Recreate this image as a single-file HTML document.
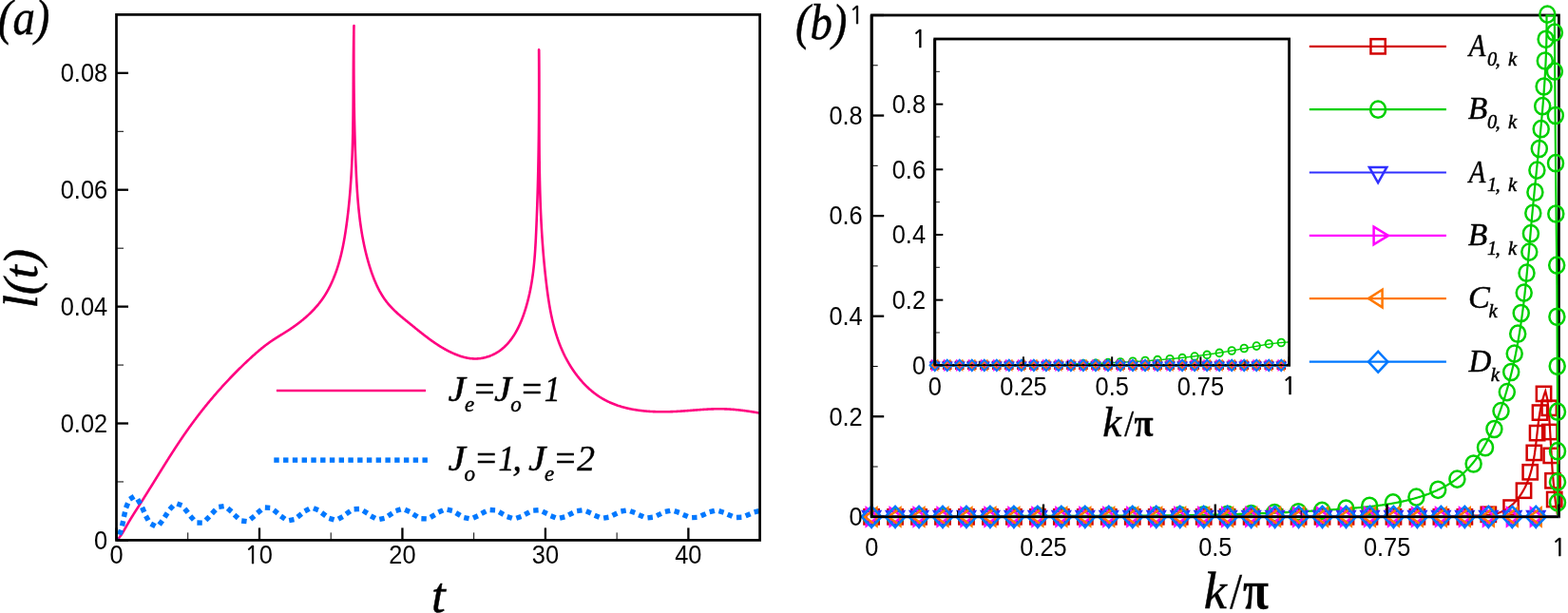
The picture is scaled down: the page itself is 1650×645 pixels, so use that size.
<!DOCTYPE html>
<html><head><meta charset="utf-8"><title>Figure</title>
<style>html,body{margin:0;padding:0;background:#fff;overflow:hidden;} svg{display:block;}</style></head>
<body>
<svg width="1650" height="645" viewBox="0 0 1650 645">
<rect x="0" y="0" width="1650" height="645" fill="#fff"/>
<path d="M122.75,568.62 L123.24,568.13 L123.73,567.63 L124.2,567.12 L124.66,566.6 L125.11,566.07 L125.55,565.53 L125.97,564.99 L126.39,564.44 L126.8,563.88 L127.21,563.32 L127.6,562.75 L127.99,562.17 L128.37,561.59 L128.74,561.01 L129.11,560.42 L129.47,559.83 L129.83,559.23 L130.19,558.63 L130.54,558.03 L130.89,557.43 L131.24,556.82 L131.58,556.21 L131.92,555.6 L132.27,554.99 L132.61,554.38 L132.95,553.77 L133.29,553.16 L133.64,552.55 L133.98,551.95 L134.33,551.34 L134.68,550.73 L135.03,550.13 L135.39,549.53 L135.74,548.92 L136.1,548.32 L136.46,547.72 L136.82,547.12 L137.18,546.52 L137.54,545.93 L137.9,545.33 L138.27,544.74 L138.63,544.14 L139,543.55 L139.37,542.95 L139.74,542.36 L140.11,541.77 L140.48,541.18 L140.85,540.59 L141.23,539.99 L141.6,539.4 L141.97,538.81 L142.35,538.22 L142.72,537.64 L143.1,537.05 L143.48,536.46 L143.85,535.87 L144.23,535.28 L144.61,534.69 L144.99,534.11 L145.36,533.52 L145.74,532.93 L146.12,532.34 L146.5,531.75 L146.87,531.17 L147.25,530.58 L147.63,529.99 L148,529.4 L148.38,528.81 L148.76,528.22 L149.13,527.63 L149.51,527.04 L149.88,526.45 L150.26,525.86 L150.63,525.27 L151.01,524.68 L151.38,524.09 L151.75,523.5 L152.13,522.9 L152.5,522.31 L152.87,521.72 L153.24,521.13 L153.62,520.54 L153.99,519.94 L154.36,519.35 L154.73,518.76 L155.1,518.16 L155.47,517.57 L155.84,516.98 L156.21,516.38 L156.58,515.79 L156.95,515.19 L157.32,514.6 L157.69,514.01 L158.06,513.41 L158.43,512.82 L158.8,512.22 L159.17,511.63 L159.54,511.03 L159.91,510.44 L160.28,509.84 L160.65,509.25 L161.02,508.65 L161.38,508.06 L161.75,507.46 L162.12,506.86 L162.49,506.27 L162.86,505.67 L163.23,505.08 L163.6,504.48 L163.96,503.89 L164.33,503.29 L164.7,502.7 L165.07,502.1 L165.44,501.5 L165.81,500.91 L166.18,500.31 L166.54,499.72 L166.91,499.12 L167.28,498.53 L167.65,497.93 L168.02,497.34 L168.39,496.74 L168.76,496.15 L169.13,495.55 L169.5,494.95 L169.87,494.36 L170.24,493.77 L170.61,493.17 L170.98,492.58 L171.35,491.98 L171.72,491.39 L172.09,490.79 L172.46,490.2 L172.83,489.6 L173.2,489.01 L173.57,488.42 L173.94,487.82 L174.32,487.23 L174.69,486.64 L175.06,486.04 L175.43,485.45 L175.81,484.86 L176.18,484.27 L176.56,483.67 L176.93,483.08 L177.3,482.49 L177.68,481.9 L178.05,481.31 L178.43,480.72 L178.8,480.13 L179.18,479.54 L179.56,478.95 L179.93,478.36 L180.31,477.77 L180.69,477.18 L181.07,476.59 L181.45,476 L181.83,475.41 L182.2,474.82 L182.58,474.23 L182.97,473.65 L183.35,473.06 L183.73,472.47 L184.11,471.89 L184.49,471.3 L184.87,470.71 L185.26,470.13 L185.64,469.54 L186.03,468.96 L186.41,468.38 L186.8,467.79 L187.18,467.21 L187.57,466.63 L187.96,466.04 L188.34,465.46 L188.73,464.88 L189.12,464.3 L189.51,463.72 L189.9,463.14 L190.29,462.56 L190.68,461.98 L191.08,461.4 L191.47,460.82 L191.86,460.24 L192.26,459.66 L192.65,459.09 L193.05,458.51 L193.44,457.94 L193.84,457.36 L194.24,456.79 L194.64,456.21 L195.04,455.64 L195.44,455.06 L195.84,454.49 L196.24,453.92 L196.64,453.35 L197.04,452.78 L197.45,452.21 L197.85,451.64 L198.26,451.07 L198.66,450.5 L199.07,449.93 L199.48,449.36 L199.89,448.8 L200.3,448.23 L200.71,447.66 L201.12,447.1 L201.53,446.53 L201.94,445.97 L202.36,445.41 L202.77,444.84 L203.18,444.28 L203.6,443.72 L204.02,443.16 L204.43,442.6 L204.85,442.04 L205.27,441.48 L205.69,440.92 L206.11,440.36 L206.53,439.8 L206.95,439.25 L207.38,438.69 L207.8,438.13 L208.22,437.58 L208.65,437.02 L209.07,436.47 L209.5,435.92 L209.93,435.36 L210.35,434.81 L210.78,434.26 L211.21,433.71 L211.64,433.16 L212.07,432.61 L212.51,432.06 L212.94,431.51 L213.37,430.96 L213.81,430.42 L214.24,429.87 L214.68,429.32 L215.11,428.78 L215.55,428.23 L215.99,427.69 L216.43,427.15 L216.87,426.6 L217.31,426.06 L217.75,425.52 L218.19,424.98 L218.64,424.44 L219.08,423.9 L219.52,423.36 L219.97,422.82 L220.41,422.29 L220.86,421.75 L221.31,421.21 L221.76,420.68 L222.21,420.14 L222.66,419.61 L223.11,419.07 L223.56,418.54 L224.01,418.01 L224.46,417.47 L224.92,416.94 L225.37,416.41 L225.83,415.88 L226.28,415.35 L226.74,414.83 L227.2,414.3 L227.65,413.77 L228.11,413.24 L228.57,412.72 L229.03,412.19 L229.5,411.67 L229.96,411.14 L230.42,410.62 L230.88,410.1 L231.35,409.58 L231.81,409.06 L232.28,408.53 L232.75,408.02 L233.22,407.5 L233.68,406.98 L234.15,406.46 L234.62,405.94 L235.09,405.43 L235.57,404.91 L236.04,404.4 L236.51,403.88 L236.99,403.37 L237.46,402.85 L237.94,402.34 L238.41,401.83 L238.89,401.32 L239.37,400.81 L239.84,400.3 L240.32,399.79 L240.8,399.28 L241.29,398.78 L241.77,398.27 L242.25,397.76 L242.73,397.26 L243.22,396.75 L243.7,396.25 L244.19,395.75 L244.67,395.24 L245.16,394.74 L245.65,394.24 L246.14,393.74 L246.63,393.24 L247.12,392.74 L247.61,392.24 L248.1,391.75 L248.59,391.25 L249.09,390.75 L249.58,390.26 L250.07,389.76 L250.57,389.27 L251.07,388.78 L251.56,388.28 L252.06,387.79 L252.56,387.3 L253.06,386.81 L253.56,386.32 L254.06,385.83 L254.56,385.35 L255.07,384.86 L255.57,384.37 L256.07,383.89 L256.58,383.4 L257.08,382.92 L257.59,382.43 L258.1,381.95 L258.61,381.47 L259.12,380.99 L259.62,380.51 L260.14,380.03 L260.65,379.55 L261.16,379.07 L261.67,378.59 L262.18,378.12 L262.7,377.64 L263.21,377.16 L263.73,376.69 L264.25,376.22 L264.76,375.74 L265.28,375.27 L265.8,374.8 L266.32,374.33 L266.84,373.86 L267.37,373.4 L267.89,372.93 L268.41,372.47 L268.94,372 L269.47,371.54 L269.99,371.08 L270.52,370.62 L271.05,370.16 L271.59,369.71 L272.12,369.25 L272.65,368.8 L273.19,368.35 L273.73,367.9 L274.27,367.46 L274.81,367.01 L275.35,366.57 L275.89,366.13 L276.44,365.69 L276.98,365.25 L277.53,364.82 L278.08,364.38 L278.63,363.96 L279.19,363.53 L279.74,363.1 L280.3,362.68 L280.86,362.26 L281.42,361.84 L281.98,361.43 L282.55,361.02 L283.11,360.61 L283.68,360.2 L284.25,359.8 L284.83,359.4 L285.4,359 L285.98,358.61 L286.56,358.22 L287.14,357.83 L287.72,357.44 L288.31,357.06 L288.89,356.68 L289.48,356.3 L290.07,355.92 L290.66,355.55 L291.25,355.18 L291.85,354.8 L292.44,354.43 L293.04,354.06 L293.63,353.69 L294.23,353.33 L294.83,352.96 L295.42,352.59 L296.02,352.22 L296.62,351.86 L297.21,351.49 L297.81,351.12 L298.41,350.75 L299,350.38 L299.6,350.01 L300.19,349.64 L300.78,349.26 L301.38,348.89 L301.97,348.51 L302.56,348.13 L303.15,347.75 L303.74,347.37 L304.32,346.98 L304.91,346.6 L305.49,346.21 L306.07,345.82 L306.65,345.42 L307.23,345.03 L307.81,344.63 L308.38,344.23 L308.96,343.83 L309.53,343.42 L310.1,343.02 L310.67,342.61 L311.24,342.2 L311.8,341.79 L312.37,341.37 L312.93,340.95 L313.49,340.53 L314.05,340.11 L314.6,339.69 L315.16,339.26 L315.71,338.83 L316.26,338.4 L316.8,337.96 L317.35,337.53 L317.89,337.09 L318.43,336.65 L318.97,336.2 L319.51,335.76 L320.04,335.31 L320.57,334.86 L321.1,334.4 L321.62,333.95 L322.15,333.49 L322.67,333.02 L323.19,332.56 L323.7,332.09 L324.21,331.62 L324.72,331.15 L325.23,330.67 L325.74,330.2 L326.24,329.72 L326.74,329.23 L327.23,328.75 L327.72,328.26 L328.21,327.76 L328.7,327.27 L329.18,326.77 L329.67,326.27 L330.14,325.77 L330.62,325.26 L331.09,324.75 L331.56,324.24 L332.02,323.72 L332.48,323.21 L332.94,322.69 L333.39,322.16 L333.84,321.63 L334.29,321.1 L334.73,320.57 L335.17,320.03 L335.61,319.49 L336.04,318.95 L336.47,318.4 L336.9,317.85 L337.32,317.3 L337.74,316.75 L338.15,316.19 L338.56,315.62 L338.97,315.06 L339.37,314.49 L339.77,313.92 L340.16,313.34 L340.55,312.76 L340.94,312.18 L341.32,311.6 L341.7,311.01 L342.07,310.42 L342.44,309.82 L342.81,309.22 L343.17,308.62 L343.53,308.02 L343.88,307.41 L344.23,306.8 L344.58,306.19 L344.92,305.58 L345.26,304.96 L345.59,304.34 L345.93,303.72 L346.25,303.1 L346.58,302.47 L346.9,301.84 L347.21,301.21 L347.53,300.57 L347.84,299.94 L348.14,299.3 L348.45,298.66 L348.74,298.02 L349.04,297.38 L349.33,296.73 L349.62,296.08 L349.91,295.44 L350.19,294.79 L350.46,294.13 L350.74,293.48 L351.01,292.83 L351.28,292.17 L351.54,291.51 L351.81,290.85 L352.06,290.19 L352.32,289.53 L352.57,288.87 L352.82,288.21 L353.06,287.54 L353.31,286.88 L353.55,286.21 L353.78,285.54 L354.02,284.88 L354.25,284.21 L354.47,283.54 L354.7,282.87 L354.92,282.2 L355.14,281.53 L355.35,280.86 L355.56,280.19 L355.77,279.51 L355.98,278.84 L356.18,278.17 L356.38,277.5 L356.58,276.82 L356.78,276.15 L356.97,275.47 L357.16,274.8 L357.35,274.12 L357.53,273.45 L357.72,272.77 L357.9,272.09 L358.07,271.42 L358.25,270.74 L358.42,270.06 L358.59,269.38 L358.76,268.71 L358.93,268.03 L359.09,267.35 L359.25,266.67 L359.41,265.99 L359.57,265.31 L359.72,264.63 L359.87,263.95 L360.02,263.27 L360.17,262.58 L360.32,261.9 L360.46,261.22 L360.61,260.54 L360.75,259.86 L360.89,259.17 L361.02,258.49 L361.16,257.81 L361.29,257.12 L361.42,256.44 L361.55,255.75 L361.68,255.07 L361.81,254.38 L361.93,253.7 L362.06,253.01 L362.18,252.33 L362.3,251.64 L362.42,250.95 L362.54,250.27 L362.65,249.58 L362.77,248.89 L362.88,248.21 L362.99,247.52 L363.1,246.83 L363.21,246.14 L363.32,245.46 L363.43,244.77 L363.54,244.08 L363.64,243.39 L363.74,242.7 L363.85,242.01 L363.95,241.33 L364.05,240.64 L364.15,239.95 L364.25,239.26 L364.35,238.57 L364.44,237.88 L364.54,237.19 L364.64,236.5 L364.73,235.81 L364.82,235.12 L364.92,234.43 L365.01,233.74 L365.1,233.05 L365.19,232.36 L365.28,231.67 L365.37,230.98 L365.46,230.28 L365.54,229.59 L365.63,228.9 L365.71,228.21 L365.8,227.52 L365.88,226.83 L365.96,226.13 L366.05,225.44 L366.13,224.75 L366.21,224.06 L366.29,223.37 L366.37,222.67 L366.45,221.98 L366.52,221.29 L366.6,220.6 L366.67,219.9 L366.75,219.21 L366.82,218.52 L366.9,217.82 L366.97,217.13 L367.04,216.44 L367.11,215.74 L367.18,215.05 L367.25,214.36 L367.32,213.66 L367.39,212.97 L367.46,212.27 L367.52,211.58 L367.59,210.89 L367.66,210.19 L367.72,209.5 L367.78,208.8 L367.85,208.11 L367.91,207.41 L367.97,206.72 L368.03,206.02 L368.09,205.33 L368.15,204.63 L368.21,203.94 L368.27,203.24 L368.33,202.55 L368.39,201.85 L368.44,201.15 L368.5,200.46 L368.55,199.76 L368.61,199.07 L368.66,198.37 L368.72,197.67 L368.77,196.98 L368.82,196.28 L368.87,195.59 L368.92,194.89 L368.97,194.19 L369.02,193.5 L369.07,192.8 L369.12,192.1 L369.17,191.41 L369.21,190.71 L369.26,190.01 L369.3,189.31 L369.35,188.62 L369.39,187.92 L369.44,187.22 L369.48,186.52 L369.52,185.83 L369.57,185.13 L369.61,184.43 L369.65,183.73 L369.69,183.04 L369.73,182.34 L369.77,181.64 L369.81,180.94 L369.85,180.24 L369.89,179.55 L369.92,178.85 L369.96,178.15 L370,177.45 L370.03,176.75 L370.07,176.05 L370.1,175.36 L370.14,174.66 L370.17,173.96 L370.2,173.26 L370.24,172.56 L370.27,171.86 L370.3,171.16 L370.33,170.46 L370.36,169.76 L370.39,169.07 L370.42,168.37 L370.45,167.67 L370.48,166.97 L370.51,166.27 L370.54,165.57 L370.57,164.87 L370.59,164.17 L370.62,163.47 L370.65,162.77 L370.67,162.07 L370.7,161.37 L370.72,160.67 L370.75,159.97 L370.77,159.27 L370.79,158.57 L370.82,157.87 L370.84,157.17 L370.86,156.47 L370.88,155.77 L370.91,155.07 L370.93,154.37 L370.95,153.67 L370.97,152.97 L370.99,152.27 L371.01,151.57 L371.03,150.87 L371.05,150.17 L371.07,149.47 L371.08,148.77 L371.1,148.07 L371.12,147.37 L371.14,146.67 L371.15,145.97 L371.17,145.27 L371.19,144.56 L371.2,143.86 L371.22,143.16 L371.23,142.46 L371.25,141.76 L371.26,141.06 L371.28,140.36 L371.29,139.66 L371.31,138.96 L371.32,138.26 L371.33,137.56 L371.35,136.86 L371.36,136.15 L371.37,135.45 L371.38,134.75 L371.4,134.05 L371.41,133.35 L371.42,132.65 L371.43,131.95 L371.44,131.25 L371.45,130.55 L371.46,129.85 L371.47,129.14 L371.48,128.44 L371.49,127.74 L371.5,127.04 L371.51,126.34 L371.52,125.64 L371.53,124.94 L371.53,124.24 L371.54,123.53 L371.55,122.83 L371.56,122.13 L371.57,121.43 L371.57,120.73 L371.58,120.03 L371.59,119.33 L371.6,118.63 L371.6,117.93 L371.61,117.22 L371.61,116.52 L371.62,115.82 L371.63,115.12 L371.63,114.42 L371.64,113.72 L371.64,113.02 L371.65,112.32 L371.65,111.61 L371.66,110.91 L371.67,110.21 L371.67,109.51 L371.67,108.81 L371.68,108.11 L371.68,107.41 L371.69,106.71 L371.69,106.01 L371.7,105.3 L371.7,104.6 L371.71,103.9 L371.71,103.2 L371.71,102.5 L371.72,101.8 L371.72,101.1 L371.72,100.4 L371.73,99.7 L371.73,99 L371.73,98.29 L371.74,97.59 L371.74,96.89 L371.74,96.19 L371.75,95.49 L371.75,94.79 L371.75,94.09 L371.76,93.39 L371.76,92.69 L371.76,91.99 L371.77,91.29 L371.77,90.59 L371.77,89.89 L371.78,89.19 L371.78,88.49 L371.78,87.78 L371.78,87.08 L371.79,86.38 L371.79,85.68 L371.79,84.98 L371.8,84.28 L371.8,83.58 L371.8,82.88 L371.81,82.18 L371.81,81.48 L371.81,80.78 L371.81,80.08 L371.82,79.38 L371.82,78.68 L371.82,77.98 L371.83,77.28 L371.83,76.58 L371.84,75.88 L371.84,75.18 L371.84,74.48 L371.85,73.78 L371.85,73.08 L371.85,72.39 L371.86,71.69 L371.86,70.99 L371.87,70.29 L371.87,69.59 L371.88,68.89 L371.88,68.19 L371.88,67.49 L371.89,66.79 L371.89,66.09 L371.9,65.39 L371.9,64.69 L371.91,64 L371.92,63.3 L371.92,62.6 L371.93,61.9 L371.93,61.2 L371.94,60.5 L371.94,59.8 L371.95,59.11 L371.96,58.41 L371.96,57.71 L371.97,57.01 L371.98,56.31 L371.99,55.61 L371.99,54.92 L372,54.22 L372.01,53.52 L372.02,52.82 L372.03,52.13 L372.03,51.43 L372.04,50.73 L372.05,50.03 L372.06,49.34 L372.07,48.64 L372.08,47.94 L372.09,47.24 L372.1,46.55 L372.11,45.85 L372.12,45.15 L372.13,44.46 L372.14,43.76 L372.15,43.06 L372.17,42.37 L372.18,41.67 L372.19,40.97 L372.2,40.28 L372.21,39.58 L372.23,38.89 L372.24,38.19 L372.25,37.49 L372.27,36.8 L372.28,36.1 L372.3,35.41 L372.31,34.71 L372.33,34.02 L372.34,33.32 L372.36,32.62 L372.37,31.93 L372.39,31.23 L372.41,30.54 L372.42,29.84 L372.44,29.15 L372.46,28.46 L372.48,27.76 L372.5,27.07 L372.39,27.69 L372.38,28.39 L372.38,29.09 L372.38,29.79 L372.37,30.49 L372.37,31.19 L372.37,31.89 L372.37,32.6 L372.36,33.3 L372.36,34 L372.36,34.7 L372.36,35.4 L372.35,36.1 L372.35,36.8 L372.35,37.5 L372.35,38.2 L372.34,38.9 L372.34,39.61 L372.34,40.31 L372.34,41.01 L372.34,41.71 L372.33,42.41 L372.33,43.11 L372.33,43.81 L372.33,44.51 L372.33,45.21 L372.33,45.91 L372.33,46.61 L372.32,47.31 L372.32,48.01 L372.32,48.71 L372.32,49.41 L372.32,50.11 L372.32,50.81 L372.32,51.52 L372.32,52.22 L372.32,52.92 L372.32,53.62 L372.32,54.32 L372.32,55.02 L372.32,55.72 L372.32,56.42 L372.32,57.12 L372.32,57.82 L372.32,58.52 L372.32,59.22 L372.32,59.92 L372.32,60.62 L372.32,61.32 L372.32,62.02 L372.32,62.72 L372.32,63.42 L372.33,64.12 L372.33,64.82 L372.33,65.52 L372.33,66.22 L372.33,66.92 L372.33,67.62 L372.33,68.32 L372.34,69.02 L372.34,69.72 L372.34,70.42 L372.34,71.12 L372.35,71.82 L372.35,72.52 L372.35,73.22 L372.35,73.92 L372.36,74.62 L372.36,75.32 L372.36,76.02 L372.37,76.72 L372.37,77.42 L372.37,78.12 L372.38,78.82 L372.38,79.51 L372.39,80.21 L372.39,80.91 L372.39,81.61 L372.4,82.31 L372.4,83.01 L372.41,83.71 L372.41,84.41 L372.42,85.11 L372.42,85.81 L372.43,86.51 L372.43,87.21 L372.44,87.91 L372.44,88.61 L372.45,89.31 L372.46,90.01 L372.46,90.71 L372.47,91.41 L372.47,92.11 L372.48,92.81 L372.49,93.51 L372.49,94.2 L372.5,94.9 L372.51,95.6 L372.52,96.3 L372.52,97 L372.53,97.7 L372.54,98.4 L372.55,99.1 L372.55,99.8 L372.56,100.5 L372.57,101.2 L372.58,101.9 L372.59,102.6 L372.6,103.3 L372.61,104 L372.61,104.69 L372.62,105.39 L372.63,106.09 L372.64,106.79 L372.65,107.49 L372.66,108.19 L372.67,108.89 L372.68,109.59 L372.69,110.29 L372.7,110.99 L372.71,111.69 L372.73,112.39 L372.74,113.09 L372.75,113.78 L372.76,114.48 L372.77,115.18 L372.78,115.88 L372.79,116.58 L372.81,117.28 L372.82,117.98 L372.83,118.68 L372.84,119.38 L372.86,120.08 L372.87,120.78 L372.88,121.48 L372.9,122.17 L372.91,122.87 L372.93,123.57 L372.94,124.27 L372.95,124.97 L372.97,125.67 L372.98,126.37 L373,127.07 L373.01,127.77 L373.03,128.47 L373.04,129.17 L373.06,129.87 L373.07,130.56 L373.09,131.26 L373.11,131.96 L373.12,132.66 L373.14,133.36 L373.16,134.06 L373.17,134.76 L373.19,135.46 L373.21,136.16 L373.22,136.86 L373.24,137.56 L373.26,138.26 L373.28,138.96 L373.3,139.65 L373.32,140.35 L373.33,141.05 L373.35,141.75 L373.37,142.45 L373.39,143.15 L373.41,143.85 L373.43,144.55 L373.45,145.25 L373.47,145.95 L373.49,146.65 L373.51,147.35 L373.53,148.05 L373.56,148.74 L373.58,149.44 L373.6,150.14 L373.62,150.84 L373.64,151.54 L373.66,152.24 L373.69,152.94 L373.71,153.64 L373.73,154.34 L373.76,155.04 L373.78,155.74 L373.8,156.44 L373.83,157.14 L373.85,157.84 L373.87,158.54 L373.9,159.23 L373.92,159.93 L373.95,160.63 L373.97,161.33 L374,162.03 L374.03,162.73 L374.05,163.43 L374.08,164.13 L374.1,164.83 L374.13,165.53 L374.16,166.23 L374.18,166.93 L374.21,167.63 L374.24,168.33 L374.27,169.03 L374.3,169.73 L374.32,170.43 L374.35,171.13 L374.38,171.83 L374.41,172.53 L374.44,173.23 L374.47,173.93 L374.5,174.63 L374.53,175.32 L374.56,176.02 L374.59,176.72 L374.62,177.42 L374.65,178.12 L374.68,178.82 L374.72,179.52 L374.75,180.22 L374.78,180.92 L374.81,181.62 L374.85,182.32 L374.88,183.02 L374.91,183.72 L374.95,184.42 L374.98,185.12 L375.02,185.82 L375.05,186.52 L375.09,187.22 L375.12,187.92 L375.16,188.62 L375.2,189.32 L375.23,190.02 L375.27,190.72 L375.31,191.42 L375.35,192.12 L375.39,192.82 L375.43,193.52 L375.47,194.22 L375.51,194.92 L375.55,195.62 L375.59,196.32 L375.64,197.02 L375.68,197.71 L375.72,198.41 L375.77,199.11 L375.81,199.81 L375.86,200.51 L375.9,201.21 L375.95,201.91 L376,202.61 L376.05,203.31 L376.1,204 L376.15,204.7 L376.2,205.4 L376.25,206.1 L376.3,206.8 L376.35,207.5 L376.41,208.19 L376.46,208.89 L376.52,209.59 L376.57,210.29 L376.63,210.99 L376.69,211.68 L376.75,212.38 L376.81,213.08 L376.87,213.78 L376.93,214.47 L376.99,215.17 L377.06,215.87 L377.12,216.56 L377.19,217.26 L377.25,217.96 L377.32,218.65 L377.39,219.35 L377.46,220.04 L377.53,220.74 L377.6,221.44 L377.67,222.13 L377.74,222.83 L377.82,223.52 L377.89,224.22 L377.97,224.91 L378.05,225.61 L378.13,226.3 L378.21,227 L378.29,227.69 L378.37,228.39 L378.46,229.08 L378.54,229.77 L378.63,230.47 L378.71,231.16 L378.8,231.85 L378.89,232.55 L378.98,233.24 L379.07,233.93 L379.17,234.63 L379.26,235.32 L379.36,236.01 L379.46,236.7 L379.55,237.39 L379.65,238.08 L379.76,238.78 L379.86,239.47 L379.96,240.16 L380.07,240.85 L380.17,241.54 L380.28,242.23 L380.39,242.92 L380.5,243.61 L380.62,244.3 L380.73,244.99 L380.85,245.68 L380.96,246.37 L381.08,247.05 L381.2,247.74 L381.32,248.43 L381.45,249.12 L381.57,249.81 L381.7,250.49 L381.83,251.18 L381.95,251.87 L382.09,252.55 L382.22,253.24 L382.35,253.93 L382.49,254.61 L382.63,255.3 L382.77,255.98 L382.91,256.67 L383.05,257.35 L383.19,258.04 L383.34,258.72 L383.49,259.41 L383.64,260.09 L383.79,260.77 L383.94,261.46 L384.1,262.14 L384.25,262.82 L384.41,263.5 L384.57,264.18 L384.73,264.87 L384.9,265.55 L385.06,266.23 L385.23,266.91 L385.4,267.59 L385.57,268.27 L385.75,268.95 L385.92,269.63 L386.1,270.31 L386.28,270.98 L386.46,271.66 L386.64,272.34 L386.83,273.02 L387.01,273.69 L387.2,274.37 L387.39,275.05 L387.59,275.72 L387.78,276.4 L387.98,277.08 L388.18,277.75 L388.38,278.43 L388.58,279.1 L388.79,279.77 L389,280.45 L389.21,281.12 L389.42,281.79 L389.63,282.47 L389.85,283.14 L390.07,283.81 L390.29,284.48 L390.52,285.15 L390.74,285.82 L390.97,286.48 L391.2,287.15 L391.44,287.82 L391.67,288.48 L391.91,289.14 L392.16,289.81 L392.4,290.47 L392.65,291.13 L392.9,291.79 L393.15,292.44 L393.41,293.1 L393.67,293.75 L393.93,294.41 L394.2,295.06 L394.47,295.71 L394.74,296.35 L395.02,297 L395.3,297.64 L395.58,298.28 L395.87,298.92 L396.16,299.56 L396.45,300.2 L396.75,300.83 L397.05,301.46 L397.35,302.09 L397.66,302.72 L397.97,303.34 L398.28,303.96 L398.6,304.58 L398.93,305.2 L399.25,305.81 L399.59,306.42 L399.92,307.03 L400.26,307.63 L400.6,308.24 L400.95,308.84 L401.3,309.43 L401.66,310.03 L402.02,310.62 L402.38,311.2 L402.75,311.79 L403.13,312.37 L403.5,312.94 L403.89,313.52 L404.27,314.09 L404.67,314.65 L405.06,315.22 L405.46,315.78 L405.87,316.33 L406.28,316.88 L406.7,317.43 L407.12,317.97 L407.54,318.51 L407.97,319.05 L408.41,319.58 L408.85,320.11 L409.3,320.63 L409.75,321.15 L410.2,321.67 L410.66,322.18 L411.13,322.69 L411.6,323.19 L412.07,323.69 L412.55,324.19 L413.03,324.69 L413.52,325.18 L414.01,325.67 L414.5,326.15 L415,326.64 L415.5,327.12 L416,327.59 L416.51,328.07 L417.02,328.54 L417.53,329.01 L418.05,329.48 L418.56,329.94 L419.09,330.41 L419.61,330.87 L420.14,331.33 L420.66,331.79 L421.19,332.25 L421.73,332.7 L422.26,333.15 L422.8,333.61 L423.34,334.06 L423.88,334.51 L424.42,334.96 L424.96,335.4 L425.51,335.85 L426.05,336.3 L426.6,336.74 L427.14,337.19 L427.69,337.63 L428.24,338.08 L428.79,338.52 L429.34,338.97 L429.89,339.41 L430.44,339.85 L430.99,340.3 L431.54,340.74 L432.09,341.19 L432.64,341.63 L433.19,342.08 L433.74,342.52 L434.29,342.97 L434.84,343.41 L435.39,343.86 L435.94,344.3 L436.49,344.75 L437.04,345.19 L437.59,345.64 L438.14,346.08 L438.7,346.53 L439.25,346.97 L439.8,347.42 L440.35,347.86 L440.9,348.3 L441.46,348.74 L442.01,349.18 L442.56,349.62 L443.12,350.06 L443.67,350.5 L444.23,350.94 L444.78,351.37 L445.34,351.81 L445.9,352.24 L446.46,352.67 L447.01,353.11 L447.57,353.54 L448.13,353.96 L448.7,354.39 L449.26,354.82 L449.82,355.24 L450.38,355.66 L450.95,356.08 L451.52,356.5 L452.08,356.92 L452.65,357.33 L453.22,357.75 L453.79,358.16 L454.36,358.57 L454.93,358.97 L455.51,359.38 L456.08,359.78 L456.66,360.18 L457.24,360.58 L457.82,360.97 L458.4,361.36 L458.98,361.75 L459.56,362.14 L460.15,362.53 L460.73,362.91 L461.32,363.29 L461.91,363.66 L462.5,364.03 L463.09,364.4 L463.69,364.77 L464.29,365.14 L464.88,365.5 L465.48,365.85 L466.08,366.21 L466.69,366.56 L467.29,366.9 L467.9,367.25 L468.51,367.59 L469.12,367.92 L469.73,368.26 L470.35,368.59 L470.97,368.91 L471.59,369.23 L472.21,369.55 L472.83,369.86 L473.46,370.17 L474.09,370.48 L474.72,370.78 L475.35,371.07 L475.99,371.37 L476.62,371.65 L477.26,371.94 L477.91,372.22 L478.55,372.49 L479.2,372.76 L479.85,373.02 L480.5,373.28 L481.16,373.54 L481.81,373.78 L482.47,374.03 L483.13,374.26 L483.79,374.49 L484.46,374.71 L485.13,374.93 L485.79,375.14 L486.46,375.34 L487.14,375.53 L487.81,375.72 L488.48,375.9 L489.16,376.07 L489.84,376.23 L490.52,376.38 L491.2,376.52 L491.88,376.66 L492.57,376.78 L493.25,376.9 L493.94,377 L494.62,377.1 L495.31,377.19 L496,377.26 L496.69,377.32 L497.38,377.38 L498.07,377.42 L498.76,377.45 L499.46,377.47 L500.15,377.47 L500.84,377.47 L501.54,377.45 L502.23,377.42 L502.93,377.38 L503.62,377.32 L504.32,377.25 L505.01,377.18 L505.7,377.09 L506.4,376.98 L507.09,376.87 L507.78,376.75 L508.46,376.61 L509.15,376.47 L509.83,376.31 L510.51,376.14 L511.19,375.96 L511.87,375.77 L512.54,375.57 L513.21,375.36 L513.88,375.14 L514.54,374.91 L515.2,374.67 L515.85,374.42 L516.5,374.16 L517.14,373.9 L517.78,373.62 L518.42,373.33 L519.05,373.04 L519.67,372.73 L520.29,372.42 L520.91,372.1 L521.51,371.77 L522.11,371.43 L522.7,371.08 L523.29,370.73 L523.87,370.36 L524.45,369.99 L525.01,369.61 L525.57,369.23 L526.13,368.83 L526.68,368.43 L527.22,368.02 L527.76,367.61 L528.29,367.18 L528.81,366.75 L529.33,366.31 L529.84,365.87 L530.35,365.42 L530.85,364.96 L531.34,364.49 L531.83,364.02 L532.31,363.54 L532.79,363.06 L533.26,362.57 L533.73,362.07 L534.19,361.57 L534.64,361.06 L535.09,360.55 L535.53,360.03 L535.97,359.5 L536.4,358.97 L536.83,358.43 L537.25,357.89 L537.67,357.34 L538.08,356.79 L538.49,356.23 L538.89,355.67 L539.29,355.1 L539.68,354.53 L540.07,353.95 L540.45,353.37 L540.82,352.79 L541.2,352.2 L541.56,351.6 L541.93,351 L542.28,350.4 L542.64,349.79 L542.99,349.18 L543.33,348.57 L543.67,347.95 L544.01,347.33 L544.34,346.71 L544.66,346.08 L544.99,345.45 L545.3,344.81 L545.62,344.17 L545.93,343.53 L546.23,342.89 L546.53,342.24 L546.83,341.59 L547.12,340.94 L547.41,340.29 L547.7,339.63 L547.98,338.97 L548.26,338.31 L548.53,337.65 L548.8,336.98 L549.07,336.31 L549.33,335.64 L549.59,334.97 L549.85,334.3 L550.1,333.63 L550.35,332.95 L550.6,332.28 L550.84,331.6 L551.08,330.92 L551.31,330.24 L551.54,329.56 L551.77,328.88 L552,328.2 L552.22,327.51 L552.44,326.83 L552.66,326.15 L552.88,325.46 L553.09,324.78 L553.29,324.09 L553.5,323.41 L553.7,322.72 L553.9,322.04 L554.1,321.35 L554.29,320.67 L554.49,319.98 L554.68,319.3 L554.86,318.61 L555.05,317.93 L555.23,317.24 L555.41,316.56 L555.58,315.87 L555.76,315.19 L555.93,314.5 L556.09,313.81 L556.26,313.13 L556.42,312.44 L556.58,311.76 L556.74,311.07 L556.9,310.38 L557.05,309.7 L557.21,309.01 L557.35,308.32 L557.5,307.63 L557.65,306.95 L557.79,306.26 L557.93,305.57 L558.07,304.89 L558.2,304.2 L558.33,303.51 L558.47,302.82 L558.6,302.13 L558.72,301.45 L558.85,300.76 L558.97,300.07 L559.09,299.38 L559.21,298.69 L559.33,298 L559.44,297.32 L559.56,296.63 L559.67,295.94 L559.78,295.25 L559.88,294.56 L559.99,293.87 L560.09,293.18 L560.19,292.49 L560.29,291.8 L560.39,291.11 L560.49,290.42 L560.58,289.73 L560.68,289.04 L560.77,288.35 L560.86,287.66 L560.95,286.97 L561.03,286.28 L561.12,285.59 L561.2,284.9 L561.28,284.21 L561.36,283.52 L561.44,282.83 L561.52,282.14 L561.6,281.45 L561.67,280.76 L561.74,280.07 L561.82,279.37 L561.89,278.68 L561.95,277.99 L562.02,277.3 L562.09,276.61 L562.15,275.92 L562.22,275.22 L562.28,274.53 L562.34,273.84 L562.4,273.15 L562.46,272.46 L562.52,271.76 L562.58,271.07 L562.63,270.38 L562.69,269.69 L562.74,268.99 L562.8,268.3 L562.85,267.61 L562.9,266.91 L562.95,266.22 L563,265.53 L563.05,264.83 L563.09,264.14 L563.14,263.45 L563.18,262.75 L563.23,262.06 L563.27,261.37 L563.32,260.67 L563.36,259.98 L563.4,259.28 L563.44,258.59 L563.48,257.89 L563.52,257.2 L563.56,256.51 L563.6,255.81 L563.64,255.12 L563.67,254.42 L563.71,253.73 L563.75,253.03 L563.78,252.34 L563.82,251.64 L563.85,250.95 L563.89,250.25 L563.92,249.56 L563.96,248.86 L563.99,248.16 L564.02,247.47 L564.05,246.77 L564.09,246.08 L564.12,245.38 L564.15,244.69 L564.18,243.99 L564.21,243.29 L564.24,242.6 L564.28,241.9 L564.31,241.2 L564.34,240.51 L564.37,239.81 L564.4,239.11 L564.43,238.42 L564.46,237.72 L564.49,237.02 L564.52,236.33 L564.55,235.63 L564.57,234.93 L564.6,234.23 L564.63,233.54 L564.66,232.84 L564.69,232.14 L564.72,231.44 L564.74,230.75 L564.77,230.05 L564.8,229.35 L564.83,228.65 L564.85,227.96 L564.88,227.26 L564.91,226.56 L564.93,225.86 L564.96,225.16 L564.99,224.46 L565.01,223.77 L565.04,223.07 L565.06,222.37 L565.09,221.67 L565.12,220.97 L565.14,220.27 L565.17,219.57 L565.19,218.87 L565.21,218.18 L565.24,217.48 L565.26,216.78 L565.29,216.08 L565.31,215.38 L565.33,214.68 L565.36,213.98 L565.38,213.28 L565.4,212.58 L565.43,211.88 L565.45,211.18 L565.47,210.48 L565.49,209.78 L565.52,209.08 L565.54,208.38 L565.56,207.68 L565.58,206.98 L565.6,206.28 L565.63,205.58 L565.65,204.88 L565.67,204.18 L565.69,203.48 L565.71,202.78 L565.73,202.08 L565.75,201.38 L565.77,200.68 L565.79,199.98 L565.81,199.28 L565.83,198.58 L565.85,197.88 L565.87,197.18 L565.89,196.48 L565.91,195.78 L565.93,195.08 L565.94,194.38 L565.96,193.68 L565.98,192.98 L566,192.28 L566.02,191.58 L566.03,190.87 L566.05,190.17 L566.07,189.47 L566.09,188.77 L566.1,188.07 L566.12,187.37 L566.14,186.67 L566.16,185.97 L566.17,185.27 L566.19,184.57 L566.2,183.86 L566.22,183.16 L566.24,182.46 L566.25,181.76 L566.27,181.06 L566.28,180.36 L566.3,179.66 L566.31,178.95 L566.33,178.25 L566.34,177.55 L566.36,176.85 L566.37,176.15 L566.39,175.45 L566.4,174.75 L566.42,174.04 L566.43,173.34 L566.44,172.64 L566.46,171.94 L566.47,171.24 L566.48,170.54 L566.5,169.83 L566.51,169.13 L566.52,168.43 L566.54,167.73 L566.55,167.03 L566.56,166.33 L566.57,165.62 L566.59,164.92 L566.6,164.22 L566.61,163.52 L566.62,162.82 L566.63,162.11 L566.65,161.41 L566.66,160.71 L566.67,160.01 L566.68,159.31 L566.69,158.61 L566.7,157.9 L566.71,157.2 L566.72,156.5 L566.73,155.8 L566.74,155.1 L566.75,154.39 L566.76,153.69 L566.77,152.99 L566.78,152.29 L566.79,151.59 L566.8,150.88 L566.81,150.18 L566.82,149.48 L566.83,148.78 L566.84,148.08 L566.85,147.37 L566.86,146.67 L566.87,145.97 L566.87,145.27 L566.88,144.57 L566.89,143.87 L566.9,143.16 L566.91,142.46 L566.92,141.76 L566.92,141.06 L566.93,140.36 L566.94,139.65 L566.95,138.95 L566.95,138.25 L566.96,137.55 L566.97,136.85 L566.97,136.15 L566.98,135.44 L566.99,134.74 L566.99,134.04 L567,133.34 L567.01,132.64 L567.01,131.94 L567.02,131.23 L567.03,130.53 L567.03,129.83 L567.04,129.13 L567.04,128.43 L567.05,127.73 L567.05,127.03 L567.06,126.32 L567.06,125.62 L567.07,124.92 L567.07,124.22 L567.08,123.52 L567.08,122.82 L567.09,122.12 L567.09,121.42 L567.1,120.71 L567.1,120.01 L567.11,119.31 L567.11,118.61 L567.11,117.91 L567.12,117.21 L567.12,116.51 L567.13,115.81 L567.13,115.11 L567.13,114.4 L567.14,113.7 L567.14,113 L567.14,112.3 L567.14,111.6 L567.15,110.9 L567.15,110.2 L567.15,109.5 L567.16,108.8 L567.16,108.1 L567.16,107.4 L567.16,106.7 L567.17,106 L567.17,105.3 L567.17,104.6 L567.17,103.9 L567.17,103.2 L567.18,102.5 L567.18,101.8 L567.18,101.1 L567.18,100.4 L567.18,99.7 L567.18,99 L567.18,98.3 L567.19,97.6 L567.19,96.9 L567.19,96.2 L567.19,95.5 L567.19,94.8 L567.19,94.1 L567.19,93.4 L567.19,92.7 L567.19,92 L567.19,91.3 L567.19,90.6 L567.19,89.9 L567.19,89.2 L567.19,88.5 L567.19,87.8 L567.19,87.11 L567.19,86.41 L567.19,85.71 L567.19,85.01 L567.19,84.31 L567.19,83.61 L567.19,82.91 L567.19,82.22 L567.19,81.52 L567.19,80.82 L567.19,80.12 L567.19,79.42 L567.19,78.72 L567.18,78.03 L567.18,77.33 L567.18,76.63 L567.18,75.93 L567.18,75.23 L567.18,74.54 L567.18,73.84 L567.17,73.14 L567.17,72.44 L567.17,71.75 L567.17,71.05 L567.17,70.35 L567.17,69.66 L567.16,68.96 L567.16,68.26 L567.16,67.56 L567.16,66.87 L567.15,66.17 L567.15,65.47 L567.15,64.78 L567.15,64.08 L567.14,63.39 L567.14,62.69 L567.14,61.99 L567.14,61.3 L567.13,60.6 L567.13,59.9 L567.13,59.21 L567.12,58.51 L567.12,57.82 L567.12,57.12 L567.12,56.43 L567.11,55.73 L567.11,55.04 L567.11,54.34 L567.1,53.65 L567.1,52.95 L567.09,52.26 L567.22,52.9 L567.22,53.6 L567.23,54.3 L567.24,55 L567.25,55.69 L567.25,56.39 L567.26,57.09 L567.27,57.79 L567.27,58.49 L567.28,59.19 L567.29,59.89 L567.29,60.58 L567.3,61.28 L567.3,61.98 L567.31,62.68 L567.31,63.38 L567.32,64.08 L567.32,64.78 L567.33,65.48 L567.33,66.18 L567.34,66.87 L567.34,67.57 L567.35,68.27 L567.35,68.97 L567.36,69.67 L567.36,70.37 L567.36,71.07 L567.37,71.77 L567.37,72.47 L567.37,73.16 L567.38,73.86 L567.38,74.56 L567.38,75.26 L567.39,75.96 L567.39,76.66 L567.39,77.36 L567.39,78.06 L567.4,78.76 L567.4,79.46 L567.4,80.16 L567.4,80.85 L567.4,81.55 L567.41,82.25 L567.41,82.95 L567.41,83.65 L567.41,84.35 L567.41,85.05 L567.41,85.75 L567.42,86.45 L567.42,87.15 L567.42,87.85 L567.42,88.55 L567.42,89.24 L567.42,89.94 L567.42,90.64 L567.42,91.34 L567.42,92.04 L567.43,92.74 L567.43,93.44 L567.43,94.14 L567.43,94.84 L567.43,95.54 L567.43,96.24 L567.43,96.94 L567.43,97.64 L567.43,98.33 L567.43,99.03 L567.43,99.73 L567.43,100.43 L567.43,101.13 L567.43,101.83 L567.43,102.53 L567.43,103.23 L567.43,103.93 L567.43,104.63 L567.43,105.33 L567.43,106.03 L567.43,106.73 L567.43,107.43 L567.43,108.13 L567.43,108.82 L567.43,109.52 L567.43,110.22 L567.43,110.92 L567.43,111.62 L567.43,112.32 L567.43,113.02 L567.43,113.72 L567.43,114.42 L567.43,115.12 L567.43,115.82 L567.43,116.52 L567.43,117.22 L567.43,117.92 L567.43,118.62 L567.43,119.32 L567.43,120.01 L567.43,120.71 L567.43,121.41 L567.43,122.11 L567.43,122.81 L567.43,123.51 L567.44,124.21 L567.44,124.91 L567.44,125.61 L567.44,126.31 L567.44,127.01 L567.44,127.71 L567.44,128.41 L567.44,129.11 L567.44,129.81 L567.44,130.51 L567.44,131.21 L567.44,131.91 L567.44,132.6 L567.45,133.3 L567.45,134 L567.45,134.7 L567.45,135.4 L567.45,136.1 L567.45,136.8 L567.45,137.5 L567.46,138.2 L567.46,138.9 L567.46,139.6 L567.46,140.3 L567.46,141 L567.47,141.7 L567.47,142.4 L567.47,143.1 L567.47,143.79 L567.48,144.49 L567.48,145.19 L567.48,145.89 L567.49,146.59 L567.49,147.29 L567.49,147.99 L567.5,148.69 L567.5,149.39 L567.5,150.09 L567.51,150.79 L567.51,151.49 L567.51,152.19 L567.52,152.89 L567.52,153.59 L567.53,154.28 L567.53,154.98 L567.54,155.68 L567.54,156.38 L567.55,157.08 L567.55,157.78 L567.56,158.48 L567.56,159.18 L567.57,159.88 L567.57,160.58 L567.58,161.28 L567.59,161.98 L567.59,162.68 L567.6,163.38 L567.61,164.07 L567.61,164.77 L567.62,165.47 L567.63,166.17 L567.64,166.87 L567.64,167.57 L567.65,168.27 L567.66,168.97 L567.67,169.67 L567.68,170.37 L567.68,171.07 L567.69,171.77 L567.7,172.46 L567.71,173.16 L567.72,173.86 L567.73,174.56 L567.74,175.26 L567.75,175.96 L567.76,176.66 L567.77,177.36 L567.78,178.06 L567.79,178.76 L567.8,179.46 L567.81,180.15 L567.83,180.85 L567.84,181.55 L567.85,182.25 L567.86,182.95 L567.88,183.65 L567.89,184.35 L567.9,185.05 L567.91,185.75 L567.93,186.44 L567.94,187.14 L567.96,187.84 L567.97,188.54 L567.98,189.24 L568,189.94 L568.01,190.64 L568.03,191.34 L568.05,192.04 L568.06,192.73 L568.08,193.43 L568.09,194.13 L568.11,194.83 L568.13,195.53 L568.14,196.23 L568.16,196.93 L568.18,197.62 L568.2,198.32 L568.22,199.02 L568.23,199.72 L568.25,200.42 L568.27,201.12 L568.29,201.82 L568.31,202.52 L568.33,203.21 L568.35,203.91 L568.37,204.61 L568.4,205.31 L568.42,206.01 L568.44,206.71 L568.46,207.4 L568.48,208.1 L568.51,208.8 L568.53,209.5 L568.55,210.2 L568.58,210.9 L568.6,211.59 L568.62,212.29 L568.65,212.99 L568.67,213.69 L568.7,214.39 L568.72,215.09 L568.75,215.78 L568.78,216.48 L568.8,217.18 L568.83,217.88 L568.86,218.58 L568.89,219.28 L568.91,219.97 L568.94,220.67 L568.97,221.37 L569,222.07 L569.03,222.77 L569.06,223.46 L569.09,224.16 L569.12,224.86 L569.15,225.56 L569.18,226.26 L569.22,226.95 L569.25,227.65 L569.28,228.35 L569.31,229.05 L569.35,229.75 L569.38,230.44 L569.42,231.14 L569.45,231.84 L569.48,232.54 L569.52,233.23 L569.56,233.93 L569.59,234.63 L569.63,235.33 L569.67,236.02 L569.7,236.72 L569.74,237.42 L569.78,238.12 L569.82,238.82 L569.86,239.51 L569.9,240.21 L569.94,240.91 L569.98,241.6 L570.02,242.3 L570.06,243 L570.1,243.7 L570.14,244.39 L570.19,245.09 L570.23,245.79 L570.27,246.49 L570.32,247.18 L570.36,247.88 L570.41,248.58 L570.45,249.28 L570.5,249.97 L570.54,250.67 L570.59,251.37 L570.64,252.06 L570.68,252.76 L570.73,253.46 L570.78,254.15 L570.83,254.85 L570.88,255.55 L570.93,256.25 L570.98,256.94 L571.03,257.64 L571.08,258.34 L571.13,259.03 L571.19,259.73 L571.24,260.43 L571.29,261.12 L571.35,261.82 L571.4,262.52 L571.46,263.21 L571.51,263.91 L571.57,264.61 L571.62,265.3 L571.68,266 L571.74,266.7 L571.8,267.39 L571.86,268.09 L571.91,268.78 L571.97,269.48 L572.03,270.18 L572.09,270.87 L572.16,271.57 L572.22,272.27 L572.28,272.96 L572.34,273.66 L572.41,274.36 L572.47,275.05 L572.53,275.75 L572.6,276.44 L572.66,277.14 L572.73,277.84 L572.8,278.53 L572.86,279.23 L572.93,279.92 L573,280.62 L573.07,281.31 L573.14,282.01 L573.21,282.71 L573.28,283.4 L573.35,284.1 L573.42,284.79 L573.49,285.49 L573.57,286.18 L573.64,286.88 L573.71,287.58 L573.79,288.27 L573.86,288.97 L573.94,289.66 L574.01,290.36 L574.09,291.05 L574.17,291.75 L574.25,292.44 L574.33,293.14 L574.41,293.83 L574.49,294.53 L574.57,295.22 L574.65,295.92 L574.73,296.61 L574.81,297.31 L574.89,298 L574.98,298.7 L575.06,299.39 L575.15,300.09 L575.23,300.78 L575.32,301.48 L575.4,302.17 L575.49,302.87 L575.58,303.56 L575.67,304.26 L575.76,304.95 L575.85,305.65 L575.94,306.34 L576.03,307.03 L576.13,307.73 L576.22,308.42 L576.32,309.12 L576.41,309.81 L576.51,310.5 L576.61,311.2 L576.71,311.89 L576.81,312.58 L576.91,313.27 L577.01,313.97 L577.11,314.66 L577.22,315.35 L577.32,316.04 L577.43,316.73 L577.54,317.42 L577.65,318.11 L577.76,318.8 L577.87,319.49 L577.99,320.18 L578.1,320.87 L578.22,321.56 L578.34,322.25 L578.46,322.94 L578.58,323.63 L578.7,324.32 L578.82,325 L578.95,325.69 L579.08,326.38 L579.21,327.06 L579.34,327.75 L579.47,328.43 L579.6,329.12 L579.74,329.8 L579.87,330.49 L580.01,331.17 L580.15,331.85 L580.3,332.54 L580.44,333.22 L580.59,333.9 L580.74,334.58 L580.89,335.26 L581.04,335.94 L581.19,336.62 L581.35,337.3 L581.51,337.98 L581.67,338.65 L581.83,339.33 L582,340.01 L582.16,340.68 L582.33,341.36 L582.5,342.03 L582.68,342.71 L582.85,343.38 L583.03,344.05 L583.21,344.72 L583.39,345.39 L583.58,346.07 L583.77,346.73 L583.96,347.4 L584.15,348.07 L584.34,348.74 L584.54,349.41 L584.74,350.07 L584.94,350.74 L585.15,351.4 L585.35,352.07 L585.56,352.73 L585.78,353.39 L585.99,354.05 L586.21,354.71 L586.43,355.37 L586.65,356.03 L586.88,356.69 L587.11,357.35 L587.34,358 L587.58,358.66 L587.81,359.31 L588.05,359.97 L588.3,360.62 L588.54,361.27 L588.79,361.92 L589.04,362.57 L589.3,363.22 L589.56,363.87 L589.82,364.52 L590.08,365.16 L590.35,365.81 L590.62,366.45 L590.9,367.1 L591.18,367.74 L591.46,368.38 L591.74,369.02 L592.03,369.66 L592.32,370.3 L592.61,370.93 L592.91,371.57 L593.21,372.21 L593.51,372.84 L593.82,373.47 L594.13,374.1 L594.45,374.73 L594.76,375.36 L595.09,375.99 L595.41,376.62 L595.74,377.24 L596.07,377.87 L596.41,378.49 L596.75,379.11 L597.09,379.73 L597.44,380.35 L597.79,380.97 L598.14,381.59 L598.5,382.2 L598.86,382.81 L599.22,383.42 L599.59,384.03 L599.96,384.64 L600.34,385.25 L600.72,385.85 L601.1,386.45 L601.48,387.05 L601.87,387.65 L602.26,388.24 L602.66,388.84 L603.06,389.43 L603.46,390.02 L603.86,390.6 L604.27,391.19 L604.68,391.77 L605.1,392.35 L605.52,392.92 L605.94,393.49 L606.37,394.07 L606.79,394.63 L607.23,395.2 L607.66,395.76 L608.1,396.32 L608.54,396.88 L608.99,397.43 L609.44,397.98 L609.89,398.53 L610.34,399.07 L610.8,399.61 L611.26,400.15 L611.73,400.69 L612.19,401.22 L612.66,401.75 L613.14,402.27 L613.61,402.79 L614.09,403.31 L614.58,403.82 L615.06,404.33 L615.55,404.84 L616.05,405.34 L616.54,405.84 L617.04,406.33 L617.54,406.82 L618.05,407.31 L618.55,407.79 L619.07,408.27 L619.58,408.74 L620.1,409.21 L620.62,409.67 L621.14,410.14 L621.66,410.59 L622.19,411.04 L622.73,411.49 L623.26,411.93 L623.8,412.37 L624.34,412.81 L624.88,413.24 L625.43,413.66 L625.98,414.08 L626.53,414.49 L627.09,414.9 L627.64,415.31 L628.2,415.71 L628.77,416.1 L629.33,416.49 L629.9,416.87 L630.48,417.25 L631.05,417.63 L631.63,417.99 L632.21,418.36 L632.79,418.71 L633.38,419.07 L633.97,419.41 L634.56,419.75 L635.15,420.09 L635.75,420.42 L636.35,420.75 L636.95,421.07 L637.55,421.39 L638.16,421.7 L638.77,422 L639.38,422.3 L640,422.6 L640.61,422.89 L641.23,423.18 L641.85,423.46 L642.47,423.74 L643.1,424.01 L643.73,424.27 L644.36,424.54 L644.99,424.8 L645.62,425.05 L646.26,425.3 L646.9,425.54 L647.54,425.78 L648.18,426.02 L648.83,426.25 L649.47,426.47 L650.12,426.7 L650.77,426.91 L651.42,427.13 L652.08,427.34 L652.73,427.54 L653.39,427.74 L654.05,427.94 L654.71,428.13 L655.37,428.32 L656.04,428.5 L656.71,428.68 L657.37,428.86 L658.04,429.03 L658.71,429.2 L659.39,429.36 L660.06,429.52 L660.74,429.68 L661.41,429.83 L662.09,429.98 L662.77,430.12 L663.45,430.26 L664.13,430.4 L664.82,430.53 L665.5,430.67 L666.19,430.79 L666.88,430.91 L667.57,431.03 L668.26,431.15 L668.95,431.26 L669.64,431.37 L670.33,431.48 L671.03,431.58 L671.72,431.68 L672.42,431.77 L673.11,431.87 L673.81,431.96 L674.51,432.04 L675.21,432.12 L675.91,432.2 L676.61,432.28 L677.32,432.35 L678.02,432.42 L678.72,432.49 L679.43,432.56 L680.13,432.62 L680.84,432.68 L681.54,432.73 L682.25,432.79 L682.96,432.84 L683.67,432.88 L684.37,432.93 L685.08,432.97 L685.79,433.01 L686.5,433.05 L687.21,433.08 L687.92,433.11 L688.64,433.14 L689.35,433.17 L690.06,433.19 L690.77,433.21 L691.48,433.23 L692.19,433.25 L692.91,433.26 L693.62,433.28 L694.33,433.29 L695.04,433.29 L695.76,433.3 L696.47,433.3 L697.18,433.3 L697.89,433.3 L698.61,433.3 L699.32,433.29 L700.03,433.29 L700.74,433.28 L701.46,433.27 L702.17,433.25 L702.88,433.24 L703.59,433.22 L704.3,433.2 L705.01,433.18 L705.72,433.16 L706.43,433.14 L707.14,433.11 L707.85,433.09 L708.56,433.06 L709.27,433.03 L709.97,433 L710.68,432.96 L711.39,432.93 L712.09,432.89 L712.8,432.85 L713.5,432.81 L714.2,432.77 L714.91,432.73 L715.61,432.69 L716.31,432.65 L717.01,432.6 L717.71,432.55 L718.41,432.51 L719.11,432.46 L719.81,432.41 L720.5,432.36 L721.2,432.31 L721.9,432.26 L722.59,432.21 L723.29,432.15 L723.98,432.1 L724.68,432.05 L725.37,431.99 L726.06,431.94 L726.75,431.88 L727.45,431.83 L728.14,431.78 L728.83,431.72 L729.52,431.67 L730.21,431.61 L730.9,431.56 L731.59,431.5 L732.28,431.45 L732.97,431.39 L733.66,431.34 L734.34,431.29 L735.03,431.24 L735.72,431.18 L736.41,431.13 L737.1,431.08 L737.78,431.03 L738.47,430.99 L739.16,430.94 L739.85,430.89 L740.53,430.85 L741.22,430.8 L741.91,430.76 L742.59,430.72 L743.28,430.68 L743.97,430.64 L744.65,430.6 L745.34,430.56 L746.03,430.53 L746.71,430.49 L747.4,430.46 L748.09,430.43 L748.77,430.4 L749.46,430.38 L750.15,430.35 L750.84,430.33 L751.52,430.31 L752.21,430.29 L752.9,430.28 L753.59,430.27 L754.28,430.25 L754.97,430.25 L755.66,430.24 L756.35,430.24 L757.04,430.23 L757.73,430.24 L758.42,430.24 L759.11,430.25 L759.8,430.26 L760.49,430.27 L761.18,430.29 L761.88,430.31 L762.57,430.33 L763.26,430.35 L763.96,430.38 L764.65,430.41 L765.35,430.44 L766.04,430.48 L766.74,430.52 L767.43,430.56 L768.13,430.6 L768.82,430.64 L769.52,430.69 L770.22,430.74 L770.92,430.8 L771.61,430.85 L772.31,430.91 L773.01,430.97 L773.71,431.03 L774.41,431.1 L775.11,431.17 L775.81,431.24 L776.51,431.31 L777.21,431.38 L777.91,431.46 L778.61,431.53 L779.31,431.61 L780.01,431.7 L780.71,431.78 L781.41,431.87 L782.12,431.96 L782.82,432.05 L783.52,432.14 L784.22,432.23 L784.92,432.33 L785.63,432.42 L786.33,432.52 L787.03,432.62 L787.74,432.73 L788.44,432.83 L789.14,432.94 L789.85,433.04 L790.55,433.15 L791.26,433.26 L791.96,433.38 L792.66,433.49 L793.37,433.6 L794.07,433.72 L794.78,433.84 L795.48,433.96 L796.19,434.08 L796.89,434.2 L797.6,434.32 L798.3,434.45 L799.01,434.57 L799.71,434.7" fill="none" stroke="#ff0080" stroke-width="2.6" stroke-linejoin="round"/>
<clipPath id="ca"><rect x="122.5" y="15.4" width="677.1" height="553"/></clipPath><g fill="#0078ff" clip-path="url(#ca)"><rect x="-2.7" y="-2.7" width="5.4" height="5.4" transform="translate(122.64,568.49) rotate(-60)"/><rect x="-2.7" y="-2.7" width="5.4" height="5.4" transform="translate(126.56,560.16) rotate(-71)"/><rect x="-2.7" y="-2.7" width="5.4" height="5.4" transform="translate(129.08,550.77) rotate(-78)"/><rect x="-2.7" y="-2.7" width="5.4" height="5.4" transform="translate(130.99,541.24) rotate(-78)"/><rect x="-2.7" y="-2.7" width="5.4" height="5.4" transform="translate(133.57,531.87) rotate(-68)"/><rect x="-2.7" y="-2.7" width="5.4" height="5.4" transform="translate(138.81,523.79) rotate(-32)"/><rect x="-2.7" y="-2.7" width="5.4" height="5.4" transform="translate(146.21,527.72) rotate(59)"/><rect x="-2.7" y="-2.7" width="5.4" height="5.4" transform="translate(150.69,536.35) rotate(66)"/><rect x="-2.7" y="-2.7" width="5.4" height="5.4" transform="translate(154.77,545.18) rotate(61)"/><rect x="-2.7" y="-2.7" width="5.4" height="5.4" transform="translate(161.12,552.41) rotate(29)"/><rect x="-2.7" y="-2.7" width="5.4" height="5.4" transform="translate(169.2,549.99) rotate(-53)"/><rect x="-2.7" y="-2.7" width="5.4" height="5.4" transform="translate(174.69,541.95) rotate(-57)"/><rect x="-2.7" y="-2.7" width="5.4" height="5.4" transform="translate(180.36,534.04) rotate(-47)"/><rect x="-2.7" y="-2.7" width="5.4" height="5.4" transform="translate(188.86,530.86) rotate(20)"/><rect x="-2.7" y="-2.7" width="5.4" height="5.4" transform="translate(196.03,537.31) rotate(51)"/><rect x="-2.7" y="-2.7" width="5.4" height="5.4" transform="translate(202.09,544.94) rotate(48)"/><rect x="-2.7" y="-2.7" width="5.4" height="5.4" transform="translate(210.08,550.07) rotate(1)"/><rect x="-2.7" y="-2.7" width="5.4" height="5.4" transform="translate(218.38,545.54) rotate(-45)"/><rect x="-2.7" y="-2.7" width="5.4" height="5.4" transform="translate(224.94,538.31) rotate(-46)"/><rect x="-2.7" y="-2.7" width="5.4" height="5.4" transform="translate(232.92,533.01) rotate(-8)"/><rect x="-2.7" y="-2.7" width="5.4" height="5.4" transform="translate(241.63,536.61) rotate(41)"/><rect x="-2.7" y="-2.7" width="5.4" height="5.4" transform="translate(248.57,543.46) rotate(43)"/><rect x="-2.7" y="-2.7" width="5.4" height="5.4" transform="translate(256.85,548.31) rotate(7)"/><rect x="-2.7" y="-2.7" width="5.4" height="5.4" transform="translate(265.62,544.7) rotate(-39)"/><rect x="-2.7" y="-2.7" width="5.4" height="5.4" transform="translate(272.86,538.15) rotate(-40)"/><rect x="-2.7" y="-2.7" width="5.4" height="5.4" transform="translate(281.55,534.2) rotate(3)"/><rect x="-2.7" y="-2.7" width="5.4" height="5.4" transform="translate(290.19,538.34) rotate(39)"/><rect x="-2.7" y="-2.7" width="5.4" height="5.4" transform="translate(297.7,544.58) rotate(35)"/><rect x="-2.7" y="-2.7" width="5.4" height="5.4" transform="translate(306.82,547.16) rotate(-11)"/><rect x="-2.7" y="-2.7" width="5.4" height="5.4" transform="translate(315.23,542.37) rotate(-38)"/><rect x="-2.7" y="-2.7" width="5.4" height="5.4" transform="translate(323.07,536.56) rotate(-28)"/><rect x="-2.7" y="-2.7" width="5.4" height="5.4" transform="translate(332.46,535.8) rotate(21)"/><rect x="-2.7" y="-2.7" width="5.4" height="5.4" transform="translate(340.63,541.1) rotate(37)"/><rect x="-2.7" y="-2.7" width="5.4" height="5.4" transform="translate(348.94,546.16) rotate(17)"/><rect x="-2.7" y="-2.7" width="5.4" height="5.4" transform="translate(358.34,544.88) rotate(-28)"/><rect x="-2.7" y="-2.7" width="5.4" height="5.4" transform="translate(366.39,539.34) rotate(-35)"/><rect x="-2.7" y="-2.7" width="5.4" height="5.4" transform="translate(375.29,535.6) rotate(-3)"/><rect x="-2.7" y="-2.7" width="5.4" height="5.4" transform="translate(384.39,538.73) rotate(32)"/><rect x="-2.7" y="-2.7" width="5.4" height="5.4" transform="translate(392.53,544.15) rotate(29)"/><rect x="-2.7" y="-2.7" width="5.4" height="5.4" transform="translate(401.92,545.89) rotate(-12)"/><rect x="-2.7" y="-2.7" width="5.4" height="5.4" transform="translate(410.6,541.48) rotate(-34)"/><rect x="-2.7" y="-2.7" width="5.4" height="5.4" transform="translate(419.1,536.69) rotate(-17)"/><rect x="-2.7" y="-2.7" width="5.4" height="5.4" transform="translate(428.62,537.34) rotate(23)"/><rect x="-2.7" y="-2.7" width="5.4" height="5.4" transform="translate(437.02,542.36) rotate(31)"/><rect x="-2.7" y="-2.7" width="5.4" height="5.4" transform="translate(446.08,545.78) rotate(2)"/><rect x="-2.7" y="-2.7" width="5.4" height="5.4" transform="translate(455.31,542.95) rotate(-30)"/><rect x="-2.7" y="-2.7" width="5.4" height="5.4" transform="translate(463.76,537.99) rotate(-24)"/><rect x="-2.7" y="-2.7" width="5.4" height="5.4" transform="translate(473.27,536.75) rotate(13)"/><rect x="-2.7" y="-2.7" width="5.4" height="5.4" transform="translate(482.07,540.98) rotate(31)"/><rect x="-2.7" y="-2.7" width="5.4" height="5.4" transform="translate(490.9,545.15) rotate(12)"/><rect x="-2.7" y="-2.7" width="5.4" height="5.4" transform="translate(500.43,543.87) rotate(-24)"/><rect x="-2.7" y="-2.7" width="5.4" height="5.4" transform="translate(509.01,539.13) rotate(-27)"/><rect x="-2.7" y="-2.7" width="5.4" height="5.4" transform="translate(518.37,536.68) rotate(4)"/><rect x="-2.7" y="-2.7" width="5.4" height="5.4" transform="translate(527.52,539.99) rotate(29)"/><rect x="-2.7" y="-2.7" width="5.4" height="5.4" transform="translate(536.26,544.4) rotate(18)"/><rect x="-2.7" y="-2.7" width="5.4" height="5.4" transform="translate(545.89,544.38) rotate(-18)"/><rect x="-2.7" y="-2.7" width="5.4" height="5.4" transform="translate(554.67,540.03) rotate(-28)"/><rect x="-2.7" y="-2.7" width="5.4" height="5.4" transform="translate(563.89,536.9) rotate(-4)"/><rect x="-2.7" y="-2.7" width="5.4" height="5.4" transform="translate(573.29,539.31) rotate(26)"/><rect x="-2.7" y="-2.7" width="5.4" height="5.4" transform="translate(582.06,543.73) rotate(21)"/><rect x="-2.7" y="-2.7" width="5.4" height="5.4" transform="translate(591.68,544.6) rotate(-13)"/><rect x="-2.7" y="-2.7" width="5.4" height="5.4" transform="translate(600.67,540.7) rotate(-27)"/><rect x="-2.7" y="-2.7" width="5.4" height="5.4" transform="translate(609.8,537.23) rotate(-8)"/><rect x="-2.7" y="-2.7" width="5.4" height="5.4" transform="translate(619.36,538.88) rotate(23)"/><rect x="-2.7" y="-2.7" width="5.4" height="5.4" transform="translate(628.2,543.17) rotate(22)"/><rect x="-2.7" y="-2.7" width="5.4" height="5.4" transform="translate(637.78,544.64) rotate(-9)"/><rect x="-2.7" y="-2.7" width="5.4" height="5.4" transform="translate(646.94,541.18) rotate(-26)"/><rect x="-2.7" y="-2.7" width="5.4" height="5.4" transform="translate(656.04,537.55) rotate(-10)"/><rect x="-2.7" y="-2.7" width="5.4" height="5.4" transform="translate(665.68,538.62) rotate(20)"/><rect x="-2.7" y="-2.7" width="5.4" height="5.4" transform="translate(674.61,542.75) rotate(23)"/><rect x="-2.7" y="-2.7" width="5.4" height="5.4" transform="translate(684.16,544.59) rotate(-6)"/><rect x="-2.7" y="-2.7" width="5.4" height="5.4" transform="translate(693.45,541.51) rotate(-25)"/><rect x="-2.7" y="-2.7" width="5.4" height="5.4" transform="translate(702.56,537.83) rotate(-12)"/><rect x="-2.7" y="-2.7" width="5.4" height="5.4" transform="translate(712.24,538.49) rotate(18)"/><rect x="-2.7" y="-2.7" width="5.4" height="5.4" transform="translate(721.26,542.45) rotate(23)"/><rect x="-2.7" y="-2.7" width="5.4" height="5.4" transform="translate(730.79,544.5) rotate(-3)"/><rect x="-2.7" y="-2.7" width="5.4" height="5.4" transform="translate(740.18,541.7) rotate(-24)"/><rect x="-2.7" y="-2.7" width="5.4" height="5.4" transform="translate(749.31,538.06) rotate(-14)"/><rect x="-2.7" y="-2.7" width="5.4" height="5.4" transform="translate(759.03,538.45) rotate(17)"/><rect x="-2.7" y="-2.7" width="5.4" height="5.4" transform="translate(768.11,542.25) rotate(23)"/><rect x="-2.7" y="-2.7" width="5.4" height="5.4" transform="translate(777.65,544.39) rotate(-2)"/><rect x="-2.7" y="-2.7" width="5.4" height="5.4" transform="translate(787.1,541.8) rotate(-23)"/><rect x="-2.7" y="-2.7" width="5.4" height="5.4" transform="translate(796.27,538.22) rotate(-14)"/></g>
<rect x="122.5" y="15.4" width="677.1" height="553" fill="none" stroke="#000" stroke-width="2.7"/>
<line x1="122.5" y1="568.4" x2="122.5" y2="555.4" stroke="#000" stroke-width="2.3"/>
<line x1="197.73" y1="568.4" x2="197.73" y2="560.4" stroke="#000" stroke-width="1"/>
<line x1="272.97" y1="568.4" x2="272.97" y2="555.4" stroke="#000" stroke-width="2.3"/>
<line x1="348.2" y1="568.4" x2="348.2" y2="560.4" stroke="#000" stroke-width="1"/>
<line x1="423.43" y1="568.4" x2="423.43" y2="555.4" stroke="#000" stroke-width="2.3"/>
<line x1="498.67" y1="568.4" x2="498.67" y2="560.4" stroke="#000" stroke-width="1"/>
<line x1="573.9" y1="568.4" x2="573.9" y2="555.4" stroke="#000" stroke-width="2.3"/>
<line x1="649.13" y1="568.4" x2="649.13" y2="560.4" stroke="#000" stroke-width="1"/>
<line x1="724.37" y1="568.4" x2="724.37" y2="555.4" stroke="#000" stroke-width="2.3"/>
<line x1="122.5" y1="568.4" x2="135" y2="568.4" stroke="#000" stroke-width="2.3"/>
<line x1="122.5" y1="506.96" x2="130" y2="506.96" stroke="#000" stroke-width="1"/>
<line x1="122.5" y1="445.51" x2="135" y2="445.51" stroke="#000" stroke-width="2.3"/>
<line x1="122.5" y1="384.07" x2="130" y2="384.07" stroke="#000" stroke-width="1"/>
<line x1="122.5" y1="322.62" x2="135" y2="322.62" stroke="#000" stroke-width="2.3"/>
<line x1="122.5" y1="261.18" x2="130" y2="261.18" stroke="#000" stroke-width="1"/>
<line x1="122.5" y1="199.73" x2="135" y2="199.73" stroke="#000" stroke-width="2.3"/>
<line x1="122.5" y1="138.29" x2="130" y2="138.29" stroke="#000" stroke-width="1"/>
<line x1="122.5" y1="76.84" x2="135" y2="76.84" stroke="#000" stroke-width="2.3"/>
<text transform="translate(113.1,577.72) scale(0.94,1)" font-family="'Liberation Sans', Arial, Helvetica, sans-serif" font-size="27.0" text-anchor="end">0</text>
<text transform="translate(113.1,454.83) scale(0.94,1)" font-family="'Liberation Sans', Arial, Helvetica, sans-serif" font-size="27.0" text-anchor="end">0.02</text>
<text transform="translate(113.1,331.94) scale(0.94,1)" font-family="'Liberation Sans', Arial, Helvetica, sans-serif" font-size="27.0" text-anchor="end">0.04</text>
<text transform="translate(113.1,209.05) scale(0.94,1)" font-family="'Liberation Sans', Arial, Helvetica, sans-serif" font-size="27.0" text-anchor="end">0.06</text>
<text transform="translate(113.1,86.16) scale(0.94,1)" font-family="'Liberation Sans', Arial, Helvetica, sans-serif" font-size="27.0" text-anchor="end">0.08</text>
<text transform="translate(122.5,592.9) scale(0.94,1)" font-family="'Liberation Sans', Arial, Helvetica, sans-serif" font-size="27.0" text-anchor="middle">0</text>
<text x="257.6" y="592.7" font-family="NanumGothic, 'Liberation Sans', sans-serif" font-size="25.5" stroke="#000" stroke-width="0.55">1</text>
<text transform="translate(272.67,592.9) scale(0.94,1)" font-family="'Liberation Sans', Arial, Helvetica, sans-serif" font-size="27.0" text-anchor="start">0</text>
<text transform="translate(423.43,592.9) scale(0.94,1)" font-family="'Liberation Sans', Arial, Helvetica, sans-serif" font-size="27.0" text-anchor="middle">20</text>
<text transform="translate(573.9,592.9) scale(0.94,1)" font-family="'Liberation Sans', Arial, Helvetica, sans-serif" font-size="27.0" text-anchor="middle">30</text>
<text transform="translate(724.37,592.9) scale(0.94,1)" font-family="'Liberation Sans', Arial, Helvetica, sans-serif" font-size="27.0" text-anchor="middle">40</text>
<line x1="290.9" y1="411" x2="448" y2="411" stroke="#ff0080" stroke-width="2.6"/>
<g fill="#0078ff"><rect x="288.3" y="481.4" width="5.4" height="5.4"/><rect x="298.06" y="481.4" width="5.4" height="5.4"/><rect x="307.82" y="481.4" width="5.4" height="5.4"/><rect x="317.58" y="481.4" width="5.4" height="5.4"/><rect x="327.34" y="481.4" width="5.4" height="5.4"/><rect x="337.1" y="481.4" width="5.4" height="5.4"/><rect x="346.86" y="481.4" width="5.4" height="5.4"/><rect x="356.62" y="481.4" width="5.4" height="5.4"/><rect x="366.38" y="481.4" width="5.4" height="5.4"/><rect x="376.14" y="481.4" width="5.4" height="5.4"/><rect x="385.9" y="481.4" width="5.4" height="5.4"/><rect x="395.66" y="481.4" width="5.4" height="5.4"/><rect x="405.42" y="481.4" width="5.4" height="5.4"/><rect x="415.18" y="481.4" width="5.4" height="5.4"/><rect x="424.94" y="481.4" width="5.4" height="5.4"/><rect x="434.7" y="481.4" width="5.4" height="5.4"/><rect x="444.46" y="481.4" width="5.4" height="5.4"/></g>
<rect x="917.2" y="16.0" width="723.2" height="527.8" fill="none" stroke="#000" stroke-width="2.8"/>
<path d="M917.2,543.8 L1520.08,543.89 L1520.74,543.8 L1521.4,543.72 L1522.06,543.64 L1522.72,543.56 L1523.38,543.49 L1524.05,543.42 L1524.72,543.36 L1525.39,543.3 L1526.06,543.25 L1526.73,543.2 L1527.41,543.15 L1528.09,543.11 L1528.77,543.07 L1529.45,543.03 L1530.14,542.99 L1530.82,542.96 L1531.51,542.93 L1532.2,542.91 L1532.89,542.88 L1533.58,542.86 L1534.28,542.84 L1534.97,542.82 L1535.67,542.81 L1536.37,542.8 L1537.07,542.78 L1537.77,542.77 L1538.47,542.76 L1539.18,542.76 L1539.89,542.75 L1540.59,542.74 L1541.3,542.74 L1542.01,542.74 L1542.73,542.73 L1543.44,542.73 L1544.15,542.73 L1544.87,542.72 L1545.58,542.72 L1546.3,542.72 L1547.02,542.72 L1547.74,542.71 L1548.46,542.71 L1549.18,542.7 L1549.91,542.7 L1550.63,542.69 L1551.35,542.69 L1552.08,542.68 L1552.81,542.67 L1553.53,542.66 L1554.26,542.64 L1554.99,542.63 L1555.72,542.61 L1556.45,542.59 L1557.18,542.57 L1557.9,542.54 L1558.63,542.51 L1559.36,542.48 L1560.09,542.45 L1560.81,542.41 L1561.54,542.36 L1562.26,542.31 L1562.98,542.26 L1563.7,542.2 L1564.42,542.13 L1565.14,542.06 L1565.85,541.99 L1566.56,541.9 L1567.27,541.81 L1567.98,541.72 L1568.68,541.61 L1569.38,541.5 L1570.08,541.38 L1570.77,541.26 L1571.46,541.12 L1572.15,540.98 L1572.83,540.83 L1573.5,540.67 L1574.18,540.5 L1574.85,540.32 L1575.51,540.13 L1576.17,539.93 L1576.82,539.72 L1577.47,539.5 L1578.11,539.27 L1578.75,539.03 L1579.38,538.78 L1580.01,538.51 L1580.63,538.24 L1581.24,537.95 L1581.85,537.65 L1582.45,537.34 L1583.05,537.03 L1583.64,536.7 L1584.22,536.36 L1584.8,536.01 L1585.37,535.65 L1585.94,535.28 L1586.5,534.9 L1587.06,534.52 L1587.61,534.12 L1588.15,533.72 L1588.69,533.3 L1589.22,532.88 L1589.74,532.45 L1590.26,532.01 L1590.78,531.57 L1591.28,531.11 L1591.79,530.65 L1592.28,530.18 L1592.77,529.71 L1593.25,529.22 L1593.73,528.73 L1594.21,528.23 L1594.67,527.73 L1595.13,527.22 L1595.59,526.7 L1596.03,526.18 L1596.48,525.65 L1596.91,525.12 L1597.34,524.58 L1597.77,524.03 L1598.19,523.48 L1598.6,522.93 L1599.01,522.37 L1599.41,521.8 L1599.8,521.23 L1600.19,520.66 L1600.57,520.08 L1600.95,519.5 L1601.32,518.91 L1601.69,518.32 L1602.05,517.73 L1602.4,517.14 L1602.75,516.54 L1603.09,515.93 L1603.42,515.33 L1603.75,514.72 L1604.08,514.11 L1604.39,513.5 L1604.71,512.89 L1605.01,512.27 L1605.31,511.65 L1605.61,511.03 L1605.9,510.4 L1606.18,509.77 L1606.46,509.15 L1606.74,508.51 L1607,507.88 L1607.27,507.24 L1607.53,506.61 L1607.78,505.97 L1608.03,505.32 L1608.27,504.68 L1608.51,504.03 L1608.75,503.38 L1608.98,502.73 L1609.2,502.08 L1609.42,501.43 L1609.64,500.77 L1609.85,500.11 L1610.06,499.45 L1610.26,498.79 L1610.46,498.13 L1610.66,497.46 L1610.85,496.8 L1611.03,496.13 L1611.22,495.46 L1611.4,494.79 L1611.57,494.11 L1611.75,493.44 L1611.91,492.76 L1612.08,492.08 L1612.24,491.4 L1612.4,490.72 L1612.55,490.04 L1612.71,489.36 L1612.86,488.67 L1613,487.99 L1613.14,487.3 L1613.28,486.61 L1613.42,485.92 L1613.55,485.23 L1613.69,484.54 L1613.81,483.85 L1613.94,483.15 L1614.06,482.46 L1614.18,481.76 L1614.3,481.06 L1614.42,480.37 L1614.53,479.67 L1614.65,478.97 L1614.75,478.27 L1614.86,477.57 L1614.97,476.86 L1615.07,476.16 L1615.17,475.46 L1615.27,474.75 L1615.37,474.05 L1615.47,473.34 L1615.56,472.64 L1615.66,471.93 L1615.75,471.22 L1615.84,470.52 L1615.93,469.81 L1616.02,469.1 L1616.11,468.39 L1616.19,467.68 L1616.28,466.97 L1616.36,466.26 L1616.45,465.56 L1616.53,464.85 L1616.61,464.13 L1616.69,463.42 L1616.77,462.71 L1616.86,462 L1616.94,461.29 L1617.01,460.58 L1617.09,459.87 L1617.17,459.16 L1617.25,458.45 L1617.33,457.74 L1617.41,457.03 L1617.49,456.32 L1617.57,455.61 L1617.65,454.9 L1617.72,454.19 L1617.8,453.48 L1617.88,452.77 L1617.96,452.07 L1618.05,451.36 L1618.13,450.65 L1618.21,449.94 L1618.29,449.24 L1618.38,448.53 L1618.46,447.83 L1618.55,447.12 L1618.63,446.42 L1618.72,445.71 L1618.81,445.01 L1618.9,444.31 L1618.99,443.61 L1619.08,442.91 L1619.18,442.21 L1619.27,441.51 L1619.37,440.81 L1619.47,440.11 L1619.57,439.42 L1619.67,438.72 L1619.78,438.03 L1619.88,437.34 L1619.99,436.64 L1620.1,435.95 L1620.22,435.26 L1620.33,434.57 L1620.45,433.89 L1620.57,433.2 L1620.69,432.52 L1620.81,431.83 L1620.94,431.15 L1621.07,430.47 L1621.2,429.79 L1621.34,429.11 L1621.47,428.44 L1621.61,427.76 L1621.76,427.09 L1621.9,426.42 L1622.05,425.75 L1622.21,425.08 L1622.36,424.41 L1622.52,423.74 L1622.68,423.08 L1622.85,422.42 L1623.02,421.76 L1623.19,421.1 L1623.37,420.44 L1623.55,419.79 L1623.74,419.14 L1623.93,418.49 L1624.12,417.84 L1624.31,417.19 L1624.51,416.55 L1624.72,415.9 L1624.93,415.26 L1625.14,414.63 L1625.36,413.99 L1625.58,413.36 L1625.81,412.72 L1626.04,412.09 L1626.27,411.47 L1628.3,420 L1630.2,438 L1632.1,470 L1633.6,495 L1635.4,515 L1637.3,532 L1639.3,543.8" fill="none" stroke="#d20000" stroke-width="2.2"/>
<rect x="909.45" y="536.15" width="15.3" height="15.3" fill="none" stroke="#d20000" stroke-width="2.5"/><rect x="934.42" y="536.15" width="15.3" height="15.3" fill="none" stroke="#d20000" stroke-width="2.5"/><rect x="959.39" y="536.15" width="15.3" height="15.3" fill="none" stroke="#d20000" stroke-width="2.5"/><rect x="984.36" y="536.15" width="15.3" height="15.3" fill="none" stroke="#d20000" stroke-width="2.5"/><rect x="1009.33" y="536.15" width="15.3" height="15.3" fill="none" stroke="#d20000" stroke-width="2.5"/><rect x="1034.3" y="536.15" width="15.3" height="15.3" fill="none" stroke="#d20000" stroke-width="2.5"/><rect x="1059.27" y="536.15" width="15.3" height="15.3" fill="none" stroke="#d20000" stroke-width="2.5"/><rect x="1084.24" y="536.15" width="15.3" height="15.3" fill="none" stroke="#d20000" stroke-width="2.5"/><rect x="1109.21" y="536.15" width="15.3" height="15.3" fill="none" stroke="#d20000" stroke-width="2.5"/><rect x="1134.18" y="536.15" width="15.3" height="15.3" fill="none" stroke="#d20000" stroke-width="2.5"/><rect x="1159.15" y="536.15" width="15.3" height="15.3" fill="none" stroke="#d20000" stroke-width="2.5"/><rect x="1184.12" y="536.15" width="15.3" height="15.3" fill="none" stroke="#d20000" stroke-width="2.5"/><rect x="1209.09" y="536.15" width="15.3" height="15.3" fill="none" stroke="#d20000" stroke-width="2.5"/><rect x="1234.06" y="536.15" width="15.3" height="15.3" fill="none" stroke="#d20000" stroke-width="2.5"/><rect x="1259.03" y="536.15" width="15.3" height="15.3" fill="none" stroke="#d20000" stroke-width="2.5"/><rect x="1284" y="536.15" width="15.3" height="15.3" fill="none" stroke="#d20000" stroke-width="2.5"/><rect x="1308.97" y="536.15" width="15.3" height="15.3" fill="none" stroke="#d20000" stroke-width="2.5"/><rect x="1333.94" y="536.15" width="15.3" height="15.3" fill="none" stroke="#d20000" stroke-width="2.5"/><rect x="1358.91" y="536.15" width="15.3" height="15.3" fill="none" stroke="#d20000" stroke-width="2.5"/><rect x="1383.88" y="536.15" width="15.3" height="15.3" fill="none" stroke="#d20000" stroke-width="2.5"/><rect x="1408.85" y="536.15" width="15.3" height="15.3" fill="none" stroke="#d20000" stroke-width="2.5"/><rect x="1433.82" y="536.15" width="15.3" height="15.3" fill="none" stroke="#d20000" stroke-width="2.5"/><rect x="1458.79" y="536.15" width="15.3" height="15.3" fill="none" stroke="#d20000" stroke-width="2.5"/><rect x="1483.76" y="536.15" width="15.3" height="15.3" fill="none" stroke="#d20000" stroke-width="2.5"/><rect x="1508.73" y="536.15" width="15.3" height="15.3" fill="none" stroke="#d20000" stroke-width="2.5"/><rect x="1533.7" y="536.15" width="15.3" height="15.3" fill="none" stroke="#d20000" stroke-width="2.5"/><rect x="1558.65" y="533.65" width="15.3" height="15.3" fill="none" stroke="#d20000" stroke-width="2.5"/><rect x="1582.45" y="526.45" width="15.3" height="15.3" fill="none" stroke="#d20000" stroke-width="2.5"/><rect x="1595.85" y="508.55" width="15.3" height="15.3" fill="none" stroke="#d20000" stroke-width="2.5"/><rect x="1602.55" y="489.15" width="15.3" height="15.3" fill="none" stroke="#d20000" stroke-width="2.5"/><rect x="1606.65" y="468.75" width="15.3" height="15.3" fill="none" stroke="#d20000" stroke-width="2.5"/><rect x="1609.95" y="447.95" width="15.3" height="15.3" fill="none" stroke="#d20000" stroke-width="2.5"/><rect x="1612.85" y="426.45" width="15.3" height="15.3" fill="none" stroke="#d20000" stroke-width="2.5"/><rect x="1616.85" y="406.75" width="15.3" height="15.3" fill="none" stroke="#d20000" stroke-width="2.5"/><rect x="1622.55" y="421.65" width="15.3" height="15.3" fill="none" stroke="#d20000" stroke-width="2.5"/><rect x="1623.15" y="446.85" width="15.3" height="15.3" fill="none" stroke="#d20000" stroke-width="2.5"/><rect x="1624.55" y="471.75" width="15.3" height="15.3" fill="none" stroke="#d20000" stroke-width="2.5"/><rect x="1626.35" y="498.15" width="15.3" height="15.3" fill="none" stroke="#d20000" stroke-width="2.5"/><rect x="1628.05" y="517.85" width="15.3" height="15.3" fill="none" stroke="#d20000" stroke-width="2.5"/>
<path d="M917.2,543.8 L999.75,543.65 L1000.46,543.63 L1001.17,543.62 L1001.88,543.61 L1002.58,543.6 L1003.29,543.59 L1004,543.58 L1004.71,543.56 L1005.41,543.55 L1006.12,543.54 L1006.83,543.53 L1007.54,543.52 L1008.24,543.51 L1008.95,543.5 L1009.66,543.49 L1010.36,543.48 L1011.07,543.47 L1011.78,543.46 L1012.48,543.45 L1013.19,543.44 L1013.9,543.43 L1014.6,543.42 L1015.31,543.41 L1016.01,543.4 L1016.72,543.39 L1017.43,543.38 L1018.13,543.37 L1018.84,543.36 L1019.54,543.35 L1020.25,543.34 L1020.96,543.33 L1021.66,543.32 L1022.37,543.31 L1023.07,543.31 L1023.78,543.3 L1024.48,543.29 L1025.19,543.28 L1025.89,543.27 L1026.6,543.26 L1027.31,543.26 L1028.01,543.25 L1028.72,543.24 L1029.42,543.23 L1030.13,543.22 L1030.83,543.22 L1031.54,543.21 L1032.24,543.2 L1032.94,543.19 L1033.65,543.19 L1034.35,543.18 L1035.06,543.17 L1035.76,543.17 L1036.47,543.16 L1037.17,543.15 L1037.88,543.15 L1038.58,543.14 L1039.28,543.13 L1039.99,543.13 L1040.69,543.12 L1041.4,543.11 L1042.1,543.11 L1042.8,543.1 L1043.51,543.1 L1044.21,543.09 L1044.92,543.08 L1045.62,543.08 L1046.32,543.07 L1047.03,543.07 L1047.73,543.06 L1048.43,543.06 L1049.14,543.05 L1049.84,543.05 L1050.54,543.04 L1051.25,543.04 L1051.95,543.03 L1052.65,543.02 L1053.36,543.02 L1054.06,543.02 L1054.76,543.01 L1055.47,543.01 L1056.17,543 L1056.87,543 L1057.57,542.99 L1058.28,542.99 L1058.98,542.98 L1059.68,542.98 L1060.39,542.97 L1061.09,542.97 L1061.79,542.97 L1062.49,542.96 L1063.2,542.96 L1063.9,542.95 L1064.6,542.95 L1065.3,542.95 L1066,542.94 L1066.71,542.94 L1067.41,542.94 L1068.11,542.93 L1068.81,542.93 L1069.51,542.93 L1070.22,542.92 L1070.92,542.92 L1071.62,542.92 L1072.32,542.91 L1073.02,542.91 L1073.72,542.91 L1074.43,542.9 L1075.13,542.9 L1075.83,542.9 L1076.53,542.89 L1077.23,542.89 L1077.93,542.89 L1078.64,542.89 L1079.34,542.88 L1080.04,542.88 L1080.74,542.88 L1081.44,542.87 L1082.14,542.87 L1082.84,542.87 L1083.54,542.87 L1084.24,542.86 L1084.95,542.86 L1085.65,542.86 L1086.35,542.86 L1087.05,542.86 L1087.75,542.85 L1088.45,542.85 L1089.15,542.85 L1089.85,542.85 L1090.55,542.85 L1091.25,542.84 L1091.95,542.84 L1092.65,542.84 L1093.35,542.84 L1094.05,542.84 L1094.75,542.83 L1095.45,542.83 L1096.16,542.83 L1096.86,542.83 L1097.56,542.83 L1098.26,542.83 L1098.96,542.82 L1099.66,542.82 L1100.36,542.82 L1101.06,542.82 L1101.76,542.82 L1102.46,542.82 L1103.16,542.82 L1103.86,542.81 L1104.56,542.81 L1105.26,542.81 L1105.96,542.81 L1106.66,542.81 L1107.35,542.81 L1108.05,542.81 L1108.75,542.8 L1109.45,542.8 L1110.15,542.8 L1110.85,542.8 L1111.55,542.8 L1112.25,542.8 L1112.95,542.8 L1113.65,542.8 L1114.35,542.8 L1115.05,542.79 L1115.75,542.79 L1116.45,542.79 L1117.15,542.79 L1117.85,542.79 L1118.55,542.79 L1119.24,542.79 L1119.94,542.79 L1120.64,542.79 L1121.34,542.79 L1122.04,542.78 L1122.74,542.78 L1123.44,542.78 L1124.14,542.78 L1124.84,542.78 L1125.54,542.78 L1126.23,542.78 L1126.93,542.78 L1127.63,542.78 L1128.33,542.78 L1129.03,542.78 L1129.73,542.77 L1130.43,542.77 L1131.12,542.77 L1131.82,542.77 L1132.52,542.77 L1133.22,542.77 L1133.92,542.77 L1134.62,542.77 L1135.32,542.77 L1136.01,542.77 L1136.71,542.77 L1137.41,542.77 L1138.11,542.76 L1138.81,542.76 L1139.51,542.76 L1140.2,542.76 L1140.9,542.76 L1141.6,542.76 L1142.3,542.76 L1143,542.76 L1143.7,542.76 L1144.39,542.76 L1145.09,542.76 L1145.79,542.75 L1146.49,542.75 L1147.19,542.75 L1147.88,542.75 L1148.58,542.75 L1149.28,542.75 L1149.98,542.75 L1150.68,542.75 L1151.37,542.75 L1152.07,542.74 L1152.77,542.74 L1153.47,542.74 L1154.17,542.74 L1154.86,542.74 L1155.56,542.74 L1156.26,542.74 L1156.96,542.74 L1157.65,542.73 L1158.35,542.73 L1159.05,542.73 L1159.75,542.73 L1160.44,542.73 L1161.14,542.73 L1161.84,542.73 L1162.54,542.73 L1163.24,542.72 L1163.93,542.72 L1164.63,542.72 L1165.33,542.72 L1166.03,542.72 L1166.72,542.72 L1167.42,542.71 L1168.12,542.71 L1168.82,542.71 L1169.51,542.71 L1170.21,542.71 L1170.91,542.71 L1171.61,542.7 L1172.3,542.7 L1173,542.7 L1173.7,542.7 L1174.39,542.7 L1175.09,542.69 L1175.79,542.69 L1176.49,542.69 L1177.18,542.69 L1177.88,542.68 L1178.58,542.68 L1179.28,542.68 L1179.97,542.68 L1180.67,542.68 L1181.37,542.67 L1182.06,542.67 L1182.76,542.67 L1183.46,542.67 L1184.16,542.66 L1184.85,542.66 L1185.55,542.66 L1186.25,542.65 L1186.94,542.65 L1187.64,542.65 L1188.34,542.65 L1189.04,542.64 L1189.73,542.64 L1190.43,542.64 L1191.13,542.63 L1191.82,542.63 L1192.52,542.63 L1193.22,542.62 L1193.91,542.62 L1194.61,542.62 L1195.31,542.61 L1196.01,542.61 L1196.7,542.61 L1197.4,542.6 L1198.1,542.6 L1198.79,542.6 L1199.49,542.59 L1200.19,542.59 L1200.88,542.58 L1201.58,542.58 L1202.28,542.58 L1202.98,542.57 L1203.67,542.57 L1204.37,542.56 L1205.07,542.56 L1205.76,542.55 L1206.46,542.55 L1207.16,542.54 L1207.85,542.54 L1208.55,542.54 L1209.25,542.53 L1209.95,542.53 L1210.64,542.52 L1211.34,542.52 L1212.04,542.51 L1212.73,542.51 L1213.43,542.5 L1214.13,542.5 L1214.82,542.49 L1215.52,542.48 L1216.22,542.48 L1216.91,542.47 L1217.61,542.47 L1218.31,542.46 L1219,542.46 L1219.7,542.45 L1220.4,542.44 L1221.1,542.44 L1221.79,542.43 L1222.49,542.43 L1223.19,542.42 L1223.88,542.41 L1224.58,542.41 L1225.28,542.4 L1225.97,542.39 L1226.67,542.39 L1227.37,542.38 L1228.06,542.37 L1228.76,542.37 L1229.46,542.36 L1230.16,542.35 L1230.85,542.34 L1231.55,542.34 L1232.25,542.33 L1232.94,542.32 L1233.64,542.31 L1234.34,542.31 L1235.03,542.3 L1235.73,542.29 L1236.43,542.28 L1237.13,542.27 L1237.82,542.27 L1238.52,542.26 L1239.22,542.25 L1239.91,542.24 L1240.61,542.23 L1241.31,542.22 L1242,542.22 L1242.7,542.21 L1243.4,542.2 L1244.1,542.19 L1244.79,542.18 L1245.49,542.17 L1246.19,542.16 L1246.88,542.15 L1247.58,542.14 L1248.28,542.13 L1248.98,542.12 L1249.67,542.11 L1250.37,542.1 L1251.07,542.09 L1251.76,542.08 L1252.46,542.07 L1253.16,542.06 L1253.86,542.05 L1254.55,542.04 L1255.25,542.03 L1255.95,542.02 L1256.64,542.01 L1257.34,542 L1258.04,541.98 L1258.74,541.97 L1259.43,541.96 L1260.13,541.95 L1260.83,541.94 L1261.53,541.93 L1262.22,541.91 L1262.92,541.9 L1263.62,541.89 L1264.32,541.88 L1265.01,541.86 L1265.71,541.85 L1266.41,541.84 L1267.11,541.83 L1267.8,541.81 L1268.5,541.8 L1269.2,541.79 L1269.9,541.77 L1270.59,541.76 L1271.29,541.75 L1271.99,541.73 L1272.69,541.72 L1273.38,541.71 L1274.08,541.69 L1274.78,541.68 L1275.48,541.66 L1276.17,541.65 L1276.87,541.63 L1277.57,541.62 L1278.27,541.6 L1278.97,541.59 L1279.66,541.57 L1280.36,541.56 L1281.06,541.54 L1281.76,541.53 L1282.45,541.51 L1283.15,541.5 L1283.85,541.48 L1284.55,541.46 L1285.25,541.45 L1285.94,541.43 L1286.64,541.41 L1287.34,541.4 L1288.04,541.38 L1288.74,541.36 L1289.43,541.35 L1290.13,541.33 L1290.83,541.31 L1291.53,541.29 L1292.23,541.28 L1292.93,541.26 L1293.62,541.24 L1294.32,541.22 L1295.02,541.2 L1295.72,541.19 L1296.42,541.17 L1297.12,541.15 L1297.81,541.13 L1298.51,541.11 L1299.21,541.09 L1299.91,541.07 L1300.61,541.05 L1301.31,541.03 L1302,541.01 L1302.7,540.99 L1303.4,540.97 L1304.1,540.95 L1304.8,540.93 L1305.5,540.91 L1306.2,540.89 L1306.9,540.87 L1307.59,540.85 L1308.29,540.83 L1308.99,540.81 L1309.69,540.78 L1310.39,540.76 L1311.09,540.74 L1311.79,540.72 L1312.49,540.7 L1313.19,540.67 L1313.88,540.65 L1314.58,540.63 L1315.28,540.6 L1315.98,540.58 L1316.68,540.56 L1317.38,540.53 L1318.08,540.51 L1318.78,540.49 L1319.48,540.46 L1320.18,540.44 L1320.88,540.42 L1321.58,540.39 L1322.28,540.37 L1322.98,540.34 L1323.68,540.32 L1324.37,540.29 L1325.07,540.27 L1325.77,540.24 L1326.47,540.21 L1327.17,540.19 L1327.87,540.16 L1328.57,540.14 L1329.27,540.11 L1329.97,540.08 L1330.67,540.06 L1331.37,540.03 L1332.07,540 L1332.77,539.98 L1333.47,539.95 L1334.17,539.92 L1334.87,539.89 L1335.57,539.86 L1336.27,539.84 L1336.97,539.81 L1337.67,539.78 L1338.37,539.75 L1339.07,539.72 L1339.77,539.69 L1340.47,539.66 L1341.18,539.63 L1341.88,539.6 L1342.58,539.57 L1343.28,539.54 L1343.98,539.51 L1344.68,539.48 L1345.38,539.45 L1346.08,539.42 L1346.78,539.39 L1347.48,539.36 L1348.18,539.33 L1348.88,539.29 L1349.58,539.26 L1350.29,539.23 L1350.99,539.2 L1351.69,539.17 L1352.39,539.13 L1353.09,539.1 L1353.79,539.07 L1354.49,539.03 L1355.19,539 L1355.89,538.97 L1356.6,538.93 L1357.3,538.9 L1358,538.86 L1358.7,538.83 L1359.4,538.79 L1360.1,538.76 L1360.81,538.72 L1361.51,538.69 L1362.21,538.65 L1362.91,538.62 L1363.61,538.58 L1364.31,538.54 L1365.02,538.51 L1365.72,538.47 L1366.42,538.43 L1367.12,538.4 L1367.82,538.36 L1368.53,538.32 L1369.23,538.28 L1369.93,538.25 L1370.63,538.21 L1371.34,538.17 L1372.04,538.13 L1372.74,538.09 L1373.44,538.05 L1374.15,538.01 L1374.85,537.97 L1375.55,537.93 L1376.25,537.89 L1376.96,537.85 L1377.66,537.81 L1378.36,537.77 L1379.07,537.73 L1379.77,537.69 L1380.47,537.65 L1381.18,537.61 L1381.88,537.57 L1382.58,537.52 L1383.28,537.48 L1383.99,537.44 L1384.69,537.4 L1385.39,537.35 L1386.1,537.31 L1386.8,537.27 L1387.51,537.22 L1388.21,537.18 L1388.91,537.14 L1389.62,537.09 L1390.32,537.05 L1391.02,537 L1391.73,536.96 L1392.43,536.91 L1393.14,536.87 L1393.84,536.82 L1394.54,536.77 L1395.25,536.73 L1395.95,536.68 L1396.66,536.64 L1397.36,536.59 L1398.07,536.54 L1398.77,536.49 L1399.48,536.45 L1400.18,536.4 L1400.88,536.35 L1401.59,536.3 L1402.29,536.25 L1403,536.2 L1403.7,536.15 L1404.41,536.1 L1405.11,536.06 L1405.82,536.01 L1406.52,535.96 L1407.23,535.9 L1407.93,535.85 L1408.64,535.8 L1409.35,535.75 L1410.05,535.7 L1410.76,535.65 L1411.46,535.6 L1412.17,535.54 L1412.87,535.49 L1413.58,535.44 L1414.29,535.39 L1414.99,535.33 L1415.7,535.28 L1416.4,535.23 L1417.11,535.17 L1417.82,535.12 L1418.52,535.06 L1419.23,535.01 L1419.93,534.95 L1420.64,534.9 L1421.35,534.84 L1422.05,534.78 L1422.76,534.73 L1423.47,534.67 L1424.17,534.61 L1424.88,534.55 L1425.59,534.5 L1426.29,534.44 L1427,534.38 L1427.7,534.32 L1428.41,534.25 L1429.12,534.19 L1429.82,534.13 L1430.53,534.07 L1431.24,534 L1431.94,533.94 L1432.65,533.87 L1433.35,533.81 L1434.06,533.74 L1434.77,533.68 L1435.47,533.61 L1436.18,533.54 L1436.88,533.47 L1437.59,533.4 L1438.29,533.33 L1439,533.25 L1439.7,533.18 L1440.41,533.11 L1441.11,533.03 L1441.82,532.95 L1442.52,532.88 L1443.22,532.8 L1443.93,532.72 L1444.63,532.64 L1445.34,532.56 L1446.04,532.48 L1446.74,532.39 L1447.45,532.31 L1448.15,532.22 L1448.85,532.13 L1449.55,532.05 L1450.26,531.96 L1450.96,531.86 L1451.66,531.77 L1452.36,531.68 L1453.06,531.58 L1453.76,531.49 L1454.46,531.39 L1455.17,531.29 L1455.87,531.19 L1456.57,531.09 L1457.27,530.99 L1457.96,530.88 L1458.66,530.77 L1459.36,530.67 L1460.06,530.56 L1460.76,530.45 L1461.46,530.33 L1462.15,530.22 L1462.85,530.1 L1463.55,529.99 L1464.24,529.87 L1464.94,529.75 L1465.64,529.63 L1466.33,529.5 L1467.03,529.38 L1467.72,529.25 L1468.42,529.12 L1469.11,528.99 L1469.8,528.86 L1470.5,528.72 L1471.19,528.58 L1471.88,528.45 L1472.57,528.31 L1473.26,528.16 L1473.96,528.02 L1474.65,527.87 L1475.34,527.72 L1476.03,527.57 L1476.72,527.42 L1477.4,527.27 L1478.09,527.11 L1478.78,526.95 L1479.47,526.79 L1480.15,526.63 L1480.84,526.46 L1481.53,526.3 L1482.21,526.13 L1482.9,525.96 L1483.58,525.78 L1484.26,525.61 L1484.95,525.43 L1485.63,525.25 L1486.31,525.06 L1486.99,524.88 L1487.67,524.69 L1488.36,524.5 L1489.03,524.31 L1489.71,524.11 L1490.39,523.92 L1491.07,523.72 L1491.75,523.51 L1492.43,523.31 L1493.1,523.1 L1493.78,522.89 L1494.45,522.68 L1495.13,522.47 L1495.8,522.25 L1496.47,522.03 L1497.14,521.8 L1497.81,521.58 L1498.48,521.35 L1499.15,521.12 L1499.82,520.89 L1500.48,520.65 L1501.15,520.41 L1501.81,520.17 L1502.48,519.92 L1503.14,519.68 L1503.8,519.43 L1504.45,519.17 L1505.11,518.92 L1505.77,518.66 L1506.42,518.4 L1507.07,518.13 L1507.72,517.86 L1508.37,517.59 L1509.02,517.32 L1509.67,517.04 L1510.31,516.76 L1510.95,516.48 L1511.59,516.19 L1512.23,515.91 L1512.86,515.61 L1513.5,515.32 L1514.13,515.02 L1514.76,514.72 L1515.39,514.41 L1516.01,514.11 L1516.64,513.8 L1517.26,513.48 L1517.88,513.16 L1518.49,512.84 L1519.11,512.52 L1519.72,512.19 L1520.33,511.86 L1520.93,511.53 L1521.54,511.19 L1522.14,510.85 L1522.74,510.51 L1523.33,510.16 L1523.93,509.81 L1524.52,509.46 L1525.1,509.1 L1525.69,508.74 L1526.27,508.37 L1526.85,508 L1527.42,507.63 L1528,507.26 L1528.57,506.88 L1529.13,506.5 L1529.7,506.11 L1530.26,505.72 L1530.81,505.33 L1531.36,504.93 L1531.91,504.53 L1532.46,504.13 L1533,503.72 L1533.54,503.31 L1534.08,502.89 L1534.61,502.47 L1535.14,502.05 L1535.67,501.62 L1536.19,501.19 L1536.71,500.76 L1537.22,500.32 L1537.73,499.88 L1538.24,499.44 L1538.75,498.99 L1539.25,498.54 L1539.75,498.08 L1540.24,497.62 L1540.73,497.16 L1541.22,496.7 L1541.71,496.23 L1542.19,495.76 L1542.67,495.28 L1543.14,494.8 L1543.61,494.32 L1544.08,493.84 L1544.55,493.35 L1545.01,492.86 L1545.47,492.36 L1545.93,491.87 L1546.38,491.37 L1546.83,490.86 L1547.28,490.36 L1547.72,489.85 L1548.16,489.34 L1548.6,488.82 L1549.04,488.3 L1549.47,487.78 L1549.9,487.26 L1550.32,486.73 L1550.75,486.2 L1551.17,485.67 L1551.59,485.14 L1552,484.6 L1552.41,484.06 L1552.82,483.52 L1553.23,482.97 L1553.63,482.42 L1554.03,481.87 L1554.43,481.32 L1554.83,480.76 L1555.22,480.21 L1555.61,479.65 L1556,479.08 L1556.38,478.52 L1556.76,477.95 L1557.14,477.38 L1557.52,476.81 L1557.89,476.23 L1558.26,475.66 L1558.63,475.08 L1559,474.5 L1559.36,473.91 L1559.72,473.33 L1560.08,472.74 L1560.44,472.15 L1560.79,471.56 L1561.14,470.97 L1561.49,470.37 L1561.84,469.77 L1562.18,469.18 L1562.53,468.57 L1562.87,467.97 L1563.2,467.37 L1563.54,466.76 L1563.87,466.15 L1564.2,465.54 L1564.53,464.93 L1564.86,464.31 L1565.18,463.7 L1565.5,463.08 L1565.82,462.46 L1566.14,461.84 L1566.45,461.22 L1566.77,460.6 L1567.08,459.97 L1567.39,459.34 L1567.69,458.72 L1568,458.09 L1568.3,457.46 L1568.6,456.82 L1568.9,456.19 L1569.19,455.56 L1569.49,454.92 L1569.78,454.28 L1570.07,453.64 L1570.36,453 L1570.65,452.36 L1570.93,451.72 L1571.22,451.08 L1571.5,450.43 L1571.78,449.79 L1572.05,449.14 L1572.33,448.49 L1572.6,447.84 L1572.88,447.19 L1573.15,446.54 L1573.42,445.89 L1573.68,445.24 L1573.95,444.59 L1574.21,443.93 L1574.48,443.28 L1574.74,442.62 L1574.99,441.97 L1575.25,441.31 L1575.51,440.65 L1575.76,439.99 L1576.01,439.34 L1576.27,438.68 L1576.52,438.02 L1576.76,437.36 L1577.01,436.69 L1577.26,436.03 L1577.5,435.37 L1577.74,434.71 L1577.98,434.05 L1578.22,433.38 L1578.46,432.72 L1578.7,432.06 L1578.93,431.39 L1579.17,430.73 L1579.4,430.06 L1579.63,429.4 L1579.86,428.73 L1580.09,428.07 L1580.32,427.4 L1580.55,426.73 L1580.77,426.07 L1580.99,425.4 L1581.22,424.73 L1581.44,424.07 L1581.66,423.4 L1581.88,422.73 L1582.09,422.06 L1582.31,421.39 L1582.53,420.73 L1582.74,420.06 L1582.95,419.39 L1583.16,418.72 L1583.37,418.05 L1583.58,417.38 L1583.79,416.71 L1583.99,416.04 L1584.2,415.37 L1584.4,414.69 L1584.61,414.02 L1584.81,413.35 L1585.01,412.68 L1585.21,412.01 L1585.41,411.33 L1585.6,410.66 L1585.8,409.99 L1585.99,409.31 L1586.18,408.64 L1586.38,407.97 L1586.57,407.29 L1586.76,406.62 L1586.95,405.94 L1587.13,405.27 L1587.32,404.59 L1587.51,403.92 L1587.69,403.24 L1587.87,402.57 L1588.05,401.89 L1588.24,401.21 L1588.41,400.54 L1588.59,399.86 L1588.77,399.18 L1588.95,398.51 L1589.12,397.83 L1589.3,397.15 L1589.47,396.47 L1589.64,395.79 L1589.81,395.12 L1589.98,394.44 L1590.15,393.76 L1590.32,393.08 L1590.49,392.4 L1590.65,391.72 L1590.82,391.04 L1590.98,390.36 L1591.14,389.68 L1591.31,389 L1591.47,388.32 L1591.63,387.64 L1591.78,386.95 L1591.94,386.27 L1592.1,385.59 L1592.25,384.91 L1592.41,384.23 L1592.56,383.54 L1592.72,382.86 L1592.87,382.18 L1593.02,381.5 L1593.17,380.81 L1593.32,380.13 L1593.47,379.45 L1593.61,378.76 L1593.76,378.08 L1593.9,377.39 L1594.05,376.71 L1594.19,376.02 L1594.33,375.34 L1594.48,374.65 L1594.62,373.97 L1594.76,373.28 L1594.9,372.6 L1595.03,371.91 L1595.17,371.23 L1595.31,370.54 L1595.44,369.85 L1595.58,369.17 L1595.71,368.48 L1595.84,367.79 L1595.98,367.11 L1596.11,366.42 L1596.24,365.73 L1596.37,365.04 L1596.49,364.36 L1596.62,363.67 L1596.75,362.98 L1596.88,362.29 L1597,361.6 L1597.13,360.91 L1597.25,360.22 L1597.37,359.54 L1597.49,358.85 L1597.62,358.16 L1597.74,357.47 L1597.86,356.78 L1597.97,356.09 L1598.09,355.4 L1598.21,354.71 L1598.33,354.02 L1598.44,353.33 L1598.56,352.64 L1598.67,351.94 L1598.79,351.25 L1598.9,350.56 L1599.01,349.87 L1599.12,349.18 L1599.23,348.49 L1599.34,347.8 L1599.45,347.1 L1599.56,346.41 L1599.67,345.72 L1599.78,345.03 L1599.89,344.34 L1599.99,343.64 L1600.1,342.95 L1600.2,342.26 L1600.31,341.56 L1600.41,340.87 L1600.51,340.18 L1600.61,339.48 L1600.71,338.79 L1600.82,338.1 L1600.92,337.4 L1601.02,336.71 L1601.11,336.02 L1601.21,335.32 L1601.31,334.63 L1601.41,333.93 L1601.5,333.24 L1601.6,332.54 L1601.69,331.85 L1601.79,331.15 L1601.88,330.46 L1601.98,329.76 L1602.07,329.07 L1602.16,328.37 L1602.25,327.68 L1602.35,326.98 L1602.44,326.29 L1602.53,325.59 L1602.62,324.89 L1602.7,324.2 L1602.79,323.5 L1602.88,322.81 L1602.97,322.11 L1603.06,321.41 L1603.14,320.72 L1603.23,320.02 L1603.31,319.32 L1603.4,318.63 L1603.48,317.93 L1603.57,317.23 L1603.65,316.54 L1603.73,315.84 L1603.82,315.14 L1603.9,314.44 L1603.98,313.75 L1604.06,313.05 L1604.14,312.35 L1604.22,311.65 L1604.3,310.96 L1604.38,310.26 L1604.46,309.56 L1604.54,308.86 L1604.62,308.16 L1604.7,307.47 L1604.77,306.77 L1604.85,306.07 L1604.93,305.37 L1605,304.67 L1605.08,303.98 L1605.15,303.28 L1605.23,302.58 L1605.3,301.88 L1605.38,301.18 L1605.45,300.48 L1605.52,299.78 L1605.6,299.08 L1605.67,298.39 L1605.74,297.69 L1605.82,296.99 L1605.89,296.29 L1605.96,295.59 L1606.03,294.89 L1606.1,294.19 L1606.17,293.49 L1606.24,292.79 L1606.31,292.09 L1606.38,291.39 L1606.45,290.69 L1606.52,289.99 L1606.59,289.29 L1606.66,288.59 L1606.73,287.89 L1606.79,287.2 L1606.86,286.5 L1606.93,285.8 L1607,285.1 L1607.06,284.4 L1607.13,283.7 L1607.2,283 L1607.26,282.3 L1607.33,281.6 L1607.39,280.9 L1607.46,280.2 L1607.52,279.5 L1607.59,278.8 L1607.65,278.1 L1607.72,277.4 L1607.78,276.7 L1607.85,276 L1607.91,275.3 L1607.98,274.6 L1608.04,273.9 L1608.1,273.2 L1608.17,272.5 L1608.23,271.8 L1608.29,271.1 L1608.36,270.4 L1608.42,269.69 L1608.48,268.99 L1608.55,268.29 L1608.61,267.59 L1608.67,266.89 L1608.73,266.19 L1608.8,265.49 L1608.86,264.79 L1608.92,264.09 L1608.98,263.39 L1609.04,262.69 L1609.11,261.99 L1609.17,261.29 L1609.23,260.59 L1609.29,259.89 L1609.35,259.19 L1609.41,258.49 L1609.47,257.79 L1609.54,257.09 L1609.6,256.39 L1609.66,255.69 L1609.72,254.99 L1609.78,254.29 L1609.84,253.59 L1609.9,252.89 L1609.96,252.19 L1610.03,251.49 L1610.09,250.79 L1610.15,250.09 L1610.21,249.39 L1610.27,248.69 L1610.33,247.99 L1610.39,247.29 L1610.45,246.59 L1610.52,245.89 L1610.58,245.2 L1610.64,244.5 L1610.7,243.8 L1610.76,243.1 L1610.82,242.4 L1610.88,241.7 L1610.95,241 L1611.01,240.3 L1611.07,239.6 L1611.13,238.9 L1611.19,238.2 L1611.26,237.5 L1611.32,236.8 L1611.38,236.11 L1611.44,235.41 L1611.5,234.71 L1611.57,234.01 L1611.63,233.31 L1611.69,232.61 L1611.76,231.91 L1611.82,231.21 L1611.88,230.52 L1611.95,229.82 L1612.01,229.12 L1612.07,228.42 L1612.14,227.72 L1612.2,227.02 L1612.27,226.33 L1612.33,225.63 L1612.39,224.93 L1612.46,224.23 L1612.52,223.54 L1612.59,222.84 L1612.66,222.14 L1612.72,221.44 L1612.79,220.75 L1612.85,220.05 L1612.92,219.35 L1612.99,218.65 L1613.05,217.96 L1613.12,217.26 L1613.19,216.56 L1613.25,215.87 L1613.32,215.17 L1613.39,214.47 L1613.45,213.78 L1613.52,213.08 L1613.59,212.38 L1613.66,211.69 L1613.73,210.99 L1613.79,210.29 L1613.86,209.6 L1613.93,208.9 L1614,208.21 L1614.07,207.51 L1614.14,206.81 L1614.21,206.12 L1614.28,205.42 L1614.35,204.73 L1614.41,204.03 L1614.48,203.33 L1614.55,202.64 L1614.62,201.94 L1614.69,201.25 L1614.76,200.55 L1614.83,199.86 L1614.9,199.16 L1614.97,198.47 L1615.04,197.77 L1615.11,197.07 L1615.19,196.38 L1615.26,195.68 L1615.33,194.99 L1615.4,194.29 L1615.47,193.6 L1615.54,192.9 L1615.61,192.21 L1615.68,191.51 L1615.75,190.82 L1615.82,190.12 L1615.89,189.43 L1615.97,188.74 L1616.04,188.04 L1616.11,187.35 L1616.18,186.65 L1616.25,185.96 L1616.32,185.26 L1616.39,184.57 L1616.47,183.87 L1616.54,183.18 L1616.61,182.48 L1616.68,181.79 L1616.75,181.1 L1616.82,180.4 L1616.89,179.71 L1616.97,179.01 L1617.04,178.32 L1617.11,177.62 L1617.18,176.93 L1617.25,176.24 L1617.32,175.54 L1617.4,174.85 L1617.47,174.15 L1617.54,173.46 L1617.61,172.77 L1617.68,172.07 L1617.75,171.38 L1617.82,170.68 L1617.9,169.99 L1617.97,169.3 L1618.04,168.6 L1618.11,167.91 L1618.18,167.21 L1618.25,166.52 L1618.32,165.83 L1618.4,165.13 L1618.47,164.44 L1618.54,163.74 L1618.61,163.05 L1618.68,162.36 L1618.75,161.66 L1618.82,160.97 L1618.89,160.28 L1618.96,159.58 L1619.03,158.89 L1619.1,158.19 L1619.17,157.5 L1619.24,156.81 L1619.31,156.11 L1619.38,155.42 L1619.45,154.73 L1619.52,154.03 L1619.59,153.34 L1619.66,152.64 L1619.73,151.95 L1619.8,151.26 L1619.87,150.56 L1619.94,149.87 L1620.01,149.17 L1620.08,148.48 L1620.15,147.79 L1620.22,147.09 L1620.29,146.4 L1620.35,145.71 L1620.42,145.01 L1620.49,144.32 L1620.56,143.62 L1620.63,142.93 L1620.69,142.24 L1620.76,141.54 L1620.83,140.85 L1620.9,140.15 L1620.96,139.46 L1621.03,138.77 L1621.1,138.07 L1621.16,137.38 L1621.23,136.68 L1621.3,135.99 L1621.36,135.3 L1621.43,134.6 L1621.49,133.91 L1621.56,133.21 L1621.63,132.52 L1621.69,131.82 L1621.76,131.13 L1621.82,130.44 L1621.88,129.74 L1621.95,129.05 L1622.01,128.35 L1622.08,127.66 L1622.14,126.96 L1622.2,126.27 L1622.27,125.58 L1622.33,124.88 L1622.39,124.19 L1622.46,123.49 L1622.52,122.8 L1622.58,122.1 L1622.64,121.41 L1622.7,120.71 L1622.76,120.02 L1622.83,119.32 L1622.89,118.63 L1622.95,117.93 L1623.01,117.24 L1623.07,116.54 L1623.13,115.85 L1623.19,115.15 L1623.25,114.46 L1623.31,113.76 L1623.36,113.07 L1623.42,112.37 L1623.48,111.68 L1623.54,110.98 L1623.6,110.29 L1623.65,109.59 L1623.71,108.89 L1623.77,108.2 L1623.82,107.5 L1623.88,106.81 L1623.94,106.11 L1623.99,105.42 L1624.05,104.72 L1624.1,104.02 L1624.16,103.33 L1624.21,102.63 L1624.26,101.94 L1624.32,101.24 L1624.37,100.54 L1624.42,99.85 L1624.48,99.15 L1624.53,98.45 L1624.58,97.76 L1624.63,97.06 L1624.68,96.36 L1624.73,95.67 L1624.78,94.97 L1624.83,94.27 L1624.88,93.58 L1624.93,92.88 L1624.98,92.18 L1625.03,91.48 L1625.08,90.79 L1625.13,90.09 L1625.18,89.39 L1625.22,88.7 L1625.27,88 L1625.32,87.3 L1625.36,86.6 L1625.41,85.9 L1625.45,85.21 L1625.5,84.51 L1625.54,83.81 L1625.59,83.11 L1625.63,82.41 L1625.67,81.72 L1625.72,81.02 L1625.76,80.32 L1625.8,79.62 L1625.84,78.92 L1625.88,78.22 L1625.92,77.52 L1625.96,76.83 L1626,76.13 L1626.04,75.43 L1626.08,74.73 L1626.12,74.03 L1626.16,73.33 L1626.2,72.63 L1626.23,71.93 L1626.27,71.23 L1626.31,70.53 L1626.34,69.83 L1626.38,69.13 L1626.41,68.43 L1626.45,67.73 L1626.48,67.03 L1626.51,66.33 L1626.55,65.63 L1626.58,64.93 L1626.61,64.23 L1626.64,63.53 L1626.67,62.83 L1626.7,62.13 L1626.73,61.42 L1626.76,60.72 L1626.79,60.02 L1626.82,59.32 L1626.85,58.62 L1626.88,57.92 L1626.9,57.22 L1626.93,56.51 L1626.96,55.81 L1626.98,55.11 L1627.01,54.41 L1627.03,53.7 L1627.05,53 L1627.08,52.3 L1627.1,51.6 L1627.12,50.89 L1627.14,50.19 L1627.16,49.49 L1627.18,48.78 L1627.2,48.08 L1627.22,47.38 L1627.24,46.67 L1627.26,45.97 L1627.28,45.27 L1627.3,44.56 L1627.31,43.86 L1627.33,43.15 L1627.34,42.45 L1627.36,41.75 L1627.37,41.04 L1627.39,40.34 L1627.4,39.63 L1627.41,38.93 L1627.42,38.22 L1627.44,37.52 L1627.45,36.81 L1627.46,36.1 L1627.47,35.4 L1627.48,34.69 L1627.48,33.99 L1627.49,33.28 L1627.5,32.57 L1627.5,31.87 L1627.51,31.16 L1627.52,30.46 L1627.52,29.75 L1627.52,29.04 L1627.53,28.33 L1627.53,27.63 L1627.53,26.92 L1627.53,26.21 L1627.53,25.5 L1627.53,24.8 L1627.53,24.09 L1627.53,23.38 L1627.53,22.67 L1627.53,21.96 L1627.52,21.25 L1627.52,20.55 L1627.52,19.84 L1627.51,19.13 L1627.5,18.42 L1627.5,17.71 L1627.49,17 L1627.48,16.29 L1635.8,16.5 L1636.2,75 L1637,170 L1638.4,300 L1639,430 L1639.3,543.6" fill="none" stroke="#00d000" stroke-width="2.2"/>
<ellipse cx="917.1" cy="543.8" rx="8" ry="8.6" fill="none" stroke="#00d000" stroke-width="2.5"/><ellipse cx="942.07" cy="543.74" rx="8" ry="8.6" fill="none" stroke="#00d000" stroke-width="2.5"/><ellipse cx="967.04" cy="543.68" rx="8" ry="8.6" fill="none" stroke="#00d000" stroke-width="2.5"/><ellipse cx="992.01" cy="543.62" rx="8" ry="8.6" fill="none" stroke="#00d000" stroke-width="2.5"/><ellipse cx="1016.98" cy="543.43" rx="8" ry="8.6" fill="none" stroke="#00d000" stroke-width="2.5"/><ellipse cx="1041.95" cy="543.18" rx="8" ry="8.6" fill="none" stroke="#00d000" stroke-width="2.5"/><ellipse cx="1066.92" cy="543.03" rx="8" ry="8.6" fill="none" stroke="#00d000" stroke-width="2.5"/><ellipse cx="1091.89" cy="542.93" rx="8" ry="8.6" fill="none" stroke="#00d000" stroke-width="2.5"/><ellipse cx="1116.86" cy="542.83" rx="8" ry="8.6" fill="none" stroke="#00d000" stroke-width="2.5"/><ellipse cx="1141.83" cy="542.73" rx="8" ry="8.6" fill="none" stroke="#00d000" stroke-width="2.5"/><ellipse cx="1166.8" cy="542.63" rx="8" ry="8.6" fill="none" stroke="#00d000" stroke-width="2.5"/><ellipse cx="1191.77" cy="542.53" rx="8" ry="8.6" fill="none" stroke="#00d000" stroke-width="2.5"/><ellipse cx="1216.74" cy="542.34" rx="8" ry="8.6" fill="none" stroke="#00d000" stroke-width="2.5"/><ellipse cx="1241.71" cy="542.1" rx="8" ry="8.6" fill="none" stroke="#00d000" stroke-width="2.5"/><ellipse cx="1266.68" cy="541.73" rx="8" ry="8.6" fill="none" stroke="#00d000" stroke-width="2.5"/><ellipse cx="1291.65" cy="541.26" rx="8" ry="8.6" fill="none" stroke="#00d000" stroke-width="2.5"/><ellipse cx="1316.62" cy="540.49" rx="8" ry="8.6" fill="none" stroke="#00d000" stroke-width="2.5"/><ellipse cx="1341.2" cy="539.6" rx="8" ry="8.6" fill="none" stroke="#00d000" stroke-width="2.5"/><ellipse cx="1366.2" cy="538.8" rx="8" ry="8.6" fill="none" stroke="#00d000" stroke-width="2.5"/><ellipse cx="1391.2" cy="537.4" rx="8" ry="8.6" fill="none" stroke="#00d000" stroke-width="2.5"/><ellipse cx="1416.4" cy="535.1" rx="8" ry="8.6" fill="none" stroke="#00d000" stroke-width="2.5"/><ellipse cx="1441.2" cy="532.3" rx="8" ry="8.6" fill="none" stroke="#00d000" stroke-width="2.5"/><ellipse cx="1465.9" cy="528.9" rx="8" ry="8.6" fill="none" stroke="#00d000" stroke-width="2.5"/><ellipse cx="1490.4" cy="523.1" rx="8" ry="8.6" fill="none" stroke="#00d000" stroke-width="2.5"/><ellipse cx="1513.2" cy="515.3" rx="8" ry="8.6" fill="none" stroke="#00d000" stroke-width="2.5"/><ellipse cx="1533.4" cy="504.1" rx="8" ry="8.6" fill="none" stroke="#00d000" stroke-width="2.5"/><ellipse cx="1550.6" cy="488" rx="8" ry="8.6" fill="none" stroke="#00d000" stroke-width="2.5"/><ellipse cx="1563" cy="470.7" rx="8" ry="8.6" fill="none" stroke="#00d000" stroke-width="2.5"/><ellipse cx="1572.4" cy="451.5" rx="8" ry="8.6" fill="none" stroke="#00d000" stroke-width="2.5"/><ellipse cx="1579.5" cy="432.6" rx="8" ry="8.6" fill="none" stroke="#00d000" stroke-width="2.5"/><ellipse cx="1585.8" cy="412.6" rx="8" ry="8.6" fill="none" stroke="#00d000" stroke-width="2.5"/><ellipse cx="1590.2" cy="391.5" rx="8" ry="8.6" fill="none" stroke="#00d000" stroke-width="2.5"/><ellipse cx="1593.7" cy="372.1" rx="8" ry="8.6" fill="none" stroke="#00d000" stroke-width="2.5"/><ellipse cx="1597.2" cy="351.2" rx="8" ry="8.6" fill="none" stroke="#00d000" stroke-width="2.5"/><ellipse cx="1600.7" cy="329.5" rx="8" ry="8.6" fill="none" stroke="#00d000" stroke-width="2.5"/><ellipse cx="1603.7" cy="308.1" rx="8" ry="8.6" fill="none" stroke="#00d000" stroke-width="2.5"/><ellipse cx="1606.5" cy="287.2" rx="8" ry="8.6" fill="none" stroke="#00d000" stroke-width="2.5"/><ellipse cx="1609.3" cy="265.1" rx="8" ry="8.6" fill="none" stroke="#00d000" stroke-width="2.5"/><ellipse cx="1610.9" cy="245.7" rx="8" ry="8.6" fill="none" stroke="#00d000" stroke-width="2.5"/><ellipse cx="1613.3" cy="224.3" rx="8" ry="8.6" fill="none" stroke="#00d000" stroke-width="2.5"/><ellipse cx="1615.4" cy="202.2" rx="8" ry="8.6" fill="none" stroke="#00d000" stroke-width="2.5"/><ellipse cx="1617.4" cy="179.1" rx="8" ry="8.6" fill="none" stroke="#00d000" stroke-width="2.5"/><ellipse cx="1619.8" cy="156.5" rx="8" ry="8.6" fill="none" stroke="#00d000" stroke-width="2.5"/><ellipse cx="1621.7" cy="135.7" rx="8" ry="8.6" fill="none" stroke="#00d000" stroke-width="2.5"/><ellipse cx="1623.2" cy="111.7" rx="8" ry="8.6" fill="none" stroke="#00d000" stroke-width="2.5"/><ellipse cx="1624.6" cy="91" rx="8" ry="8.6" fill="none" stroke="#00d000" stroke-width="2.5"/><ellipse cx="1625.8" cy="64" rx="8" ry="8.6" fill="none" stroke="#00d000" stroke-width="2.5"/><ellipse cx="1626.6" cy="41.3" rx="8" ry="8.6" fill="none" stroke="#00d000" stroke-width="2.5"/><ellipse cx="1628.3" cy="15.1" rx="8" ry="8.6" fill="none" stroke="#00d000" stroke-width="2.5"/><ellipse cx="1635.9" cy="34.2" rx="8" ry="8.6" fill="none" stroke="#00d000" stroke-width="2.5"/><ellipse cx="1635.9" cy="75.1" rx="8" ry="8.6" fill="none" stroke="#00d000" stroke-width="2.5"/><ellipse cx="1636.8" cy="121.5" rx="8" ry="8.6" fill="none" stroke="#00d000" stroke-width="2.5"/><ellipse cx="1637" cy="171.7" rx="8" ry="8.6" fill="none" stroke="#00d000" stroke-width="2.5"/><ellipse cx="1637.3" cy="225" rx="8" ry="8.6" fill="none" stroke="#00d000" stroke-width="2.5"/><ellipse cx="1638.2" cy="279.1" rx="8" ry="8.6" fill="none" stroke="#00d000" stroke-width="2.5"/><ellipse cx="1638.4" cy="333.3" rx="8" ry="8.6" fill="none" stroke="#00d000" stroke-width="2.5"/><ellipse cx="1638.7" cy="385.3" rx="8" ry="8.6" fill="none" stroke="#00d000" stroke-width="2.5"/><ellipse cx="1639" cy="433.2" rx="8" ry="8.6" fill="none" stroke="#00d000" stroke-width="2.5"/><ellipse cx="1639" cy="474.7" rx="8" ry="8.6" fill="none" stroke="#00d000" stroke-width="2.5"/><ellipse cx="1639" cy="507.1" rx="8" ry="8.6" fill="none" stroke="#00d000" stroke-width="2.5"/><ellipse cx="1639" cy="528.7" rx="8" ry="8.6" fill="none" stroke="#00d000" stroke-width="2.5"/>
<line x1="917.2" y1="543.8" x2="1640.4" y2="543.8" stroke="#3030ff" stroke-width="2.2"/>
<polygon points="908.1,538 926.1,538 917.1,554.4" fill="none" stroke="#3030ff" stroke-width="2.5"/><polygon points="933.07,538 951.07,538 942.07,554.4" fill="none" stroke="#3030ff" stroke-width="2.5"/><polygon points="958.04,538 976.04,538 967.04,554.4" fill="none" stroke="#3030ff" stroke-width="2.5"/><polygon points="983.01,538 1001.01,538 992.01,554.4" fill="none" stroke="#3030ff" stroke-width="2.5"/><polygon points="1007.98,538 1025.98,538 1016.98,554.4" fill="none" stroke="#3030ff" stroke-width="2.5"/><polygon points="1032.95,538 1050.95,538 1041.95,554.4" fill="none" stroke="#3030ff" stroke-width="2.5"/><polygon points="1057.92,538 1075.92,538 1066.92,554.4" fill="none" stroke="#3030ff" stroke-width="2.5"/><polygon points="1082.89,538 1100.89,538 1091.89,554.4" fill="none" stroke="#3030ff" stroke-width="2.5"/><polygon points="1107.86,538 1125.86,538 1116.86,554.4" fill="none" stroke="#3030ff" stroke-width="2.5"/><polygon points="1132.83,538 1150.83,538 1141.83,554.4" fill="none" stroke="#3030ff" stroke-width="2.5"/><polygon points="1157.8,538 1175.8,538 1166.8,554.4" fill="none" stroke="#3030ff" stroke-width="2.5"/><polygon points="1182.77,538 1200.77,538 1191.77,554.4" fill="none" stroke="#3030ff" stroke-width="2.5"/><polygon points="1207.74,538 1225.74,538 1216.74,554.4" fill="none" stroke="#3030ff" stroke-width="2.5"/><polygon points="1232.71,538 1250.71,538 1241.71,554.4" fill="none" stroke="#3030ff" stroke-width="2.5"/><polygon points="1257.68,538 1275.68,538 1266.68,554.4" fill="none" stroke="#3030ff" stroke-width="2.5"/><polygon points="1282.65,538 1300.65,538 1291.65,554.4" fill="none" stroke="#3030ff" stroke-width="2.5"/><polygon points="1307.62,538 1325.62,538 1316.62,554.4" fill="none" stroke="#3030ff" stroke-width="2.5"/><polygon points="1332.59,538 1350.59,538 1341.59,554.4" fill="none" stroke="#3030ff" stroke-width="2.5"/><polygon points="1357.56,538 1375.56,538 1366.56,554.4" fill="none" stroke="#3030ff" stroke-width="2.5"/><polygon points="1382.53,538 1400.53,538 1391.53,554.4" fill="none" stroke="#3030ff" stroke-width="2.5"/><polygon points="1407.5,538 1425.5,538 1416.5,554.4" fill="none" stroke="#3030ff" stroke-width="2.5"/><polygon points="1432.47,538 1450.47,538 1441.47,554.4" fill="none" stroke="#3030ff" stroke-width="2.5"/><polygon points="1457.44,538 1475.44,538 1466.44,554.4" fill="none" stroke="#3030ff" stroke-width="2.5"/><polygon points="1482.41,538 1500.41,538 1491.41,554.4" fill="none" stroke="#3030ff" stroke-width="2.5"/><polygon points="1507.38,538 1525.38,538 1516.38,554.4" fill="none" stroke="#3030ff" stroke-width="2.5"/><polygon points="1532.35,538 1550.35,538 1541.35,554.4" fill="none" stroke="#3030ff" stroke-width="2.5"/><polygon points="1557.32,538 1575.32,538 1566.32,554.4" fill="none" stroke="#3030ff" stroke-width="2.5"/><polygon points="1582.29,538 1600.29,538 1591.29,554.4" fill="none" stroke="#3030ff" stroke-width="2.5"/><polygon points="1607.26,538 1625.26,538 1616.26,554.4" fill="none" stroke="#3030ff" stroke-width="2.5"/>
<line x1="917.2" y1="543.8" x2="1640.4" y2="543.8" stroke="#ff00ff" stroke-width="2.2"/>
<polygon points="911.7,534.4 924.3,543.8 911.7,553.2" fill="none" stroke="#ff00ff" stroke-width="2.5"/><polygon points="936.67,534.4 949.27,543.8 936.67,553.2" fill="none" stroke="#ff00ff" stroke-width="2.5"/><polygon points="961.64,534.4 974.24,543.8 961.64,553.2" fill="none" stroke="#ff00ff" stroke-width="2.5"/><polygon points="986.61,534.4 999.21,543.8 986.61,553.2" fill="none" stroke="#ff00ff" stroke-width="2.5"/><polygon points="1011.58,534.4 1024.18,543.8 1011.58,553.2" fill="none" stroke="#ff00ff" stroke-width="2.5"/><polygon points="1036.55,534.4 1049.15,543.8 1036.55,553.2" fill="none" stroke="#ff00ff" stroke-width="2.5"/><polygon points="1061.52,534.4 1074.12,543.8 1061.52,553.2" fill="none" stroke="#ff00ff" stroke-width="2.5"/><polygon points="1086.49,534.4 1099.09,543.8 1086.49,553.2" fill="none" stroke="#ff00ff" stroke-width="2.5"/><polygon points="1111.46,534.4 1124.06,543.8 1111.46,553.2" fill="none" stroke="#ff00ff" stroke-width="2.5"/><polygon points="1136.43,534.4 1149.03,543.8 1136.43,553.2" fill="none" stroke="#ff00ff" stroke-width="2.5"/><polygon points="1161.4,534.4 1174,543.8 1161.4,553.2" fill="none" stroke="#ff00ff" stroke-width="2.5"/><polygon points="1186.37,534.4 1198.97,543.8 1186.37,553.2" fill="none" stroke="#ff00ff" stroke-width="2.5"/><polygon points="1211.34,534.4 1223.94,543.8 1211.34,553.2" fill="none" stroke="#ff00ff" stroke-width="2.5"/><polygon points="1236.31,534.4 1248.91,543.8 1236.31,553.2" fill="none" stroke="#ff00ff" stroke-width="2.5"/><polygon points="1261.28,534.4 1273.88,543.8 1261.28,553.2" fill="none" stroke="#ff00ff" stroke-width="2.5"/><polygon points="1286.25,534.4 1298.85,543.8 1286.25,553.2" fill="none" stroke="#ff00ff" stroke-width="2.5"/><polygon points="1311.22,534.4 1323.82,543.8 1311.22,553.2" fill="none" stroke="#ff00ff" stroke-width="2.5"/><polygon points="1336.19,534.4 1348.79,543.8 1336.19,553.2" fill="none" stroke="#ff00ff" stroke-width="2.5"/><polygon points="1361.16,534.4 1373.76,543.8 1361.16,553.2" fill="none" stroke="#ff00ff" stroke-width="2.5"/><polygon points="1386.13,534.4 1398.73,543.8 1386.13,553.2" fill="none" stroke="#ff00ff" stroke-width="2.5"/><polygon points="1411.1,534.4 1423.7,543.8 1411.1,553.2" fill="none" stroke="#ff00ff" stroke-width="2.5"/><polygon points="1436.07,534.4 1448.67,543.8 1436.07,553.2" fill="none" stroke="#ff00ff" stroke-width="2.5"/><polygon points="1461.04,534.4 1473.64,543.8 1461.04,553.2" fill="none" stroke="#ff00ff" stroke-width="2.5"/><polygon points="1486.01,534.4 1498.61,543.8 1486.01,553.2" fill="none" stroke="#ff00ff" stroke-width="2.5"/><polygon points="1510.98,534.4 1523.58,543.8 1510.98,553.2" fill="none" stroke="#ff00ff" stroke-width="2.5"/><polygon points="1535.95,534.4 1548.55,543.8 1535.95,553.2" fill="none" stroke="#ff00ff" stroke-width="2.5"/><polygon points="1560.92,534.4 1573.52,543.8 1560.92,553.2" fill="none" stroke="#ff00ff" stroke-width="2.5"/><polygon points="1585.89,534.4 1598.49,543.8 1585.89,553.2" fill="none" stroke="#ff00ff" stroke-width="2.5"/><polygon points="1610.86,534.4 1623.46,543.8 1610.86,553.2" fill="none" stroke="#ff00ff" stroke-width="2.5"/>
<line x1="917.2" y1="543.8" x2="1640.4" y2="543.8" stroke="#ff7800" stroke-width="2.2"/>
<polygon points="922.5,534.4 909.9,543.8 922.5,553.2" fill="none" stroke="#ff7800" stroke-width="2.5"/><polygon points="947.47,534.4 934.87,543.8 947.47,553.2" fill="none" stroke="#ff7800" stroke-width="2.5"/><polygon points="972.44,534.4 959.84,543.8 972.44,553.2" fill="none" stroke="#ff7800" stroke-width="2.5"/><polygon points="997.41,534.4 984.81,543.8 997.41,553.2" fill="none" stroke="#ff7800" stroke-width="2.5"/><polygon points="1022.38,534.4 1009.78,543.8 1022.38,553.2" fill="none" stroke="#ff7800" stroke-width="2.5"/><polygon points="1047.35,534.4 1034.75,543.8 1047.35,553.2" fill="none" stroke="#ff7800" stroke-width="2.5"/><polygon points="1072.32,534.4 1059.72,543.8 1072.32,553.2" fill="none" stroke="#ff7800" stroke-width="2.5"/><polygon points="1097.29,534.4 1084.69,543.8 1097.29,553.2" fill="none" stroke="#ff7800" stroke-width="2.5"/><polygon points="1122.26,534.4 1109.66,543.8 1122.26,553.2" fill="none" stroke="#ff7800" stroke-width="2.5"/><polygon points="1147.23,534.4 1134.63,543.8 1147.23,553.2" fill="none" stroke="#ff7800" stroke-width="2.5"/><polygon points="1172.2,534.4 1159.6,543.8 1172.2,553.2" fill="none" stroke="#ff7800" stroke-width="2.5"/><polygon points="1197.17,534.4 1184.57,543.8 1197.17,553.2" fill="none" stroke="#ff7800" stroke-width="2.5"/><polygon points="1222.14,534.4 1209.54,543.8 1222.14,553.2" fill="none" stroke="#ff7800" stroke-width="2.5"/><polygon points="1247.11,534.4 1234.51,543.8 1247.11,553.2" fill="none" stroke="#ff7800" stroke-width="2.5"/><polygon points="1272.08,534.4 1259.48,543.8 1272.08,553.2" fill="none" stroke="#ff7800" stroke-width="2.5"/><polygon points="1297.05,534.4 1284.45,543.8 1297.05,553.2" fill="none" stroke="#ff7800" stroke-width="2.5"/><polygon points="1322.02,534.4 1309.42,543.8 1322.02,553.2" fill="none" stroke="#ff7800" stroke-width="2.5"/><polygon points="1346.99,534.4 1334.39,543.8 1346.99,553.2" fill="none" stroke="#ff7800" stroke-width="2.5"/><polygon points="1371.96,534.4 1359.36,543.8 1371.96,553.2" fill="none" stroke="#ff7800" stroke-width="2.5"/><polygon points="1396.93,534.4 1384.33,543.8 1396.93,553.2" fill="none" stroke="#ff7800" stroke-width="2.5"/><polygon points="1421.9,534.4 1409.3,543.8 1421.9,553.2" fill="none" stroke="#ff7800" stroke-width="2.5"/><polygon points="1446.87,534.4 1434.27,543.8 1446.87,553.2" fill="none" stroke="#ff7800" stroke-width="2.5"/><polygon points="1471.84,534.4 1459.24,543.8 1471.84,553.2" fill="none" stroke="#ff7800" stroke-width="2.5"/><polygon points="1496.81,534.4 1484.21,543.8 1496.81,553.2" fill="none" stroke="#ff7800" stroke-width="2.5"/><polygon points="1521.78,534.4 1509.18,543.8 1521.78,553.2" fill="none" stroke="#ff7800" stroke-width="2.5"/><polygon points="1546.75,534.4 1534.15,543.8 1546.75,553.2" fill="none" stroke="#ff7800" stroke-width="2.5"/><polygon points="1571.72,534.4 1559.12,543.8 1571.72,553.2" fill="none" stroke="#ff7800" stroke-width="2.5"/><polygon points="1596.69,534.4 1584.09,543.8 1596.69,553.2" fill="none" stroke="#ff7800" stroke-width="2.5"/><polygon points="1621.66,534.4 1609.06,543.8 1621.66,553.2" fill="none" stroke="#ff7800" stroke-width="2.5"/>
<line x1="917.2" y1="543.8" x2="1640.4" y2="543.8" stroke="#0078ff" stroke-width="2.2"/>
<polygon points="917.1,532.9 927.6,543.8 917.1,554.7 906.6,543.8" fill="none" stroke="#0078ff" stroke-width="2.5"/><polygon points="942.07,532.9 952.57,543.8 942.07,554.7 931.57,543.8" fill="none" stroke="#0078ff" stroke-width="2.5"/><polygon points="967.04,532.9 977.54,543.8 967.04,554.7 956.54,543.8" fill="none" stroke="#0078ff" stroke-width="2.5"/><polygon points="992.01,532.9 1002.51,543.8 992.01,554.7 981.51,543.8" fill="none" stroke="#0078ff" stroke-width="2.5"/><polygon points="1016.98,532.9 1027.48,543.8 1016.98,554.7 1006.48,543.8" fill="none" stroke="#0078ff" stroke-width="2.5"/><polygon points="1041.95,532.9 1052.45,543.8 1041.95,554.7 1031.45,543.8" fill="none" stroke="#0078ff" stroke-width="2.5"/><polygon points="1066.92,532.9 1077.42,543.8 1066.92,554.7 1056.42,543.8" fill="none" stroke="#0078ff" stroke-width="2.5"/><polygon points="1091.89,532.9 1102.39,543.8 1091.89,554.7 1081.39,543.8" fill="none" stroke="#0078ff" stroke-width="2.5"/><polygon points="1116.86,532.9 1127.36,543.8 1116.86,554.7 1106.36,543.8" fill="none" stroke="#0078ff" stroke-width="2.5"/><polygon points="1141.83,532.9 1152.33,543.8 1141.83,554.7 1131.33,543.8" fill="none" stroke="#0078ff" stroke-width="2.5"/><polygon points="1166.8,532.9 1177.3,543.8 1166.8,554.7 1156.3,543.8" fill="none" stroke="#0078ff" stroke-width="2.5"/><polygon points="1191.77,532.9 1202.27,543.8 1191.77,554.7 1181.27,543.8" fill="none" stroke="#0078ff" stroke-width="2.5"/><polygon points="1216.74,532.9 1227.24,543.8 1216.74,554.7 1206.24,543.8" fill="none" stroke="#0078ff" stroke-width="2.5"/><polygon points="1241.71,532.9 1252.21,543.8 1241.71,554.7 1231.21,543.8" fill="none" stroke="#0078ff" stroke-width="2.5"/><polygon points="1266.68,532.9 1277.18,543.8 1266.68,554.7 1256.18,543.8" fill="none" stroke="#0078ff" stroke-width="2.5"/><polygon points="1291.65,532.9 1302.15,543.8 1291.65,554.7 1281.15,543.8" fill="none" stroke="#0078ff" stroke-width="2.5"/><polygon points="1316.62,532.9 1327.12,543.8 1316.62,554.7 1306.12,543.8" fill="none" stroke="#0078ff" stroke-width="2.5"/><polygon points="1341.59,532.9 1352.09,543.8 1341.59,554.7 1331.09,543.8" fill="none" stroke="#0078ff" stroke-width="2.5"/><polygon points="1366.56,532.9 1377.06,543.8 1366.56,554.7 1356.06,543.8" fill="none" stroke="#0078ff" stroke-width="2.5"/><polygon points="1391.53,532.9 1402.03,543.8 1391.53,554.7 1381.03,543.8" fill="none" stroke="#0078ff" stroke-width="2.5"/><polygon points="1416.5,532.9 1427,543.8 1416.5,554.7 1406,543.8" fill="none" stroke="#0078ff" stroke-width="2.5"/><polygon points="1441.47,532.9 1451.97,543.8 1441.47,554.7 1430.97,543.8" fill="none" stroke="#0078ff" stroke-width="2.5"/><polygon points="1466.44,532.9 1476.94,543.8 1466.44,554.7 1455.94,543.8" fill="none" stroke="#0078ff" stroke-width="2.5"/><polygon points="1491.41,532.9 1501.91,543.8 1491.41,554.7 1480.91,543.8" fill="none" stroke="#0078ff" stroke-width="2.5"/><polygon points="1516.38,532.9 1526.88,543.8 1516.38,554.7 1505.88,543.8" fill="none" stroke="#0078ff" stroke-width="2.5"/><polygon points="1541.35,532.9 1551.85,543.8 1541.35,554.7 1530.85,543.8" fill="none" stroke="#0078ff" stroke-width="2.5"/><polygon points="1566.32,532.9 1576.82,543.8 1566.32,554.7 1555.82,543.8" fill="none" stroke="#0078ff" stroke-width="2.5"/><polygon points="1591.29,532.9 1601.79,543.8 1591.29,554.7 1580.79,543.8" fill="none" stroke="#0078ff" stroke-width="2.5"/><polygon points="1616.26,532.9 1626.76,543.8 1616.26,554.7 1605.76,543.8" fill="none" stroke="#0078ff" stroke-width="2.5"/>
<line x1="917.2" y1="543.8" x2="1640.4" y2="543.8" stroke="#000" stroke-width="2.6"/>
<line x1="917.2" y1="16.0" x2="917.2" y2="543.8" stroke="#000" stroke-width="2.8"/>
<line x1="917.2" y1="543.8" x2="917.2" y2="530.5" stroke="#000" stroke-width="2.3"/>
<line x1="1007.6" y1="543.8" x2="1007.6" y2="537.3" stroke="#000" stroke-width="1"/>
<line x1="1098" y1="543.8" x2="1098" y2="530.5" stroke="#000" stroke-width="2.3"/>
<line x1="1188.4" y1="543.8" x2="1188.4" y2="537.3" stroke="#000" stroke-width="1"/>
<line x1="1278.8" y1="543.8" x2="1278.8" y2="530.5" stroke="#000" stroke-width="2.3"/>
<line x1="1369.2" y1="543.8" x2="1369.2" y2="537.3" stroke="#000" stroke-width="1"/>
<line x1="1459.6" y1="543.8" x2="1459.6" y2="530.5" stroke="#000" stroke-width="2.3"/>
<line x1="1550" y1="543.8" x2="1550" y2="537.3" stroke="#000" stroke-width="1"/>
<line x1="1640.4" y1="543.8" x2="1640.4" y2="530.5" stroke="#000" stroke-width="2.3"/>
<line x1="917.2" y1="543.8" x2="930.2" y2="543.8" stroke="#000" stroke-width="2.3"/>
<line x1="917.2" y1="491.02" x2="923.7" y2="491.02" stroke="#000" stroke-width="1"/>
<line x1="917.2" y1="438.24" x2="930.2" y2="438.24" stroke="#000" stroke-width="2.3"/>
<line x1="917.2" y1="385.46" x2="923.7" y2="385.46" stroke="#000" stroke-width="1"/>
<line x1="917.2" y1="332.68" x2="930.2" y2="332.68" stroke="#000" stroke-width="2.3"/>
<line x1="917.2" y1="279.9" x2="923.7" y2="279.9" stroke="#000" stroke-width="1"/>
<line x1="917.2" y1="227.12" x2="930.2" y2="227.12" stroke="#000" stroke-width="2.3"/>
<line x1="917.2" y1="174.34" x2="923.7" y2="174.34" stroke="#000" stroke-width="1"/>
<line x1="917.2" y1="121.56" x2="930.2" y2="121.56" stroke="#000" stroke-width="2.3"/>
<line x1="917.2" y1="68.78" x2="923.7" y2="68.78" stroke="#000" stroke-width="1"/>
<line x1="917.2" y1="16" x2="930.2" y2="16" stroke="#000" stroke-width="2.3"/>
<text transform="translate(907.7,553.12) scale(0.94,1)" font-family="'Liberation Sans', Arial, Helvetica, sans-serif" font-size="27.0" text-anchor="end">0</text>
<text transform="translate(907.7,447.55) scale(0.94,1)" font-family="'Liberation Sans', Arial, Helvetica, sans-serif" font-size="27.0" text-anchor="end">0.2</text>
<text transform="translate(907.7,341.99) scale(0.94,1)" font-family="'Liberation Sans', Arial, Helvetica, sans-serif" font-size="27.0" text-anchor="end">0.4</text>
<text transform="translate(907.7,236.43) scale(0.94,1)" font-family="'Liberation Sans', Arial, Helvetica, sans-serif" font-size="27.0" text-anchor="end">0.6</text>
<text transform="translate(907.7,130.87) scale(0.94,1)" font-family="'Liberation Sans', Arial, Helvetica, sans-serif" font-size="27.0" text-anchor="end">0.8</text>
<text x="893.53" y="24.9" font-family="NanumGothic, 'Liberation Sans', sans-serif" font-size="25.5" stroke="#000" stroke-width="0.55">1</text>
<text transform="translate(917.2,585.2) scale(0.94,1)" font-family="'Liberation Sans', Arial, Helvetica, sans-serif" font-size="27.0" text-anchor="middle">0</text>
<text transform="translate(1098,585.2) scale(0.94,1)" font-family="'Liberation Sans', Arial, Helvetica, sans-serif" font-size="27.0" text-anchor="middle">0.25</text>
<text transform="translate(1278.8,585.2) scale(0.94,1)" font-family="'Liberation Sans', Arial, Helvetica, sans-serif" font-size="27.0" text-anchor="middle">0.5</text>
<text transform="translate(1459.6,585.2) scale(0.94,1)" font-family="'Liberation Sans', Arial, Helvetica, sans-serif" font-size="27.0" text-anchor="middle">0.75</text>
<text x="1632.73" y="585" font-family="NanumGothic, 'Liberation Sans', sans-serif" font-size="25.5" stroke="#000" stroke-width="0.55">1</text>
<rect x="983.7" y="41.0" width="372.9" height="343.3" fill="#fff" stroke="none"/>
<line x1="983.7" y1="384.3" x2="1356.6" y2="384.3" stroke="#0078ff" stroke-width="1.4"/>
<path d="M983.7,384.3 L1080.03,384.57 L1080.72,384.55 L1081.42,384.52 L1082.12,384.5 L1082.81,384.48 L1083.51,384.45 L1084.21,384.43 L1084.9,384.41 L1085.6,384.38 L1086.3,384.36 L1086.99,384.34 L1087.69,384.32 L1088.39,384.29 L1089.08,384.27 L1089.78,384.25 L1090.48,384.23 L1091.17,384.21 L1091.87,384.19 L1092.57,384.16 L1093.26,384.14 L1093.96,384.12 L1094.66,384.1 L1095.35,384.08 L1096.05,384.06 L1096.75,384.04 L1097.45,384.01 L1098.14,383.99 L1098.84,383.97 L1099.54,383.95 L1100.23,383.93 L1100.93,383.91 L1101.63,383.89 L1102.33,383.87 L1103.02,383.85 L1103.72,383.83 L1104.42,383.81 L1105.12,383.79 L1105.81,383.77 L1106.51,383.75 L1107.21,383.73 L1107.91,383.71 L1108.61,383.69 L1109.3,383.67 L1110,383.65 L1110.7,383.63 L1111.4,383.61 L1112.09,383.59 L1112.79,383.57 L1113.49,383.55 L1114.19,383.53 L1114.89,383.51 L1115.58,383.49 L1116.28,383.47 L1116.98,383.45 L1117.68,383.43 L1118.38,383.41 L1119.08,383.39 L1119.77,383.37 L1120.47,383.35 L1121.17,383.33 L1121.87,383.31 L1122.57,383.29 L1123.26,383.27 L1123.96,383.25 L1124.66,383.23 L1125.36,383.21 L1126.06,383.19 L1126.76,383.17 L1127.45,383.15 L1128.15,383.13 L1128.85,383.11 L1129.55,383.09 L1130.25,383.07 L1130.95,383.04 L1131.65,383.02 L1132.34,383 L1133.04,382.98 L1133.74,382.96 L1134.44,382.94 L1135.14,382.92 L1135.84,382.9 L1136.53,382.88 L1137.23,382.85 L1137.93,382.83 L1138.63,382.81 L1139.33,382.79 L1140.03,382.77 L1140.73,382.74 L1141.42,382.72 L1142.12,382.7 L1142.82,382.68 L1143.52,382.66 L1144.22,382.63 L1144.92,382.61 L1145.62,382.59 L1146.31,382.56 L1147.01,382.54 L1147.71,382.52 L1148.41,382.49 L1149.11,382.47 L1149.81,382.45 L1150.51,382.42 L1151.21,382.4 L1151.9,382.37 L1152.6,382.35 L1153.3,382.32 L1154,382.3 L1154.7,382.27 L1155.4,382.25 L1156.1,382.22 L1156.79,382.2 L1157.49,382.17 L1158.19,382.14 L1158.89,382.12 L1159.59,382.09 L1160.29,382.07 L1160.99,382.04 L1161.68,382.01 L1162.38,381.98 L1163.08,381.96 L1163.78,381.93 L1164.48,381.9 L1165.18,381.87 L1165.88,381.84 L1166.57,381.82 L1167.27,381.79 L1167.97,381.76 L1168.67,381.73 L1169.37,381.7 L1170.07,381.67 L1170.76,381.64 L1171.46,381.61 L1172.16,381.58 L1172.86,381.55 L1173.56,381.51 L1174.26,381.48 L1174.95,381.45 L1175.65,381.42 L1176.35,381.39 L1177.05,381.35 L1177.75,381.32 L1178.45,381.29 L1179.14,381.25 L1179.84,381.22 L1180.54,381.19 L1181.24,381.15 L1181.94,381.12 L1182.63,381.08 L1183.33,381.05 L1184.03,381.01 L1184.73,380.97 L1185.43,380.94 L1186.12,380.9 L1186.82,380.86 L1187.52,380.83 L1188.22,380.79 L1188.92,380.75 L1189.61,380.71 L1190.31,380.67 L1191.01,380.64 L1191.71,380.6 L1192.4,380.56 L1193.1,380.52 L1193.8,380.48 L1194.5,380.44 L1195.2,380.39 L1195.89,380.35 L1196.59,380.31 L1197.29,380.27 L1197.98,380.23 L1198.68,380.18 L1199.38,380.14 L1200.08,380.09 L1200.77,380.05 L1201.47,380.01 L1202.17,379.96 L1202.87,379.92 L1203.56,379.87 L1204.26,379.82 L1204.96,379.78 L1205.65,379.73 L1206.35,379.68 L1207.05,379.63 L1207.74,379.58 L1208.44,379.54 L1209.14,379.49 L1209.84,379.44 L1210.53,379.39 L1211.23,379.34 L1211.92,379.29 L1212.62,379.23 L1213.32,379.18 L1214.01,379.13 L1214.71,379.08 L1215.41,379.02 L1216.1,378.97 L1216.8,378.91 L1217.5,378.86 L1218.19,378.8 L1218.89,378.75 L1219.58,378.69 L1220.28,378.64 L1220.98,378.58 L1221.67,378.52 L1222.37,378.46 L1223.06,378.4 L1223.76,378.34 L1224.46,378.29 L1225.15,378.23 L1225.85,378.16 L1226.54,378.1 L1227.24,378.04 L1227.93,377.98 L1228.63,377.92 L1229.32,377.85 L1230.02,377.79 L1230.71,377.72 L1231.41,377.66 L1232.1,377.59 L1232.8,377.53 L1233.49,377.46 L1234.19,377.39 L1234.88,377.33 L1235.58,377.26 L1236.27,377.19 L1236.97,377.12 L1237.66,377.05 L1238.36,376.98 L1239.05,376.91 L1239.75,376.84 L1240.44,376.76 L1241.13,376.69 L1241.83,376.62 L1242.52,376.54 L1243.22,376.47 L1243.91,376.39 L1244.6,376.32 L1245.3,376.24 L1245.99,376.17 L1246.69,376.09 L1247.38,376.01 L1248.07,375.93 L1248.77,375.85 L1249.46,375.77 L1250.15,375.69 L1250.85,375.61 L1251.54,375.53 L1252.23,375.45 L1252.93,375.36 L1253.62,375.28 L1254.31,375.2 L1255,375.11 L1255.7,375.03 L1256.39,374.94 L1257.08,374.85 L1257.78,374.77 L1258.47,374.68 L1259.16,374.59 L1259.85,374.5 L1260.55,374.41 L1261.24,374.32 L1261.93,374.23 L1262.62,374.14 L1263.31,374.05 L1264.01,373.96 L1264.7,373.86 L1265.39,373.77 L1266.08,373.68 L1266.77,373.58 L1267.46,373.49 L1268.16,373.39 L1268.85,373.3 L1269.54,373.2 L1270.23,373.1 L1270.92,373 L1271.61,372.91 L1272.3,372.81 L1272.99,372.71 L1273.69,372.61 L1274.38,372.51 L1275.07,372.41 L1275.76,372.3 L1276.45,372.2 L1277.14,372.1 L1277.83,372 L1278.52,371.89 L1279.21,371.79 L1279.9,371.68 L1280.59,371.58 L1281.28,371.47 L1281.97,371.36 L1282.66,371.26 L1283.35,371.15 L1284.04,371.04 L1284.73,370.93 L1285.42,370.82 L1286.11,370.71 L1286.8,370.6 L1287.49,370.49 L1288.18,370.38 L1288.87,370.27 L1289.56,370.16 L1290.25,370.04 L1290.94,369.93 L1291.62,369.82 L1292.31,369.7 L1293,369.59 L1293.69,369.47 L1294.38,369.36 L1295.07,369.24 L1295.76,369.12 L1296.45,369.01 L1297.13,368.89 L1297.82,368.77 L1298.51,368.65 L1299.2,368.53 L1299.89,368.41 L1300.58,368.29 L1301.26,368.17 L1301.95,368.05 L1302.64,367.93 L1303.33,367.8 L1304.02,367.68 L1304.7,367.56 L1305.39,367.43 L1306.08,367.31 L1306.77,367.18 L1307.45,367.06 L1308.14,366.93 L1308.83,366.81 L1309.51,366.68 L1310.2,366.55 L1310.89,366.42 L1311.58,366.3 L1312.26,366.17 L1312.95,366.04 L1313.64,365.91 L1314.32,365.78 L1315.01,365.65 L1315.7,365.52 L1316.38,365.39 L1317.07,365.26 L1317.76,365.13 L1318.44,365.01 L1319.13,364.88 L1319.82,364.75 L1320.5,364.62 L1321.19,364.49 L1321.88,364.37 L1322.57,364.24 L1323.25,364.12 L1323.94,363.99 L1324.63,363.87 L1325.32,363.74 L1326,363.62 L1326.69,363.5 L1327.38,363.38 L1328.07,363.26 L1328.75,363.14 L1329.44,363.02 L1330.13,362.91 L1330.82,362.79 L1331.51,362.68 L1332.2,362.57 L1332.89,362.46 L1333.58,362.35 L1334.26,362.24 L1334.95,362.14 L1335.64,362.03 L1336.33,361.93 L1337.02,361.83 L1337.72,361.73 L1338.41,361.64 L1339.1,361.54 L1339.79,361.45 L1340.48,361.36 L1341.17,361.27 L1341.86,361.18 L1342.56,361.1 L1343.25,361.02 L1343.94,360.94 L1344.64,360.87 L1345.33,360.79 L1346.02,360.72 L1346.72,360.65 L1347.41,360.59 L1348.11,360.52 L1348.8,360.46 L1349.5,360.41 L1350.2,360.35 L1350.89,360.3 L1351.59,360.25 L1352.29,360.21 L1352.99,360.17 L1353.68,360.13 L1354.38,360.09 L1355.08,360.06 L1355.78,360.03 L1356.48,360.01" fill="none" stroke="#00d000" stroke-width="1.4"/>
<rect x="983.7" y="41.0" width="372.9" height="343.3" fill="none" stroke="#000" stroke-width="2.8"/>
<rect x="979.9" y="380.5" width="7.6" height="7.6" fill="none" stroke="#d20000" stroke-width="1.9"/><rect x="992.92" y="380.5" width="7.6" height="7.6" fill="none" stroke="#d20000" stroke-width="1.9"/><rect x="1005.94" y="380.5" width="7.6" height="7.6" fill="none" stroke="#d20000" stroke-width="1.9"/><rect x="1018.96" y="380.5" width="7.6" height="7.6" fill="none" stroke="#d20000" stroke-width="1.9"/><rect x="1031.98" y="380.5" width="7.6" height="7.6" fill="none" stroke="#d20000" stroke-width="1.9"/><rect x="1045" y="380.5" width="7.6" height="7.6" fill="none" stroke="#d20000" stroke-width="1.9"/><rect x="1058.02" y="380.5" width="7.6" height="7.6" fill="none" stroke="#d20000" stroke-width="1.9"/><rect x="1071.04" y="380.5" width="7.6" height="7.6" fill="none" stroke="#d20000" stroke-width="1.9"/><rect x="1084.06" y="380.5" width="7.6" height="7.6" fill="none" stroke="#d20000" stroke-width="1.9"/><rect x="1097.08" y="380.5" width="7.6" height="7.6" fill="none" stroke="#d20000" stroke-width="1.9"/><rect x="1110.1" y="380.5" width="7.6" height="7.6" fill="none" stroke="#d20000" stroke-width="1.9"/><rect x="1123.12" y="380.5" width="7.6" height="7.6" fill="none" stroke="#d20000" stroke-width="1.9"/><rect x="1136.14" y="380.5" width="7.6" height="7.6" fill="none" stroke="#d20000" stroke-width="1.9"/><rect x="1149.16" y="380.5" width="7.6" height="7.6" fill="none" stroke="#d20000" stroke-width="1.9"/><rect x="1162.18" y="380.5" width="7.6" height="7.6" fill="none" stroke="#d20000" stroke-width="1.9"/><rect x="1175.2" y="380.5" width="7.6" height="7.6" fill="none" stroke="#d20000" stroke-width="1.9"/><rect x="1188.22" y="380.5" width="7.6" height="7.6" fill="none" stroke="#d20000" stroke-width="1.9"/><rect x="1201.24" y="380.5" width="7.6" height="7.6" fill="none" stroke="#d20000" stroke-width="1.9"/><rect x="1214.26" y="380.5" width="7.6" height="7.6" fill="none" stroke="#d20000" stroke-width="1.9"/><rect x="1227.28" y="380.5" width="7.6" height="7.6" fill="none" stroke="#d20000" stroke-width="1.9"/><rect x="1240.3" y="380.5" width="7.6" height="7.6" fill="none" stroke="#d20000" stroke-width="1.9"/><rect x="1253.32" y="380.5" width="7.6" height="7.6" fill="none" stroke="#d20000" stroke-width="1.9"/><rect x="1266.34" y="380.5" width="7.6" height="7.6" fill="none" stroke="#d20000" stroke-width="1.9"/><rect x="1279.36" y="380.5" width="7.6" height="7.6" fill="none" stroke="#d20000" stroke-width="1.9"/><rect x="1292.38" y="380.5" width="7.6" height="7.6" fill="none" stroke="#d20000" stroke-width="1.9"/><rect x="1305.4" y="380.5" width="7.6" height="7.6" fill="none" stroke="#d20000" stroke-width="1.9"/><rect x="1318.42" y="380.5" width="7.6" height="7.6" fill="none" stroke="#d20000" stroke-width="1.9"/><rect x="1331.44" y="380.5" width="7.6" height="7.6" fill="none" stroke="#d20000" stroke-width="1.9"/><rect x="1344.46" y="380.5" width="7.6" height="7.6" fill="none" stroke="#d20000" stroke-width="1.9"/>
<ellipse cx="983.7" cy="384.3" rx="3.7" ry="3.9" fill="none" stroke="#00d000" stroke-width="1.9"/><ellipse cx="996.72" cy="384.3" rx="3.7" ry="3.9" fill="none" stroke="#00d000" stroke-width="1.9"/><ellipse cx="1009.74" cy="384.3" rx="3.7" ry="3.9" fill="none" stroke="#00d000" stroke-width="1.9"/><ellipse cx="1022.76" cy="384.3" rx="3.7" ry="3.9" fill="none" stroke="#00d000" stroke-width="1.9"/><ellipse cx="1035.78" cy="384.3" rx="3.7" ry="3.9" fill="none" stroke="#00d000" stroke-width="1.9"/><ellipse cx="1048.8" cy="384.3" rx="3.7" ry="3.9" fill="none" stroke="#00d000" stroke-width="1.9"/><ellipse cx="1061.82" cy="384.3" rx="3.7" ry="3.9" fill="none" stroke="#00d000" stroke-width="1.9"/><ellipse cx="1074.84" cy="384.3" rx="3.7" ry="3.9" fill="none" stroke="#00d000" stroke-width="1.9"/><ellipse cx="1087.86" cy="384.22" rx="3.7" ry="3.9" fill="none" stroke="#00d000" stroke-width="1.9"/><ellipse cx="1100.88" cy="384.09" rx="3.7" ry="3.9" fill="none" stroke="#00d000" stroke-width="1.9"/><ellipse cx="1113.9" cy="383.88" rx="3.7" ry="3.9" fill="none" stroke="#00d000" stroke-width="1.9"/><ellipse cx="1126.92" cy="383.49" rx="3.7" ry="3.9" fill="none" stroke="#00d000" stroke-width="1.9"/><ellipse cx="1139.94" cy="382.97" rx="3.7" ry="3.9" fill="none" stroke="#00d000" stroke-width="1.9"/><ellipse cx="1152.96" cy="382.41" rx="3.7" ry="3.9" fill="none" stroke="#00d000" stroke-width="1.9"/><ellipse cx="1165.98" cy="381.72" rx="3.7" ry="3.9" fill="none" stroke="#00d000" stroke-width="1.9"/><ellipse cx="1179" cy="381.02" rx="3.7" ry="3.9" fill="none" stroke="#00d000" stroke-width="1.9"/><ellipse cx="1192.02" cy="380.23" rx="3.7" ry="3.9" fill="none" stroke="#00d000" stroke-width="1.9"/><ellipse cx="1205.04" cy="379.52" rx="3.7" ry="3.9" fill="none" stroke="#00d000" stroke-width="1.9"/><ellipse cx="1218.06" cy="378.71" rx="3.7" ry="3.9" fill="none" stroke="#00d000" stroke-width="1.9"/><ellipse cx="1231.08" cy="377.74" rx="3.7" ry="3.9" fill="none" stroke="#00d000" stroke-width="1.9"/><ellipse cx="1244.1" cy="376.64" rx="3.7" ry="3.9" fill="none" stroke="#00d000" stroke-width="1.9"/><ellipse cx="1257.12" cy="375.06" rx="3.7" ry="3.9" fill="none" stroke="#00d000" stroke-width="1.9"/><ellipse cx="1270.14" cy="373.38" rx="3.7" ry="3.9" fill="none" stroke="#00d000" stroke-width="1.9"/><ellipse cx="1283.16" cy="371.4" rx="3.7" ry="3.9" fill="none" stroke="#00d000" stroke-width="1.9"/><ellipse cx="1296.18" cy="369.01" rx="3.7" ry="3.9" fill="none" stroke="#00d000" stroke-width="1.9"/><ellipse cx="1309.2" cy="366.5" rx="3.7" ry="3.9" fill="none" stroke="#00d000" stroke-width="1.9"/><ellipse cx="1322.22" cy="364.07" rx="3.7" ry="3.9" fill="none" stroke="#00d000" stroke-width="1.9"/><ellipse cx="1335.24" cy="361.96" rx="3.7" ry="3.9" fill="none" stroke="#00d000" stroke-width="1.9"/><ellipse cx="1348.26" cy="360.52" rx="3.7" ry="3.9" fill="none" stroke="#00d000" stroke-width="1.9"/>
<polygon points="979.2,381.4 988.2,381.4 983.7,389.6" fill="none" stroke="#3030ff" stroke-width="1.9"/><polygon points="992.22,381.4 1001.22,381.4 996.72,389.6" fill="none" stroke="#3030ff" stroke-width="1.9"/><polygon points="1005.24,381.4 1014.24,381.4 1009.74,389.6" fill="none" stroke="#3030ff" stroke-width="1.9"/><polygon points="1018.26,381.4 1027.26,381.4 1022.76,389.6" fill="none" stroke="#3030ff" stroke-width="1.9"/><polygon points="1031.28,381.4 1040.28,381.4 1035.78,389.6" fill="none" stroke="#3030ff" stroke-width="1.9"/><polygon points="1044.3,381.4 1053.3,381.4 1048.8,389.6" fill="none" stroke="#3030ff" stroke-width="1.9"/><polygon points="1057.32,381.4 1066.32,381.4 1061.82,389.6" fill="none" stroke="#3030ff" stroke-width="1.9"/><polygon points="1070.34,381.4 1079.34,381.4 1074.84,389.6" fill="none" stroke="#3030ff" stroke-width="1.9"/><polygon points="1083.36,381.4 1092.36,381.4 1087.86,389.6" fill="none" stroke="#3030ff" stroke-width="1.9"/><polygon points="1096.38,381.4 1105.38,381.4 1100.88,389.6" fill="none" stroke="#3030ff" stroke-width="1.9"/><polygon points="1109.4,381.4 1118.4,381.4 1113.9,389.6" fill="none" stroke="#3030ff" stroke-width="1.9"/><polygon points="1122.42,381.4 1131.42,381.4 1126.92,389.6" fill="none" stroke="#3030ff" stroke-width="1.9"/><polygon points="1135.44,381.4 1144.44,381.4 1139.94,389.6" fill="none" stroke="#3030ff" stroke-width="1.9"/><polygon points="1148.46,381.4 1157.46,381.4 1152.96,389.6" fill="none" stroke="#3030ff" stroke-width="1.9"/><polygon points="1161.48,381.4 1170.48,381.4 1165.98,389.6" fill="none" stroke="#3030ff" stroke-width="1.9"/><polygon points="1174.5,381.4 1183.5,381.4 1179,389.6" fill="none" stroke="#3030ff" stroke-width="1.9"/><polygon points="1187.52,381.4 1196.52,381.4 1192.02,389.6" fill="none" stroke="#3030ff" stroke-width="1.9"/><polygon points="1200.54,381.4 1209.54,381.4 1205.04,389.6" fill="none" stroke="#3030ff" stroke-width="1.9"/><polygon points="1213.56,381.4 1222.56,381.4 1218.06,389.6" fill="none" stroke="#3030ff" stroke-width="1.9"/><polygon points="1226.58,381.4 1235.58,381.4 1231.08,389.6" fill="none" stroke="#3030ff" stroke-width="1.9"/><polygon points="1239.6,381.4 1248.6,381.4 1244.1,389.6" fill="none" stroke="#3030ff" stroke-width="1.9"/><polygon points="1252.62,381.4 1261.62,381.4 1257.12,389.6" fill="none" stroke="#3030ff" stroke-width="1.9"/><polygon points="1265.64,381.4 1274.64,381.4 1270.14,389.6" fill="none" stroke="#3030ff" stroke-width="1.9"/><polygon points="1278.66,381.4 1287.66,381.4 1283.16,389.6" fill="none" stroke="#3030ff" stroke-width="1.9"/><polygon points="1291.68,381.4 1300.68,381.4 1296.18,389.6" fill="none" stroke="#3030ff" stroke-width="1.9"/><polygon points="1304.7,381.4 1313.7,381.4 1309.2,389.6" fill="none" stroke="#3030ff" stroke-width="1.9"/><polygon points="1317.72,381.4 1326.72,381.4 1322.22,389.6" fill="none" stroke="#3030ff" stroke-width="1.9"/><polygon points="1330.74,381.4 1339.74,381.4 1335.24,389.6" fill="none" stroke="#3030ff" stroke-width="1.9"/><polygon points="1343.76,381.4 1352.76,381.4 1348.26,389.6" fill="none" stroke="#3030ff" stroke-width="1.9"/>
<polygon points="981,379.6 987.3,384.3 981,389" fill="none" stroke="#ff00ff" stroke-width="1.9"/><polygon points="994.02,379.6 1000.32,384.3 994.02,389" fill="none" stroke="#ff00ff" stroke-width="1.9"/><polygon points="1007.04,379.6 1013.34,384.3 1007.04,389" fill="none" stroke="#ff00ff" stroke-width="1.9"/><polygon points="1020.06,379.6 1026.36,384.3 1020.06,389" fill="none" stroke="#ff00ff" stroke-width="1.9"/><polygon points="1033.08,379.6 1039.38,384.3 1033.08,389" fill="none" stroke="#ff00ff" stroke-width="1.9"/><polygon points="1046.1,379.6 1052.4,384.3 1046.1,389" fill="none" stroke="#ff00ff" stroke-width="1.9"/><polygon points="1059.12,379.6 1065.42,384.3 1059.12,389" fill="none" stroke="#ff00ff" stroke-width="1.9"/><polygon points="1072.14,379.6 1078.44,384.3 1072.14,389" fill="none" stroke="#ff00ff" stroke-width="1.9"/><polygon points="1085.16,379.6 1091.46,384.3 1085.16,389" fill="none" stroke="#ff00ff" stroke-width="1.9"/><polygon points="1098.18,379.6 1104.48,384.3 1098.18,389" fill="none" stroke="#ff00ff" stroke-width="1.9"/><polygon points="1111.2,379.6 1117.5,384.3 1111.2,389" fill="none" stroke="#ff00ff" stroke-width="1.9"/><polygon points="1124.22,379.6 1130.52,384.3 1124.22,389" fill="none" stroke="#ff00ff" stroke-width="1.9"/><polygon points="1137.24,379.6 1143.54,384.3 1137.24,389" fill="none" stroke="#ff00ff" stroke-width="1.9"/><polygon points="1150.26,379.6 1156.56,384.3 1150.26,389" fill="none" stroke="#ff00ff" stroke-width="1.9"/><polygon points="1163.28,379.6 1169.58,384.3 1163.28,389" fill="none" stroke="#ff00ff" stroke-width="1.9"/><polygon points="1176.3,379.6 1182.6,384.3 1176.3,389" fill="none" stroke="#ff00ff" stroke-width="1.9"/><polygon points="1189.32,379.6 1195.62,384.3 1189.32,389" fill="none" stroke="#ff00ff" stroke-width="1.9"/><polygon points="1202.34,379.6 1208.64,384.3 1202.34,389" fill="none" stroke="#ff00ff" stroke-width="1.9"/><polygon points="1215.36,379.6 1221.66,384.3 1215.36,389" fill="none" stroke="#ff00ff" stroke-width="1.9"/><polygon points="1228.38,379.6 1234.68,384.3 1228.38,389" fill="none" stroke="#ff00ff" stroke-width="1.9"/><polygon points="1241.4,379.6 1247.7,384.3 1241.4,389" fill="none" stroke="#ff00ff" stroke-width="1.9"/><polygon points="1254.42,379.6 1260.72,384.3 1254.42,389" fill="none" stroke="#ff00ff" stroke-width="1.9"/><polygon points="1267.44,379.6 1273.74,384.3 1267.44,389" fill="none" stroke="#ff00ff" stroke-width="1.9"/><polygon points="1280.46,379.6 1286.76,384.3 1280.46,389" fill="none" stroke="#ff00ff" stroke-width="1.9"/><polygon points="1293.48,379.6 1299.78,384.3 1293.48,389" fill="none" stroke="#ff00ff" stroke-width="1.9"/><polygon points="1306.5,379.6 1312.8,384.3 1306.5,389" fill="none" stroke="#ff00ff" stroke-width="1.9"/><polygon points="1319.52,379.6 1325.82,384.3 1319.52,389" fill="none" stroke="#ff00ff" stroke-width="1.9"/><polygon points="1332.54,379.6 1338.84,384.3 1332.54,389" fill="none" stroke="#ff00ff" stroke-width="1.9"/><polygon points="1345.56,379.6 1351.86,384.3 1345.56,389" fill="none" stroke="#ff00ff" stroke-width="1.9"/>
<polygon points="986.4,379.6 980.1,384.3 986.4,389" fill="none" stroke="#ff7800" stroke-width="1.9"/><polygon points="999.42,379.6 993.12,384.3 999.42,389" fill="none" stroke="#ff7800" stroke-width="1.9"/><polygon points="1012.44,379.6 1006.14,384.3 1012.44,389" fill="none" stroke="#ff7800" stroke-width="1.9"/><polygon points="1025.46,379.6 1019.16,384.3 1025.46,389" fill="none" stroke="#ff7800" stroke-width="1.9"/><polygon points="1038.48,379.6 1032.18,384.3 1038.48,389" fill="none" stroke="#ff7800" stroke-width="1.9"/><polygon points="1051.5,379.6 1045.2,384.3 1051.5,389" fill="none" stroke="#ff7800" stroke-width="1.9"/><polygon points="1064.52,379.6 1058.22,384.3 1064.52,389" fill="none" stroke="#ff7800" stroke-width="1.9"/><polygon points="1077.54,379.6 1071.24,384.3 1077.54,389" fill="none" stroke="#ff7800" stroke-width="1.9"/><polygon points="1090.56,379.6 1084.26,384.3 1090.56,389" fill="none" stroke="#ff7800" stroke-width="1.9"/><polygon points="1103.58,379.6 1097.28,384.3 1103.58,389" fill="none" stroke="#ff7800" stroke-width="1.9"/><polygon points="1116.6,379.6 1110.3,384.3 1116.6,389" fill="none" stroke="#ff7800" stroke-width="1.9"/><polygon points="1129.62,379.6 1123.32,384.3 1129.62,389" fill="none" stroke="#ff7800" stroke-width="1.9"/><polygon points="1142.64,379.6 1136.34,384.3 1142.64,389" fill="none" stroke="#ff7800" stroke-width="1.9"/><polygon points="1155.66,379.6 1149.36,384.3 1155.66,389" fill="none" stroke="#ff7800" stroke-width="1.9"/><polygon points="1168.68,379.6 1162.38,384.3 1168.68,389" fill="none" stroke="#ff7800" stroke-width="1.9"/><polygon points="1181.7,379.6 1175.4,384.3 1181.7,389" fill="none" stroke="#ff7800" stroke-width="1.9"/><polygon points="1194.72,379.6 1188.42,384.3 1194.72,389" fill="none" stroke="#ff7800" stroke-width="1.9"/><polygon points="1207.74,379.6 1201.44,384.3 1207.74,389" fill="none" stroke="#ff7800" stroke-width="1.9"/><polygon points="1220.76,379.6 1214.46,384.3 1220.76,389" fill="none" stroke="#ff7800" stroke-width="1.9"/><polygon points="1233.78,379.6 1227.48,384.3 1233.78,389" fill="none" stroke="#ff7800" stroke-width="1.9"/><polygon points="1246.8,379.6 1240.5,384.3 1246.8,389" fill="none" stroke="#ff7800" stroke-width="1.9"/><polygon points="1259.82,379.6 1253.52,384.3 1259.82,389" fill="none" stroke="#ff7800" stroke-width="1.9"/><polygon points="1272.84,379.6 1266.54,384.3 1272.84,389" fill="none" stroke="#ff7800" stroke-width="1.9"/><polygon points="1285.86,379.6 1279.56,384.3 1285.86,389" fill="none" stroke="#ff7800" stroke-width="1.9"/><polygon points="1298.88,379.6 1292.58,384.3 1298.88,389" fill="none" stroke="#ff7800" stroke-width="1.9"/><polygon points="1311.9,379.6 1305.6,384.3 1311.9,389" fill="none" stroke="#ff7800" stroke-width="1.9"/><polygon points="1324.92,379.6 1318.62,384.3 1324.92,389" fill="none" stroke="#ff7800" stroke-width="1.9"/><polygon points="1337.94,379.6 1331.64,384.3 1337.94,389" fill="none" stroke="#ff7800" stroke-width="1.9"/><polygon points="1350.96,379.6 1344.66,384.3 1350.96,389" fill="none" stroke="#ff7800" stroke-width="1.9"/>
<polygon points="983.7,378.6 988.9,384.3 983.7,390 978.5,384.3" fill="none" stroke="#0078ff" stroke-width="1.9"/><polygon points="996.72,378.6 1001.92,384.3 996.72,390 991.52,384.3" fill="none" stroke="#0078ff" stroke-width="1.9"/><polygon points="1009.74,378.6 1014.94,384.3 1009.74,390 1004.54,384.3" fill="none" stroke="#0078ff" stroke-width="1.9"/><polygon points="1022.76,378.6 1027.96,384.3 1022.76,390 1017.56,384.3" fill="none" stroke="#0078ff" stroke-width="1.9"/><polygon points="1035.78,378.6 1040.98,384.3 1035.78,390 1030.58,384.3" fill="none" stroke="#0078ff" stroke-width="1.9"/><polygon points="1048.8,378.6 1054,384.3 1048.8,390 1043.6,384.3" fill="none" stroke="#0078ff" stroke-width="1.9"/><polygon points="1061.82,378.6 1067.02,384.3 1061.82,390 1056.62,384.3" fill="none" stroke="#0078ff" stroke-width="1.9"/><polygon points="1074.84,378.6 1080.04,384.3 1074.84,390 1069.64,384.3" fill="none" stroke="#0078ff" stroke-width="1.9"/><polygon points="1087.86,378.6 1093.06,384.3 1087.86,390 1082.66,384.3" fill="none" stroke="#0078ff" stroke-width="1.9"/><polygon points="1100.88,378.6 1106.08,384.3 1100.88,390 1095.68,384.3" fill="none" stroke="#0078ff" stroke-width="1.9"/><polygon points="1113.9,378.6 1119.1,384.3 1113.9,390 1108.7,384.3" fill="none" stroke="#0078ff" stroke-width="1.9"/><polygon points="1126.92,378.6 1132.12,384.3 1126.92,390 1121.72,384.3" fill="none" stroke="#0078ff" stroke-width="1.9"/><polygon points="1139.94,378.6 1145.14,384.3 1139.94,390 1134.74,384.3" fill="none" stroke="#0078ff" stroke-width="1.9"/><polygon points="1152.96,378.6 1158.16,384.3 1152.96,390 1147.76,384.3" fill="none" stroke="#0078ff" stroke-width="1.9"/><polygon points="1165.98,378.6 1171.18,384.3 1165.98,390 1160.78,384.3" fill="none" stroke="#0078ff" stroke-width="1.9"/><polygon points="1179,378.6 1184.2,384.3 1179,390 1173.8,384.3" fill="none" stroke="#0078ff" stroke-width="1.9"/><polygon points="1192.02,378.6 1197.22,384.3 1192.02,390 1186.82,384.3" fill="none" stroke="#0078ff" stroke-width="1.9"/><polygon points="1205.04,378.6 1210.24,384.3 1205.04,390 1199.84,384.3" fill="none" stroke="#0078ff" stroke-width="1.9"/><polygon points="1218.06,378.6 1223.26,384.3 1218.06,390 1212.86,384.3" fill="none" stroke="#0078ff" stroke-width="1.9"/><polygon points="1231.08,378.6 1236.28,384.3 1231.08,390 1225.88,384.3" fill="none" stroke="#0078ff" stroke-width="1.9"/><polygon points="1244.1,378.6 1249.3,384.3 1244.1,390 1238.9,384.3" fill="none" stroke="#0078ff" stroke-width="1.9"/><polygon points="1257.12,378.6 1262.32,384.3 1257.12,390 1251.92,384.3" fill="none" stroke="#0078ff" stroke-width="1.9"/><polygon points="1270.14,378.6 1275.34,384.3 1270.14,390 1264.94,384.3" fill="none" stroke="#0078ff" stroke-width="1.9"/><polygon points="1283.16,378.6 1288.36,384.3 1283.16,390 1277.96,384.3" fill="none" stroke="#0078ff" stroke-width="1.9"/><polygon points="1296.18,378.6 1301.38,384.3 1296.18,390 1290.98,384.3" fill="none" stroke="#0078ff" stroke-width="1.9"/><polygon points="1309.2,378.6 1314.4,384.3 1309.2,390 1304,384.3" fill="none" stroke="#0078ff" stroke-width="1.9"/><polygon points="1322.22,378.6 1327.42,384.3 1322.22,390 1317.02,384.3" fill="none" stroke="#0078ff" stroke-width="1.9"/><polygon points="1335.24,378.6 1340.44,384.3 1335.24,390 1330.04,384.3" fill="none" stroke="#0078ff" stroke-width="1.9"/><polygon points="1348.26,378.6 1353.46,384.3 1348.26,390 1343.06,384.3" fill="none" stroke="#0078ff" stroke-width="1.9"/>
<line x1="983.7" y1="384.3" x2="1356.6" y2="384.3" stroke="#000" stroke-width="1.5"/>
<line x1="983.7" y1="41.0" x2="983.7" y2="384.3" stroke="#000" stroke-width="2.8"/>
<line x1="983.7" y1="384.3" x2="983.7" y2="375.3" stroke="#000" stroke-width="2"/>
<line x1="1030.31" y1="384.3" x2="1030.31" y2="379.7" stroke="#000" stroke-width="0.9"/>
<line x1="1076.92" y1="384.3" x2="1076.92" y2="375.3" stroke="#000" stroke-width="2"/>
<line x1="1123.54" y1="384.3" x2="1123.54" y2="379.7" stroke="#000" stroke-width="0.9"/>
<line x1="1170.15" y1="384.3" x2="1170.15" y2="375.3" stroke="#000" stroke-width="2"/>
<line x1="1216.76" y1="384.3" x2="1216.76" y2="379.7" stroke="#000" stroke-width="0.9"/>
<line x1="1263.38" y1="384.3" x2="1263.38" y2="375.3" stroke="#000" stroke-width="2"/>
<line x1="1309.99" y1="384.3" x2="1309.99" y2="379.7" stroke="#000" stroke-width="0.9"/>
<line x1="1356.6" y1="384.3" x2="1356.6" y2="375.3" stroke="#000" stroke-width="2"/>
<line x1="983.7" y1="384.3" x2="992.3" y2="384.3" stroke="#000" stroke-width="2"/>
<line x1="983.7" y1="349.97" x2="988.9" y2="349.97" stroke="#000" stroke-width="0.9"/>
<line x1="983.7" y1="315.64" x2="992.3" y2="315.64" stroke="#000" stroke-width="2"/>
<line x1="983.7" y1="281.31" x2="988.9" y2="281.31" stroke="#000" stroke-width="0.9"/>
<line x1="983.7" y1="246.98" x2="992.3" y2="246.98" stroke="#000" stroke-width="2"/>
<line x1="983.7" y1="212.65" x2="988.9" y2="212.65" stroke="#000" stroke-width="0.9"/>
<line x1="983.7" y1="178.32" x2="992.3" y2="178.32" stroke="#000" stroke-width="2"/>
<line x1="983.7" y1="143.99" x2="988.9" y2="143.99" stroke="#000" stroke-width="0.9"/>
<line x1="983.7" y1="109.66" x2="992.3" y2="109.66" stroke="#000" stroke-width="2"/>
<line x1="983.7" y1="75.33" x2="988.9" y2="75.33" stroke="#000" stroke-width="0.9"/>
<line x1="983.7" y1="41" x2="992.3" y2="41" stroke="#000" stroke-width="2"/>
<text transform="translate(974,393.62) scale(0.94,1)" font-family="'Liberation Sans', Arial, Helvetica, sans-serif" font-size="27.0" text-anchor="end">0</text>
<text transform="translate(974,324.95) scale(0.94,1)" font-family="'Liberation Sans', Arial, Helvetica, sans-serif" font-size="27.0" text-anchor="end">0.2</text>
<text transform="translate(974,256.3) scale(0.94,1)" font-family="'Liberation Sans', Arial, Helvetica, sans-serif" font-size="27.0" text-anchor="end">0.4</text>
<text transform="translate(974,187.63) scale(0.94,1)" font-family="'Liberation Sans', Arial, Helvetica, sans-serif" font-size="27.0" text-anchor="end">0.6</text>
<text transform="translate(974,118.97) scale(0.94,1)" font-family="'Liberation Sans', Arial, Helvetica, sans-serif" font-size="27.0" text-anchor="end">0.8</text>
<text x="959.83" y="49.9" font-family="NanumGothic, 'Liberation Sans', sans-serif" font-size="25.5" stroke="#000" stroke-width="0.55">1</text>
<text transform="translate(983.7,415.5) scale(0.94,1)" font-family="'Liberation Sans', Arial, Helvetica, sans-serif" font-size="27.0" text-anchor="middle">0</text>
<text transform="translate(1076.92,415.5) scale(0.94,1)" font-family="'Liberation Sans', Arial, Helvetica, sans-serif" font-size="27.0" text-anchor="middle">0.25</text>
<text transform="translate(1170.15,415.5) scale(0.94,1)" font-family="'Liberation Sans', Arial, Helvetica, sans-serif" font-size="27.0" text-anchor="middle">0.5</text>
<text transform="translate(1263.38,415.5) scale(0.94,1)" font-family="'Liberation Sans', Arial, Helvetica, sans-serif" font-size="27.0" text-anchor="middle">0.75</text>
<text x="1348.93" y="415.3" font-family="NanumGothic, 'Liberation Sans', sans-serif" font-size="25.5" stroke="#000" stroke-width="0.55">1</text>
<line x1="1377.8" y1="48.8" x2="1521.9" y2="48.8" stroke="#d20000" stroke-width="2.2"/>
<rect x="1442.45" y="41.15" width="15.3" height="15.3" fill="none" stroke="#d20000" stroke-width="2.5"/>
<line x1="1377.8" y1="115.2" x2="1521.9" y2="115.2" stroke="#00d000" stroke-width="2.2"/>
<ellipse cx="1450.1" cy="115.2" rx="8" ry="8.6" fill="none" stroke="#00d000" stroke-width="2.5"/>
<line x1="1377.8" y1="181.5" x2="1521.9" y2="181.5" stroke="#3030ff" stroke-width="2.2"/>
<polygon points="1440.9,175.9 1459.3,175.9 1450.1,192.3" fill="none" stroke="#3030ff" stroke-width="2.5"/>
<line x1="1377.8" y1="247.9" x2="1521.9" y2="247.9" stroke="#ff00ff" stroke-width="2.2"/>
<polygon points="1445.6,238.6 1461,247.9 1445.6,257.2" fill="none" stroke="#ff00ff" stroke-width="2.5"/>
<line x1="1377.8" y1="314.1" x2="1521.9" y2="314.1" stroke="#ff7800" stroke-width="2.2"/>
<polygon points="1454.6,304.8 1440,314.1 1454.6,323.4" fill="none" stroke="#ff7800" stroke-width="2.5"/>
<line x1="1377.8" y1="380.7" x2="1521.9" y2="380.7" stroke="#0078ff" stroke-width="2.2"/>
<polygon points="1450.2,369.8 1460.4,380.7 1450.2,391.6 1440,380.7" fill="none" stroke="#0078ff" stroke-width="2.5"/>
<text transform="translate(-2.2,36.2) scale(0.9,1)" font-family="'Liberation Serif', 'Times New Roman', Times, serif" font-style="italic" stroke="#000" stroke-width="0.45" font-size="52" text-anchor="start">(a)</text>
<text transform="translate(836.9,40.6) scale(0.9,1)" font-family="'Liberation Serif', 'Times New Roman', Times, serif" font-style="italic" stroke="#000" stroke-width="0.45" font-size="52" text-anchor="start">(b)</text>
<text transform="translate(39.3,324.4) rotate(-90)" font-family="'Liberation Serif', 'Times New Roman', Times, serif" font-style="italic" font-size="51.1" stroke="#000" stroke-width="0.55">l(t)</text>
<text x="454" y="644.2" font-family="'Liberation Serif', 'Times New Roman', Times, serif" font-style="italic" stroke="#000" stroke-width="0.45" font-size="53" text-anchor="start">t</text>
<text x="1266.67" y="639.6" font-family="'Liberation Serif', 'Times New Roman', Times, serif" font-style="italic" stroke="#000" stroke-width="0.45" font-size="54.3" text-anchor="start">k</text>
<text transform="translate(1294.3,639.6) scale(0.87,1)" font-family="'Liberation Serif', 'Times New Roman', Times, serif" stroke="#000" stroke-width="0.45" font-size="52.5" text-anchor="start">/</text>
<text transform="translate(1307.91,639.6) scale(0.86,1)" font-family="'Liberation Serif', 'Times New Roman', Times, serif" font-weight="bold" font-size="57.0" stroke="#000" stroke-width="0.3">&#960;</text>
<text x="1160.15" y="459" font-family="'Liberation Serif', 'Times New Roman', Times, serif" font-style="italic" stroke="#000" stroke-width="0.45" font-size="45.0" text-anchor="start">k</text>
<text transform="translate(1183.3,459) scale(0.87,1)" font-family="'Liberation Serif', 'Times New Roman', Times, serif" stroke="#000" stroke-width="0.45" font-size="40.5" text-anchor="start">/</text>
<text transform="translate(1193.53,459) scale(0.86,1)" font-family="'Liberation Serif', 'Times New Roman', Times, serif" font-weight="bold" font-size="42.5" stroke="#000" stroke-width="0.3">&#960;</text>
<text transform="translate(471.38,422) scale(1.1,1)" font-family="'Liberation Serif', 'Times New Roman', Times, serif" font-style="italic" stroke="#000" stroke-width="0.45" font-size="37.5" text-anchor="start">J</text>
<text x="488.91" y="433" font-family="'Liberation Serif', 'Times New Roman', Times, serif" font-style="italic" stroke="#000" stroke-width="0.45" font-size="23.0" text-anchor="start">e</text>
<text x="497.07" y="422" font-family="'Liberation Serif', 'Times New Roman', Times, serif" font-style="italic" stroke="#000" stroke-width="0.45" font-size="37.5" text-anchor="start">=</text>
<text transform="translate(519.97,422) scale(1.1,1)" font-family="'Liberation Serif', 'Times New Roman', Times, serif" font-style="italic" stroke="#000" stroke-width="0.45" font-size="37.5" text-anchor="start">J</text>
<text x="537.21" y="433" font-family="'Liberation Serif', 'Times New Roman', Times, serif" font-style="italic" stroke="#000" stroke-width="0.45" font-size="23.0" text-anchor="start">o</text>
<text x="546.77" y="422" font-family="'Liberation Serif', 'Times New Roman', Times, serif" font-style="italic" stroke="#000" stroke-width="0.45" font-size="37.5" text-anchor="start">=</text>
<text transform="translate(572.65,422) scale(0.9,1)" font-family="'Liberation Serif', 'Times New Roman', Times, serif" font-style="italic" stroke="#000" stroke-width="0.45" font-size="37.5" text-anchor="start">1</text>
<text transform="translate(471.57,495) scale(1.1,1)" font-family="'Liberation Serif', 'Times New Roman', Times, serif" font-style="italic" stroke="#000" stroke-width="0.45" font-size="37.5" text-anchor="start">J</text>
<text x="488.51" y="506" font-family="'Liberation Serif', 'Times New Roman', Times, serif" font-style="italic" stroke="#000" stroke-width="0.45" font-size="23.0" text-anchor="start">o</text>
<text x="498.77" y="495" font-family="'Liberation Serif', 'Times New Roman', Times, serif" font-style="italic" stroke="#000" stroke-width="0.45" font-size="37.5" text-anchor="start">=</text>
<text transform="translate(524.45,495) scale(0.9,1)" font-family="'Liberation Serif', 'Times New Roman', Times, serif" font-style="italic" stroke="#000" stroke-width="0.45" font-size="37.5" text-anchor="start">1</text>
<text x="539.58" y="495" font-family="'Liberation Serif', 'Times New Roman', Times, serif" font-style="italic" stroke="#000" stroke-width="0.45" font-size="37.5" text-anchor="start">,</text>
<text transform="translate(555.88,495) scale(1.1,1)" font-family="'Liberation Serif', 'Times New Roman', Times, serif" font-style="italic" stroke="#000" stroke-width="0.45" font-size="37.5" text-anchor="start">J</text>
<text x="573.01" y="506" font-family="'Liberation Serif', 'Times New Roman', Times, serif" font-style="italic" stroke="#000" stroke-width="0.45" font-size="23.0" text-anchor="start">e</text>
<text x="581.98" y="495" font-family="'Liberation Serif', 'Times New Roman', Times, serif" font-style="italic" stroke="#000" stroke-width="0.45" font-size="37.5" text-anchor="start">=</text>
<text x="607.2" y="495" font-family="'Liberation Serif', 'Times New Roman', Times, serif" font-style="italic" stroke="#000" stroke-width="0.45" font-size="37.5" text-anchor="start">2</text>
<text transform="translate(1545.64,58.9) scale(0.84,1)" font-family="'Liberation Serif', 'Times New Roman', Times, serif" font-style="italic" stroke="#000" stroke-width="0.45" font-size="34.2" text-anchor="start">A</text>
<text x="1565.08" y="68.7" font-family="'Liberation Serif', 'Times New Roman', Times, serif" font-style="italic" stroke="#000" stroke-width="0.45" font-size="20.5" text-anchor="start">0</text>
<text x="1573.59" y="68.7" font-family="'Liberation Serif', 'Times New Roman', Times, serif" font-style="italic" stroke="#000" stroke-width="0.45" font-size="20.5" text-anchor="start">,</text>
<text x="1586.98" y="68.7" font-family="'Liberation Serif', 'Times New Roman', Times, serif" font-style="italic" stroke="#000" stroke-width="0.45" font-size="20.5" text-anchor="start">k</text>
<text transform="translate(1544.76,125.3) scale(0.98,1)" font-family="'Liberation Serif', 'Times New Roman', Times, serif" font-style="italic" stroke="#000" stroke-width="0.45" font-size="34.2" text-anchor="start">B</text>
<text x="1565.08" y="135.1" font-family="'Liberation Serif', 'Times New Roman', Times, serif" font-style="italic" stroke="#000" stroke-width="0.45" font-size="20.5" text-anchor="start">0</text>
<text x="1573.59" y="135.1" font-family="'Liberation Serif', 'Times New Roman', Times, serif" font-style="italic" stroke="#000" stroke-width="0.45" font-size="20.5" text-anchor="start">,</text>
<text x="1586.98" y="135.1" font-family="'Liberation Serif', 'Times New Roman', Times, serif" font-style="italic" stroke="#000" stroke-width="0.45" font-size="20.5" text-anchor="start">k</text>
<text transform="translate(1545.64,191.6) scale(0.84,1)" font-family="'Liberation Serif', 'Times New Roman', Times, serif" font-style="italic" stroke="#000" stroke-width="0.45" font-size="34.2" text-anchor="start">A</text>
<text x="1565.08" y="201.4" font-family="'Liberation Serif', 'Times New Roman', Times, serif" font-style="italic" stroke="#000" stroke-width="0.45" font-size="20.5" text-anchor="start">1</text>
<text x="1573.59" y="201.4" font-family="'Liberation Serif', 'Times New Roman', Times, serif" font-style="italic" stroke="#000" stroke-width="0.45" font-size="20.5" text-anchor="start">,</text>
<text x="1586.98" y="201.4" font-family="'Liberation Serif', 'Times New Roman', Times, serif" font-style="italic" stroke="#000" stroke-width="0.45" font-size="20.5" text-anchor="start">k</text>
<text transform="translate(1544.76,258) scale(0.98,1)" font-family="'Liberation Serif', 'Times New Roman', Times, serif" font-style="italic" stroke="#000" stroke-width="0.45" font-size="34.2" text-anchor="start">B</text>
<text x="1565.08" y="267.8" font-family="'Liberation Serif', 'Times New Roman', Times, serif" font-style="italic" stroke="#000" stroke-width="0.45" font-size="20.5" text-anchor="start">1</text>
<text x="1573.59" y="267.8" font-family="'Liberation Serif', 'Times New Roman', Times, serif" font-style="italic" stroke="#000" stroke-width="0.45" font-size="20.5" text-anchor="start">,</text>
<text x="1586.98" y="267.8" font-family="'Liberation Serif', 'Times New Roman', Times, serif" font-style="italic" stroke="#000" stroke-width="0.45" font-size="20.5" text-anchor="start">k</text>
<text x="1545.05" y="324.2" font-family="'Liberation Serif', 'Times New Roman', Times, serif" font-style="italic" stroke="#000" stroke-width="0.45" font-size="34.2" text-anchor="start">C</text>
<text x="1566.38" y="334" font-family="'Liberation Serif', 'Times New Roman', Times, serif" font-style="italic" stroke="#000" stroke-width="0.45" font-size="20.5" text-anchor="start">k</text>
<text transform="translate(1545.53,390.8) scale(0.96,1)" font-family="'Liberation Serif', 'Times New Roman', Times, serif" font-style="italic" stroke="#000" stroke-width="0.45" font-size="34.2" text-anchor="start">D</text>
<text x="1568.79" y="400.6" font-family="'Liberation Serif', 'Times New Roman', Times, serif" font-style="italic" stroke="#000" stroke-width="0.45" font-size="20.5" text-anchor="start">k</text>
</svg>
</body></html>
